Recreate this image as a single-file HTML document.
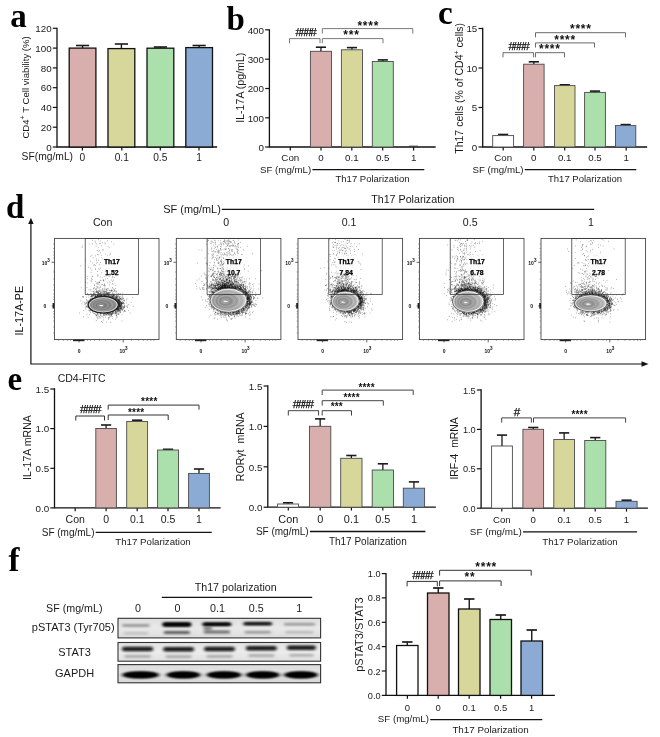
<!DOCTYPE html>
<html lang="en"><head><meta charset="utf-8"><title>Figure</title>
<style>html,body{margin:0;padding:0;background:#fff}svg{display:block;will-change:transform}text{font-family:"Liberation Sans", Arial, sans-serif;white-space:pre}text.sf{font-family:"Liberation Serif", "Times New Roman", serif}</style>
</head><body>
<svg width="660" height="737" viewBox="0 0 660 737">
<defs>
<filter id="b1" x="-20%" y="-150%" width="140%" height="400%"><feGaussianBlur stdDeviation="1.5 0.95"/></filter>
<filter id="b2" x="-20%" y="-150%" width="140%" height="400%"><feGaussianBlur stdDeviation="1.9 1.2"/></filter>
<linearGradient id="bg0" x1="0" y1="0" x2="0" y2="1"><stop offset="0" stop-color="#dedede"/><stop offset="0.5" stop-color="#e9e9e9"/><stop offset="1" stop-color="#dcdcdc"/></linearGradient>
<linearGradient id="bg1" x1="0" y1="0" x2="0" y2="1"><stop offset="0" stop-color="#e2e2e2"/><stop offset="0.5" stop-color="#ececec"/><stop offset="1" stop-color="#e0e0e0"/></linearGradient>
<linearGradient id="bg2" x1="0" y1="0" x2="0" y2="1"><stop offset="0" stop-color="#dadada"/><stop offset="0.5" stop-color="#e6e6e6"/><stop offset="1" stop-color="#d6d6d6"/></linearGradient>
<filter id="soft" x="-5%" y="-5%" width="110%" height="110%"><feGaussianBlur stdDeviation="0.35"/></filter>
<radialGradient id="blob" cx="0.40" cy="0.54" r="0.62"><stop offset="0" stop-color="#d8d8d8"/><stop offset="0.12" stop-color="#8c8c8c"/><stop offset="0.4" stop-color="#9a9a9a"/><stop offset="0.7" stop-color="#b4b4b4"/><stop offset="1" stop-color="#d4d4d4"/></radialGradient>
<radialGradient id="blobd" cx="0.42" cy="0.54" r="0.62"><stop offset="0" stop-color="#e6e6e6"/><stop offset="0.1" stop-color="#7c7c7c"/><stop offset="0.5" stop-color="#868686"/><stop offset="1" stop-color="#9c9c9c"/></radialGradient>
</defs>
<rect width="660" height="737" fill="#fff"/>
<text x="10.3" y="27" font-size="33" font-weight="bold" class="sf" fill="#000">a</text>
<path d="M57 28.3V147H216.5" fill="none" stroke="#111" stroke-width="1.3" stroke-linecap="square"/>
<line x1="52.8" y1="28.3" x2="57" y2="28.3" stroke="#111" stroke-width="1.2"/>
<text x="51.6" y="32.03" font-size="9.8" text-anchor="end" fill="#1a1a1a">120</text>
<line x1="52.8" y1="48.1" x2="57" y2="48.1" stroke="#111" stroke-width="1.2"/>
<text x="51.6" y="51.83" font-size="9.8" text-anchor="end" fill="#1a1a1a">100</text>
<line x1="52.8" y1="67.9" x2="57" y2="67.9" stroke="#111" stroke-width="1.2"/>
<text x="51.6" y="71.63" font-size="9.8" text-anchor="end" fill="#1a1a1a">80</text>
<line x1="52.8" y1="87.7" x2="57" y2="87.7" stroke="#111" stroke-width="1.2"/>
<text x="51.6" y="91.43" font-size="9.8" text-anchor="end" fill="#1a1a1a">60</text>
<line x1="52.8" y1="107.4" x2="57" y2="107.4" stroke="#111" stroke-width="1.2"/>
<text x="51.6" y="111.13" font-size="9.8" text-anchor="end" fill="#1a1a1a">40</text>
<line x1="52.8" y1="127.2" x2="57" y2="127.2" stroke="#111" stroke-width="1.2"/>
<text x="51.6" y="130.93" font-size="9.8" text-anchor="end" fill="#1a1a1a">20</text>
<line x1="52.8" y1="147" x2="57" y2="147" stroke="#111" stroke-width="1.2"/>
<text x="51.6" y="150.73" font-size="9.8" text-anchor="end" fill="#1a1a1a">0</text>
<line x1="82.4" y1="147" x2="82.4" y2="150.4" stroke="#111" stroke-width="1.2"/>
<text x="82.4" y="160.6" font-size="10.2" text-anchor="middle" fill="#1a1a1a">0</text>
<line x1="121.8" y1="147" x2="121.8" y2="150.4" stroke="#111" stroke-width="1.2"/>
<text x="121.8" y="160.6" font-size="10.2" text-anchor="middle" fill="#1a1a1a">0.1</text>
<line x1="160.3" y1="147" x2="160.3" y2="150.4" stroke="#111" stroke-width="1.2"/>
<text x="160.3" y="160.6" font-size="10.2" text-anchor="middle" fill="#1a1a1a">0.5</text>
<line x1="199" y1="147" x2="199" y2="150.4" stroke="#111" stroke-width="1.2"/>
<text x="199" y="160.6" font-size="10.2" text-anchor="middle" fill="#1a1a1a">1</text>
<text x="47.3" y="160.4" font-size="10.3" text-anchor="middle" fill="#1a1a1a">SF(mg/mL)</text>
<line x1="82.55" y1="45.5" x2="82.55" y2="48.1" stroke="#1a1a1a" stroke-width="1.4"/>
<line x1="75.95" y1="45.5" x2="89.15" y2="45.5" stroke="#1a1a1a" stroke-width="1.6"/>
<rect x="69.2" y="48.1" width="26.7" height="98.9" fill="#D9AFAE" stroke="#111" stroke-width="1.3"/>
<line x1="121.4" y1="44" x2="121.4" y2="48.6" stroke="#1a1a1a" stroke-width="1.4"/>
<line x1="114.8" y1="44" x2="128" y2="44" stroke="#1a1a1a" stroke-width="1.6"/>
<rect x="108" y="48.6" width="26.8" height="98.4" fill="#D7D79B" stroke="#111" stroke-width="1.3"/>
<line x1="160.4" y1="47" x2="160.4" y2="48.2" stroke="#1a1a1a" stroke-width="1.4"/>
<line x1="153.8" y1="47" x2="167" y2="47" stroke="#1a1a1a" stroke-width="1.6"/>
<rect x="147" y="48.2" width="26.8" height="98.8" fill="#ABDFAB" stroke="#111" stroke-width="1.3"/>
<line x1="199.15" y1="45.5" x2="199.15" y2="47.6" stroke="#1a1a1a" stroke-width="1.4"/>
<line x1="192.55" y1="45.5" x2="205.75" y2="45.5" stroke="#1a1a1a" stroke-width="1.6"/>
<rect x="185.8" y="47.6" width="26.7" height="99.4" fill="#8BABD4" stroke="#111" stroke-width="1.3"/>
<text x="29.2" y="87.4" font-size="9.6" text-anchor="middle" fill="#1a1a1a" transform="rotate(-90 29.2 87.4)">CD4<tspan dy="-3.8" font-size="7">+</tspan><tspan dy="3.8"> T Cell viability (%)</tspan></text>
<text x="226.5" y="30.2" font-size="33" font-weight="bold" class="sf" fill="#000">b</text>
<path d="M269.4 29.8V147H435" fill="none" stroke="#111" stroke-width="1.3" stroke-linecap="square"/>
<line x1="265.2" y1="29.8" x2="269.4" y2="29.8" stroke="#111" stroke-width="1.2"/>
<text x="264" y="33.53" font-size="9.8" text-anchor="end" fill="#1a1a1a">400</text>
<line x1="265.2" y1="59.2" x2="269.4" y2="59.2" stroke="#111" stroke-width="1.2"/>
<text x="264" y="62.93" font-size="9.8" text-anchor="end" fill="#1a1a1a">300</text>
<line x1="265.2" y1="88.5" x2="269.4" y2="88.5" stroke="#111" stroke-width="1.2"/>
<text x="264" y="92.23" font-size="9.8" text-anchor="end" fill="#1a1a1a">200</text>
<line x1="265.2" y1="117.8" x2="269.4" y2="117.8" stroke="#111" stroke-width="1.2"/>
<text x="264" y="121.53" font-size="9.8" text-anchor="end" fill="#1a1a1a">100</text>
<line x1="265.2" y1="147" x2="269.4" y2="147" stroke="#111" stroke-width="1.2"/>
<text x="264" y="150.73" font-size="9.8" text-anchor="end" fill="#1a1a1a">0</text>
<line x1="290.3" y1="147" x2="290.3" y2="150.4" stroke="#111" stroke-width="1.2"/>
<text x="290.3" y="161" font-size="9.75" text-anchor="middle" fill="#1a1a1a">Con</text>
<line x1="321" y1="147" x2="321" y2="150.4" stroke="#111" stroke-width="1.2"/>
<text x="321" y="161" font-size="9.75" text-anchor="middle" fill="#1a1a1a">0</text>
<line x1="351.8" y1="147" x2="351.8" y2="150.4" stroke="#111" stroke-width="1.2"/>
<text x="351.8" y="161" font-size="9.75" text-anchor="middle" fill="#1a1a1a">0.1</text>
<line x1="382.7" y1="147" x2="382.7" y2="150.4" stroke="#111" stroke-width="1.2"/>
<text x="382.7" y="161" font-size="9.75" text-anchor="middle" fill="#1a1a1a">0.5</text>
<line x1="413.6" y1="147" x2="413.6" y2="150.4" stroke="#111" stroke-width="1.2"/>
<text x="413.6" y="161" font-size="9.75" text-anchor="middle" fill="#1a1a1a">1</text>
<line x1="320.95" y1="47.2" x2="320.95" y2="51.3" stroke="#1a1a1a" stroke-width="1.3"/>
<line x1="315.85" y1="47.2" x2="326.05" y2="47.2" stroke="#1a1a1a" stroke-width="1.6"/>
<rect x="310.4" y="51.3" width="21.1" height="95.7" fill="#D9AFAE" stroke="#4a4a4a" stroke-width="0.9"/>
<line x1="351.95" y1="47.6" x2="351.95" y2="49.8" stroke="#1a1a1a" stroke-width="1.3"/>
<line x1="346.85" y1="47.6" x2="357.05" y2="47.6" stroke="#1a1a1a" stroke-width="1.6"/>
<rect x="341.4" y="49.8" width="21.1" height="97.2" fill="#D7D79B" stroke="#4a4a4a" stroke-width="0.9"/>
<line x1="382.8" y1="59.9" x2="382.8" y2="61.5" stroke="#1a1a1a" stroke-width="1.3"/>
<line x1="377.7" y1="59.9" x2="387.9" y2="59.9" stroke="#1a1a1a" stroke-width="1.6"/>
<rect x="372.3" y="61.5" width="21" height="85.5" fill="#ABDFAB" stroke="#4a4a4a" stroke-width="0.9"/>
<line x1="409" y1="146.1" x2="418" y2="146.1" stroke="#333" stroke-width="0.8"/>
<text x="243.6" y="87.7" font-size="10.6" text-anchor="middle" fill="#1a1a1a" transform="rotate(-90 243.6 87.7)">IL-17A (pg/mL)</text>
<path d="M289.5 43.2V38.6H320 V43.2" fill="none" stroke="#6a6a6a" stroke-width="0.9"/>
<text x="305.43" y="36.2" font-size="11.7" text-anchor="middle" fill="#111" letter-spacing="-1.55" stroke="#111" stroke-width="0.25">####</text>
<path d="M322.3 43.2V38.6H383 V43.2" fill="none" stroke="#6a6a6a" stroke-width="0.9"/>
<text x="351.48" y="39.25" font-size="12" text-anchor="middle" font-weight="bold" fill="#111" letter-spacing="0.75">***</text>
<path d="M322.3 33.6V28.6H412.8 V33.6" fill="none" stroke="#6a6a6a" stroke-width="0.9"/>
<text x="368.27" y="29.75" font-size="12" text-anchor="middle" font-weight="bold" fill="#111" letter-spacing="0.75">****</text>
<text x="311.2" y="172.8" font-size="9.7" text-anchor="end" fill="#1a1a1a">SF (mg/mL)</text>
<line x1="312.4" y1="169.6" x2="424.3" y2="169.6" stroke="#111" stroke-width="1.3"/>
<text x="372.5" y="181.8" font-size="9.5" text-anchor="middle" fill="#1a1a1a">Th17 Polarization</text>
<text x="438" y="24.2" font-size="33" font-weight="bold" class="sf" fill="#000">c</text>
<path d="M482.7 28.5V147H646.5" fill="none" stroke="#111" stroke-width="1.3" stroke-linecap="square"/>
<line x1="478.5" y1="28.5" x2="482.7" y2="28.5" stroke="#111" stroke-width="1.2"/>
<text x="477.3" y="32.23" font-size="9.8" text-anchor="end" fill="#1a1a1a">15</text>
<line x1="478.5" y1="68" x2="482.7" y2="68" stroke="#111" stroke-width="1.2"/>
<text x="477.3" y="71.73" font-size="9.8" text-anchor="end" fill="#1a1a1a">10</text>
<line x1="478.5" y1="107.5" x2="482.7" y2="107.5" stroke="#111" stroke-width="1.2"/>
<text x="477.3" y="111.23" font-size="9.8" text-anchor="end" fill="#1a1a1a">5</text>
<line x1="478.5" y1="147" x2="482.7" y2="147" stroke="#111" stroke-width="1.2"/>
<text x="477.3" y="150.73" font-size="9.8" text-anchor="end" fill="#1a1a1a">0</text>
<line x1="503.2" y1="147" x2="503.2" y2="150.4" stroke="#111" stroke-width="1.2"/>
<text x="503.2" y="161" font-size="9.7" text-anchor="middle" fill="#1a1a1a">Con</text>
<line x1="533.8" y1="147" x2="533.8" y2="150.4" stroke="#111" stroke-width="1.2"/>
<text x="533.8" y="161" font-size="9.7" text-anchor="middle" fill="#1a1a1a">0</text>
<line x1="564.7" y1="147" x2="564.7" y2="150.4" stroke="#111" stroke-width="1.2"/>
<text x="564.7" y="161" font-size="9.7" text-anchor="middle" fill="#1a1a1a">0.1</text>
<line x1="595" y1="147" x2="595" y2="150.4" stroke="#111" stroke-width="1.2"/>
<text x="595" y="161" font-size="9.7" text-anchor="middle" fill="#1a1a1a">0.5</text>
<line x1="626.2" y1="147" x2="626.2" y2="150.4" stroke="#111" stroke-width="1.2"/>
<text x="626.2" y="161" font-size="9.7" text-anchor="middle" fill="#1a1a1a">1</text>
<line x1="503.15" y1="134.5" x2="503.15" y2="135.6" stroke="#1a1a1a" stroke-width="1.3"/>
<line x1="498.05" y1="134.5" x2="508.25" y2="134.5" stroke="#1a1a1a" stroke-width="1.6"/>
<rect x="492.7" y="135.6" width="20.9" height="11.4" fill="#FFFFFF" stroke="#4a4a4a" stroke-width="0.9"/>
<line x1="533.85" y1="61.8" x2="533.85" y2="64.2" stroke="#1a1a1a" stroke-width="1.3"/>
<line x1="528.75" y1="61.8" x2="538.95" y2="61.8" stroke="#1a1a1a" stroke-width="1.6"/>
<rect x="523.6" y="64.2" width="20.5" height="82.8" fill="#D9AFAE" stroke="#4a4a4a" stroke-width="0.9"/>
<line x1="564.75" y1="84.8" x2="564.75" y2="85.6" stroke="#1a1a1a" stroke-width="1.3"/>
<line x1="559.65" y1="84.8" x2="569.85" y2="84.8" stroke="#1a1a1a" stroke-width="1.6"/>
<rect x="554.5" y="85.6" width="20.5" height="61.4" fill="#D7D79B" stroke="#4a4a4a" stroke-width="0.9"/>
<line x1="595" y1="91.1" x2="595" y2="92.4" stroke="#1a1a1a" stroke-width="1.3"/>
<line x1="589.9" y1="91.1" x2="600.1" y2="91.1" stroke="#1a1a1a" stroke-width="1.6"/>
<rect x="584.6" y="92.4" width="20.8" height="54.6" fill="#ABDFAB" stroke="#4a4a4a" stroke-width="0.9"/>
<line x1="625.65" y1="124.6" x2="625.65" y2="125.6" stroke="#1a1a1a" stroke-width="1.3"/>
<line x1="620.55" y1="124.6" x2="630.75" y2="124.6" stroke="#1a1a1a" stroke-width="1.6"/>
<rect x="615.5" y="125.6" width="20.3" height="21.4" fill="#8BABD4" stroke="#4a4a4a" stroke-width="0.9"/>
<text x="463.2" y="88.3" font-size="10.5" text-anchor="middle" fill="#1a1a1a" transform="rotate(-90 463.2 88.3)">Th17 cells (% of CD4<tspan dy="-3.8" font-size="7.2">+</tspan><tspan dy="3.8"> cells)</tspan></text>
<path d="M503 57.3V52.7H533.6 V57.3" fill="none" stroke="#5a5a5a" stroke-width="0.9"/>
<text x="518.33" y="50.4" font-size="11.7" text-anchor="middle" fill="#111" letter-spacing="-1.55" stroke="#111" stroke-width="0.25">####</text>
<path d="M535.5 57.3V52.7H564.5 V57.3" fill="none" stroke="#5a5a5a" stroke-width="0.9"/>
<text x="549.88" y="53.45" font-size="12" text-anchor="middle" font-weight="bold" fill="#111" letter-spacing="0.75">****</text>
<path d="M535.5 47.5V42.9H594.5 V47.5" fill="none" stroke="#5a5a5a" stroke-width="0.9"/>
<text x="565.08" y="43.75" font-size="12" text-anchor="middle" font-weight="bold" fill="#111" letter-spacing="0.75">****</text>
<path d="M535.5 37.3V32.7H625.5 V37.3" fill="none" stroke="#5a5a5a" stroke-width="0.9"/>
<text x="580.88" y="32.55" font-size="12" text-anchor="middle" font-weight="bold" fill="#111" letter-spacing="0.75">****</text>
<text x="523.6" y="172.8" font-size="9.7" text-anchor="end" fill="#1a1a1a">SF (mg/mL)</text>
<line x1="524.8" y1="169.6" x2="636.3" y2="169.6" stroke="#111" stroke-width="1.3"/>
<text x="585" y="181.6" font-size="9.5" text-anchor="middle" fill="#1a1a1a">Th17 Polarization</text>
<text x="6" y="217.6" font-size="33" font-weight="bold" class="sf" fill="#000">d</text>
<path d="M30.9 222V364H642" fill="none" stroke="#111" stroke-width="1.2"/>
<path d="M30.9 217.8L28.2 224H33.6Z" fill="#111"/>
<path d="M648.5 364L641.5 361.2V366.8Z" fill="#111"/>
<text x="23.2" y="310.7" font-size="10.75" text-anchor="middle" fill="#1a1a1a" transform="rotate(-90 23.2 310.7)">IL-17A-PE</text>
<text x="81.6" y="381.8" font-size="10.5" text-anchor="middle" fill="#1a1a1a">CD4-FITC</text>
<text x="220.8" y="212.5" font-size="10.9" text-anchor="end" fill="#1a1a1a">SF (mg/mL)</text>
<line x1="221.8" y1="209.3" x2="594.2" y2="209.3" stroke="#111" stroke-width="1.2"/>
<text x="412.8" y="203.2" font-size="10.7" text-anchor="middle" fill="#1a1a1a">Th17 Polarization</text>
<text x="102.7" y="226.2" font-size="10.6" text-anchor="middle" fill="#1a1a1a">Con</text>
<g>
<rect x="54.4" y="238.4" width="104.6" height="101.2" fill="#fff" stroke="#3c3c3c" stroke-width="0.85"/>
<path d="M120.09 299.3h0.6M107.38 296.72h0.6M116.26 309.38h0.6M118.79 302.83h0.6M111.95 312.2h0.6M104.07 313.11h0.6M111.85 297.19h0.6M118.66 309.11h0.6M116.47 291.5h0.6M89.42 311.09h0.6M119.26 310.94h0.6M104.19 294.16h0.6M108.54 294.19h0.6M101.5 295.9h0.6M114.92 310.63h0.6M109 294.98h0.6M108.37 318.22h0.6M118.62 304.23h0.6M97.38 317.96h0.6M114.1 297.92h0.6M115.97 300.33h0.6M119.07 301.12h0.6M116.18 297.69h0.6M118.59 302.75h0.6M118.93 309.12h0.6M113.08 297.28h0.6M124.53 306.3h0.6M124.33 310.64h0.6M126.08 302.84h0.6M121.69 307.41h0.6M120.61 306.21h0.6M101.36 295.92h0.6M115.57 300.01h0.6M88.61 297.18h0.6M100.61 292.1h0.6M111.26 297.83h0.6M98.33 296.59h0.6M118.67 299.72h0.6M107.77 312.75h0.6M115.78 299.04h0.6M115.52 298.08h0.6M95.71 315.6h0.6M100.76 312.96h0.6M100.56 315.15h0.6M130.73 302.47h0.6M118.99 307.21h0.6M118.9 305.86h0.6M104.71 315.7h0.6M96.66 295.91h0.6M111.12 314.86h0.6M101.11 313.44h0.6M104.38 283.97h0.6M119.02 300.55h0.6M117.97 299.18h0.6M116.43 297.11h0.6M110.04 296.35h0.6M123.16 303.2h0.6M117.03 299.78h0.6M120.42 311.18h0.6M120.63 306.7h0.6M113.95 312.43h0.6M118.24 310.22h0.6M111.9 297.65h0.6M119.14 297.41h0.6M86.15 299.39h0.6M109.58 292.45h0.6M123.91 300.92h0.6M116.16 299.56h0.6M118.28 300.32h0.6M118.86 306.06h0.6M121.78 314.89h0.6M108.2 312.65h0.6M113.04 297.17h0.6M118.09 300.22h0.6M115.02 299.28h0.6M117.13 313.89h0.6M120.88 306h0.6M118.88 314.03h0.6M109.1 312.79h0.6M112.73 311.72h0.6M122.65 298.29h0.6M104.94 293.99h0.6M90.24 299.28h0.6M115.26 319.11h0.6M121.48 303.56h0.6M116.89 299.98h0.6M119.42 296.72h0.6M117.31 308.49h0.6M95.68 297.67h0.6M118.4 305.99h0.6M119.73 308.04h0.6M118.04 311.29h0.6M120.05 302.71h0.6M116.75 308.6h0.6M111.71 312.21h0.6M99.81 295.17h0.6M103.09 291.45h0.6M122.11 295.97h0.6M100.6 296.01h0.6M110.66 294.58h0.6M108.14 314.34h0.6M115.12 311.67h0.6M106.42 294.03h0.6M117.83 302.37h0.6M106.83 295.42h0.6M110.42 316.32h0.6M118.72 307.01h0.6M116.25 310.38h0.6M107.08 313.1h0.6M113.27 294.62h0.6M105.49 293.14h0.6M122.86 303.94h0.6M117.85 309.35h0.6M117.26 308.86h0.6M100.06 313.48h0.6M100.7 294.51h0.6M119.09 299.31h0.6M116.6 298.68h0.6M108.89 313.82h0.6M89.16 301.56h0.6M124.07 306.76h0.6M119.42 308.96h0.6M118.83 310.44h0.6M103.8 315.47h0.6M121.57 302.48h0.6M114.96 299.43h0.6M108.62 295.71h0.6M119.14 304.29h0.6M110.47 322.5h0.6M97.17 314.29h0.6M120.91 309.44h0.6M117.2 299.61h0.6M90.17 299.77h0.6M100.36 312.92h0.6M110.49 295.07h0.6M116.27 298.2h0.6M109.05 294.18h0.6M118.4 304.3h0.6M111.76 311.88h0.6M119.97 304.38h0.6M118.75 304.87h0.6M113.77 289.48h0.6M119.27 302.12h0.6M117.59 310.26h0.6M120.64 310.6h0.6M97.25 296.66h0.6M111.88 295.18h0.6M88.58 306.97h0.6M108.45 295.32h0.6M95.23 296.79h0.6M101.28 294.37h0.6M120 311.95h0.6M110.88 314.64h0.6M88.87 299.08h0.6M89.25 310.3h0.6M110.45 296.11h0.6M88.41 310.35h0.6M107.66 294.35h0.6M126.87 306.76h0.6M91.43 299.24h0.6M124.45 303.61h0.6M112.96 294.52h0.6M117.56 309.57h0.6M97.84 295.51h0.6M110.8 294.48h0.6M117.02 298.59h0.6M111.46 296.14h0.6M118.72 301.2h0.6M109.63 293.31h0.6M110.36 312.26h0.6M92.26 296.52h0.6M103.52 291.16h0.6M96.76 312.32h0.6M118.68 297.7h0.6M85.95 297.08h0.6M90.68 310.2h0.6M105.01 317.15h0.6M116.02 295.78h0.6M117.65 311.02h0.6M120.88 304.84h0.6M95.21 314.57h0.6M120.85 308.04h0.6M118.87 300.72h0.6M116.94 300.81h0.6M112.13 296.35h0.6M118.69 304.55h0.6M118.02 307.45h0.6M118.09 294.01h0.6M85.11 309h0.6M108.37 312.78h0.6M117.73 296.57h0.6M95.52 297.23h0.6M87.86 303.1h0.6M99.99 313.07h0.6M103.88 295.46h0.6M118.07 306.52h0.6M106.99 294.03h0.6M115.74 292.29h0.6M106.26 295.86h0.6M104.73 313.44h0.6M84.9 304.88h0.6M99.8 295.99h0.6M119.58 305.86h0.6M108.76 294.03h0.6M107.88 294.36h0.6M90.04 300.19h0.6M111.18 313.4h0.6M107.59 293.23h0.6M122.87 302.4h0.6M112.78 311.52h0.6M119.12 307.1h0.6M117.58 309.05h0.6M105.37 314.26h0.6M117.68 301.14h0.6M121.08 303.51h0.6M118.06 308h0.6M114.83 296.82h0.6M112.78 296.23h0.6M106.77 313.76h0.6M108.27 314.76h0.6M119.64 304.4h0.6M118.16 309.07h0.6M100.89 313.51h0.6M118.49 300.08h0.6M92.53 312.35h0.6M119.31 305.98h0.6M85.63 303.48h0.6M113.52 313.42h0.6M88.46 302.47h0.6M95.49 297.34h0.6M114.83 297.03h0.6M120.34 307.51h0.6M120.88 303.14h0.6M117.86 300.04h0.6M116.18 295.88h0.6M116.72 309.61h0.6M100.41 313.27h0.6M94.89 296.49h0.6M112.95 312.63h0.6M118.91 306.08h0.6M118.25 307.82h0.6M102.93 315.29h0.6M110.49 315.37h0.6M123.59 300.8h0.6M116.57 297.03h0.6M120.34 307.33h0.6M118.35 303.6h0.6M104.94 314.78h0.6M118.87 303.05h0.6M115.41 298.82h0.6M122.2 301.99h0.6M103.39 317.78h0.6M125.04 311.25h0.6M114.75 297.16h0.6M107.85 296.26h0.6M112.31 294.13h0.6M114.42 290.89h0.6M106.18 322h0.6M121.55 302.64h0.6M121.25 304.02h0.6M118.71 304.46h0.6M111.59 297.35h0.6M119.52 303.67h0.6M116.65 316.93h0.6M96.3 312.66h0.6M112.85 311.48h0.6M119.55 308.03h0.6M97.47 313.27h0.6M112.2 287.49h0.6M91.87 298.47h0.6M100.7 295.22h0.6M116.82 308.53h0.6M120.82 305.5h0.6M120.22 305.5h0.6M112.58 293.41h0.6M118.63 306.07h0.6M121.74 296.16h0.6M112.11 316.54h0.6M120.81 305.43h0.6M119.48 301.84h0.6M106.38 313.97h0.6M110.81 314h0.6M111.11 316.08h0.6M114.08 313.74h0.6M114.42 296.14h0.6M88.16 300.79h0.6M94.39 295.59h0.6M121.63 307.17h0.6M118.17 300.86h0.6M120.18 304.35h0.6M113.72 294.26h0.6M115.42 288.58h0.6M113.66 298.81h0.6M109.47 315.78h0.6M117.5 308.8h0.6M105.69 293.48h0.6M108.45 294.39h0.6M111.49 296.7h0.6M115.92 297.26h0.6M95.05 296.15h0.6M92.83 298.71h0.6M97.48 295.18h0.6M115.87 313.04h0.6M111.13 294.43h0.6M96.32 296.91h0.6M117.74 308.25h0.6M95.25 295.79h0.6M112.93 297.16h0.6M116.45 309.32h0.6M119.7 301.58h0.6M120.48 302.84h0.6M121.2 304.64h0.6M108.37 317.57h0.6M118.86 310.35h0.6M118.43 314.24h0.6M115.72 299.47h0.6M114.6 311.18h0.6M103.63 314.37h0.6M114.04 295.72h0.6M119.61 302.58h0.6M112.97 313.58h0.6M119.57 302.75h0.6M121.49 308.25h0.6M120.09 298.77h0.6M117.82 302h0.6M116.9 299.33h0.6M128.11 310.67h0.6M116.07 309.95h0.6M103.24 293.69h0.6M118.55 305.17h0.6M117.6 307.49h0.6M96.22 296.02h0.6M111.76 295.77h0.6M91.83 295.91h0.6M123.62 309.07h0.6M120.33 306.24h0.6M89.92 300.78h0.6M122.37 303.55h0.6M103.48 293.59h0.6M83.4 310.47h0.6M116.71 311.86h0.6M122.44 297.87h0.6M86.77 306.51h0.6M117.92 300.72h0.6M116.71 311h0.6M93.47 313.34h0.6M113.12 295.58h0.6M104.97 314.04h0.6M120.18 309.29h0.6M121.34 303.08h0.6M103.82 285.14h0.6M115.95 309.74h0.6M90.7 298.79h0.6M120.79 298.91h0.6M100.6 293.2h0.6M118.33 305.85h0.6M115.14 312.58h0.6M99.16 316.57h0.6M113.11 298.21h0.6M116.55 300.79h0.6M104.94 313.59h0.6M124.02 300.19h0.6M116.69 299.29h0.6M124.04 310.63h0.6M119 303.84h0.6M107.25 293.78h0.6M98.79 295.88h0.6M122.88 312.08h0.6M115.08 312.97h0.6M123.2 302.81h0.6M120.81 306.16h0.6M117.12 309.57h0.6M120.29 306.35h0.6M111.41 289.91h0.6M114.59 291.24h0.6M94.57 311.69h0.6M95.77 296.19h0.6M115.37 298.39h0.6M106.84 295.06h0.6M93.95 296.85h0.6M109.42 312.51h0.6M88.56 302.73h0.6M107.54 294.79h0.6M107.32 296.01h0.6M122.05 305.84h0.6M115.91 315.33h0.6M126.72 298.78h0.6M118.16 314.06h0.6M117.36 308.6h0.6M109.69 312.73h0.6M104.55 295.52h0.6M117.02 308.78h0.6M117.93 300.42h0.6M120.3 303.02h0.6M113.28 296h0.6M124.52 307.03h0.6M119.65 308.12h0.6M122.37 306.31h0.6M120.46 305.78h0.6M92.28 298.77h0.6M116.85 297.28h0.6M113.47 296.84h0.6M99.61 312.98h0.6M99.8 314.15h0.6M118.84 304.89h0.6M86.23 307.31h0.6M119.24 303.06h0.6M107.91 296.57h0.6M108.85 314.17h0.6M120.25 298.51h0.6M108.38 296.11h0.6M118.46 299.75h0.6M123.4 298.56h0.6M118.98 303.81h0.6M91.67 298.29h0.6M117.93 307.96h0.6M123.16 306.69h0.6M106.08 294.26h0.6M116.34 300.34h0.6M105.68 296.07h0.6M121.35 307.36h0.6M103.32 314.23h0.6M117.9 308.73h0.6M115.55 311.8h0.6M119.29 297.53h0.6M128.51 304.49h0.6M112.53 311.96h0.6M118.67 312.68h0.6M116.4 298.2h0.6M102.73 295.96h0.6M118.4 307.35h0.6M119 305.74h0.6M85 307.11h0.6M119.91 303.8h0.6M99.02 295.58h0.6M105.78 294.43h0.6M117.43 296.2h0.6M107.61 292.63h0.6M102.4 295.86h0.6M93.69 293.64h0.6M118.54 305.68h0.6M106.31 314.3h0.6M119.54 308.67h0.6M98.2 293.79h0.6M118.83 304.1h0.6M120.03 301.52h0.6M111.91 313.82h0.6M110.99 290.35h0.6M118.48 309.43h0.6M119.11 306.17h0.6M114.76 297.95h0.6M111.18 314.78h0.6M97.64 295.45h0.6M113.7 297.48h0.6M117.26 296.2h0.6M111.54 291.22h0.6M120.9 297.94h0.6M114.73 297.93h0.6M122.63 308.68h0.6M83.19 296.66h0.6M124.3 310.88h0.6M97.85 296.02h0.6M103.41 313.02h0.6M103.7 296.09h0.6M97.38 295.62h0.6M116.57 298.49h0.6M107.84 296.29h0.6M111.95 296.33h0.6M120.44 298.39h0.6M125.9 306.13h0.6M90.98 295.3h0.6M104.67 294.05h0.6M111.38 314.11h0.6M91.94 297.54h0.6M93.35 295.56h0.6M122.51 301.39h0.6M109.91 295.71h0.6M117.87 307.85h0.6M119.61 306.61h0.6M118.18 302.58h0.6M122.07 299.45h0.6M109.82 313.6h0.6M118.08 299.79h0.6M86.93 305.19h0.6M120.3 308.1h0.6M112.48 311.62h0.6M111.07 315.16h0.6M104.36 312.99h0.6M123.33 307.63h0.6M100.57 296h0.6M112.75 311.9h0.6M90.17 312.29h0.6M119.79 298.7h0.6M116.18 311.28h0.6M111.99 314.16h0.6M123.11 308.15h0.6M116.91 297.68h0.6M115 312.5h0.6M116.39 300.05h0.6M107.03 294.53h0.6M111.87 318.51h0.6M120.06 303.53h0.6M119.84 302.18h0.6M112.15 296.55h0.6M89.17 301.48h0.6M117.69 308.1h0.6M109.32 313.99h0.6M121.25 303.88h0.6M114.02 295.48h0.6M95.19 311.84h0.6M93.5 298.56h0.6M118.26 301.09h0.6M102.42 294.87h0.6M121.35 302.41h0.6M100.21 286.29h0.6M119.8 312.53h0.6M92.19 311.34h0.6M120.42 306.47h0.6M85.73 302.63h0.6M116.62 312.63h0.6M118.25 296.05h0.6M120.98 303.07h0.6M118.69 305.38h0.6M81.53 303.82h0.6M121.05 304.15h0.6M109.28 294.35h0.6M119.97 304.78h0.6M117.39 309.18h0.6M106.96 313.64h0.6M103.21 295.7h0.6M90.44 299.05h0.6M94.67 313.42h0.6M115.74 299.87h0.6M117.11 300.29h0.6M119.48 301.59h0.6M108.66 292.95h0.6M116.39 315.29h0.6M104.29 294.86h0.6M87.66 306.88h0.6M90.88 299.35h0.6M105.85 291.33h0.6M92.2 295.39h0.6M113.33 296.06h0.6M91.83 295.84h0.6M117.2 310.91h0.6M115.35 311.07h0.6M115.16 299.57h0.6M117.61 295.76h0.6M108.22 313.93h0.6M119.16 306.54h0.6M96.09 312.57h0.6M90.84 299.54h0.6M122.55 307.58h0.6M122.01 298.12h0.6M116.91 309.75h0.6M118.53 302.39h0.6M95.04 295.94h0.6M111.78 294.36h0.6M118.38 302.58h0.6M108.68 295.92h0.6M117.33 308.42h0.6M109.23 317.79h0.6M116.42 314.92h0.6M119.57 304.04h0.6M119.38 303.45h0.6M107.36 313.41h0.6M119.52 298.19h0.6M106.04 295.04h0.6M99.24 295.12h0.6M124.04 307.7h0.6M121.13 306.92h0.6M96.49 315.24h0.6M111.02 314.1h0.6M118.15 309.93h0.6M105.21 295.65h0.6M119.12 299.43h0.6M119.03 300.96h0.6M114.3 310.53h0.6M112.25 296.38h0.6M84.35 304.05h0.6M117.86 301.74h0.6M101.45 296h0.6M120.05 309.14h0.6M120.18 305.86h0.6M101 316.19h0.6M123.85 307.39h0.6M118.94 306.14h0.6M120.31 308.36h0.6M120.12 308.1h0.6M119 301.72h0.6M119 305.19h0.6M114.37 299.02h0.6M101.46 295.89h0.6M86.34 303h0.6M116.3 297.94h0.6M95.54 296.28h0.6M121.51 300.15h0.6M96.24 315.51h0.6M113.86 294.14h0.6M120.15 296.31h0.6M99.54 293.87h0.6M104.99 296.19h0.6M107.48 314.99h0.6M120.52 301.34h0.6M86.67 300.2h0.6M111.55 296.92h0.6M118.65 304.31h0.6M87.06 301.79h0.6M105.5 312.96h0.6M95.81 295.88h0.6M94.25 313.37h0.6M120.92 308.72h0.6M87.24 307.23h0.6M124.26 305.22h0.6M115.9 293.58h0.6M90.62 310.24h0.6M97.23 295.7h0.6M90.08 310.82h0.6M108.74 313.61h0.6M120.21 305.7h0.6M87.62 302.81h0.6M105.79 291.97h0.6M120.52 308.68h0.6M106.26 293.11h0.6M121.88 303.39h0.6M106.56 314.1h0.6M122.45 293.18h0.6M82.54 296.47h0.6M99.51 293.43h0.6M117.18 297.33h0.6M97.31 292.94h0.6M115.32 310.99h0.6M118.48 304.87h0.6M129.87 313.15h0.6M120.29 301.83h0.6M106.41 315.01h0.6M82.73 301.94h0.6M121.15 308.49h0.6M100.75 293.95h0.6M129.11 294.52h0.6M124.54 311.49h0.6M118.01 309.75h0.6M94.7 297.4h0.6M108.75 296.94h0.6M103.86 313.04h0.6M117.82 302.09h0.6M109.57 317.17h0.6M97.77 296.24h0.6M112.37 297.78h0.6M119.34 303.9h0.6M127.48 305.26h0.6M85.94 306.37h0.6M115.37 313.59h0.6M111.36 295.52h0.6M116.12 315.68h0.6M109.09 296.2h0.6M111.33 297.15h0.6M119.22 308.29h0.6M123.52 303.66h0.6M118.82 299.91h0.6M121.88 309.96h0.6M88.92 301.03h0.6M109.66 297.08h0.6M122.14 309.25h0.6M88.17 307.06h0.6M88.55 301.92h0.6M115.81 290.8h0.6M108.78 315.01h0.6M102.18 316.76h0.6M107.49 313.14h0.6M116.19 296.28h0.6M103.01 295.94h0.6M93.94 297.94h0.6M104.09 313.34h0.6M120.75 299.76h0.6M123.49 298.83h0.6M100.17 294.98h0.6M112.18 297.67h0.6M117.8 314.2h0.6M108.08 292.47h0.6M100.55 313.13h0.6M97.34 296.53h0.6M105.26 294.56h0.6M100.12 295.33h0.6M122.25 303.43h0.6M116.3 309.12h0.6M106.43 296.58h0.6M86.86 300.83h0.6M98.35 294.9h0.6M110.76 312.35h0.6M117.69 299.23h0.6M115.27 297.06h0.6M108.1 293.84h0.6M117.72 294.03h0.6M112.43 313.26h0.6M108.75 296h0.6M132.52 297.43h0.6M117.68 307.5h0.6M123.24 306.44h0.6M96.05 297.05h0.6M86.4 306.09h0.6M117.23 310.08h0.6M121.53 304.49h0.6M109.95 312.21h0.6M117.8 311.6h0.6M112.19 296.3h0.6M106.58 294.44h0.6M119.75 301.09h0.6M117.86 301.88h0.6M116.37 312.89h0.6M96.88 295.59h0.6M105.51 296.27h0.6M101.48 295.48h0.6M88.2 301.95h0.6M102.98 315.06h0.6M112.28 312.46h0.6M119.66 306.3h0.6M89.46 314.85h0.6M104.93 296.12h0.6M109.53 292.33h0.6M109.66 313.13h0.6M121.54 303.79h0.6M103.54 313.76h0.6M116.05 298.21h0.6M93.99 297.35h0.6M120.96 305.52h0.6M123.67 300.44h0.6M99.98 315.73h0.6M120.62 309.86h0.6M111.68 296.32h0.6M120.17 312.33h0.6M95.68 297.62h0.6M120.99 309.14h0.6M119.37 300.73h0.6M114.54 298.27h0.6M126.48 300.04h0.6M116.62 317.39h0.6M102.09 296.23h0.6M97.08 297.2h0.6M92.83 311.89h0.6M118.14 310.85h0.6M121.74 302.93h0.6M117.79 300.94h0.6M124.32 305.46h0.6M113.43 295.03h0.6M119.56 302.06h0.6M119.39 301.01h0.6M119.28 311.5h0.6M97.64 314.32h0.6M112.25 312.99h0.6M107.35 293.41h0.6M110.07 296.83h0.6M80.53 300.71h0.6M121.06 304.8h0.6M121.42 307.9h0.6M83.09 316.69h0.6M115.41 297.97h0.6M117.02 311.18h0.6M107.56 313.93h0.6M88.26 303.44h0.6M103.89 292.09h0.6M119.7 310.41h0.6M110.3 313.21h0.6M85.6 303.73h0.6M110.54 314.42h0.6M112.13 313.95h0.6M121 299.15h0.6M97.66 313.09h0.6M103.08 294.27h0.6M108.7 293.95h0.6M119.14 309.74h0.6M90.78 296.54h0.6M98.21 295.29h0.6M133.3 306.23h0.6M104.85 291.68h0.6M118.54 298.69h0.6M112.72 294.06h0.6M122.02 303.04h0.6M119.41 294.12h0.6M120.2 302.16h0.6M104.29 295.09h0.6M101.68 294.88h0.6M117.62 307.64h0.6M122.22 310.07h0.6M107.81 313.55h0.6M86.66 302.09h0.6M105.98 313.73h0.6M95.84 296.5h0.6M119.71 303.97h0.6M116.12 313.19h0.6M118.64 299.82h0.6M122.18 309.01h0.6M118.76 303.72h0.6M119.22 310.27h0.6M127.09 307.43h0.6M118.05 309.46h0.6M84.16 302.39h0.6M111.34 313.56h0.6M119.21 302.05h0.6M115.61 311.62h0.6M97.8 293.85h0.6M97.84 275.77h0.6M103.64 285.46h0.6M107.32 278.59h0.6M103.92 285.95h0.6M99.03 296.91h0.6M100.61 292.45h0.6M95.2 294.81h0.6M99.04 294.37h0.6M104.76 295.01h0.6M93.36 291.89h0.6M104.83 296.89h0.6M97.49 274.61h0.6M102.11 290.27h0.6M104.64 295.69h0.6M95.85 289.12h0.6M96.88 250.5h0.6M103.48 291.01h0.6M96.16 290.53h0.6M95.07 296.8h0.6M98.48 291.33h0.6M113.51 288.9h0.6M108.25 261.11h0.6M107.7 294.83h0.6M100.55 295.47h0.6M108.47 295.58h0.6M101.17 245.86h0.6M86.7 287.64h0.6M100.32 276.93h0.6M99.85 293.62h0.6M93.27 288.56h0.6M100.18 262.59h0.6M109.14 255.18h0.6M95.9 243.95h0.6M88.67 289.85h0.6M91.41 279.96h0.6M97.4 292.55h0.6M95.77 297.3h0.6M111.34 290.66h0.6M91.22 296.59h0.6M107.2 240.76h0.6M109.04 290.78h0.6M105.98 292.47h0.6M115.56 285.68h0.6M99.26 250.56h0.6M103.19 295.57h0.6M100.24 243.64h0.6M101.57 255.37h0.6M108.89 281.75h0.6M103.21 280.46h0.6M98.76 287.63h0.6M98.52 251.36h0.6M106.49 291.96h0.6M91.6 255.2h0.6M91.45 296.68h0.6M102.99 294.69h0.6M105.46 296.79h0.6M94.82 292.37h0.6M87.54 276.42h0.6M86.83 282.97h0.6M97.3 254.57h0.6M95.43 293.85h0.6M107.61 290.27h0.6M104.38 293.11h0.6M99.02 264.6h0.6M98.96 291.25h0.6M98.2 292.11h0.6M105.81 294.58h0.6M103.82 296.88h0.6M88.85 243.92h0.6M85.47 290.72h0.6M90.61 290.76h0.6M111.26 241.8h0.6M105.55 291.67h0.6M106.43 289.03h0.6M99.7 290.07h0.6M101.02 292.28h0.6M112.44 290.59h0.6M104.84 289.94h0.6M97 293.23h0.6M99.64 289.99h0.6M106.4 295.78h0.6M97.26 276.04h0.6M101.45 284.75h0.6M105.07 285.66h0.6M90.47 293.73h0.6M102.06 292.52h0.6M94.75 294.53h0.6M101.92 291.41h0.6M105.67 296.02h0.6M101.68 257.47h0.6M103.35 294.79h0.6M97.67 284.85h0.6M107.86 297.23h0.6M87.37 293.5h0.6M107.29 282.93h0.6M100.56 294.73h0.6M106.95 293.37h0.6M113.34 295.44h0.6M112.22 276.75h0.6M99.87 241.24h0.6M96.71 291.91h0.6M96.2 283.52h0.6M114.19 268.2h0.6M100.14 297.15h0.6M105.27 254.32h0.6M118.68 296.08h0.6M106.14 266.02h0.6M97.82 292.19h0.6M112.78 284.02h0.6M93.26 294.41h0.6M99.27 297.4h0.6M102.4 249.83h0.6M97.61 287.05h0.6M100.63 296.73h0.6M91.38 294.11h0.6M104.66 287.86h0.6M80.87 287.71h0.6M113.1 280.15h0.6M95.81 246.01h0.6M98.98 282.44h0.6M107.13 255.5h0.6M98.47 293.99h0.6M94.93 242.4h0.6M113.1 291.51h0.6M98.83 281.74h0.6M95.2 255.92h0.6M96.26 291.98h0.6M107.32 256.26h0.6M82.12 245.98h0.6M104.59 293.75h0.6M97.95 239.72h0.6M108.84 247.79h0.6M112.42 292.13h0.6M98.4 292.72h0.6M113.11 295.47h0.6M110.26 292.03h0.6M90.76 272.4h0.6M115.99 297.07h0.6M96.34 292.48h0.6M90.66 280.84h0.6M105.43 279.07h0.6M102.15 293.46h0.6M96.65 291.74h0.6M112.5 277.43h0.6M99.37 291.46h0.6M93.27 291.66h0.6M93.83 292h0.6M94.85 281.61h0.6M103.01 296.67h0.6M110.44 290.56h0.6M109.84 282.88h0.6M91.51 281.79h0.6M85.33 260.12h0.6M114.14 277.49h0.6M105.96 290.42h0.6M103.92 260.77h0.6M100.51 296.68h0.6M100.13 280.27h0.6M87.03 294.36h0.6M103 280.36h0.6M99.02 295.73h0.6M90.15 268.21h0.6M95.96 263.09h0.6M104.58 269.26h0.6M94.92 295.01h0.6M95.03 289.12h0.6M103.49 265.28h0.6M102.25 258.49h0.6M100.01 297.3h0.6M95.15 297.19h0.6M103.14 292.91h0.6M102.82 296.86h0.6M113.63 244.24h0.6M113.06 295.84h0.6M101.25 290.09h0.6M99.36 243.56h0.6M103.97 242.91h0.6M94.81 240.93h0.6M101.29 272.81h0.6M87.05 278.83h0.6M98.74 283.08h0.6M99.53 269.34h0.6M111.89 288.96h0.6M95.18 297.03h0.6M107.69 296.7h0.6M97.18 294.89h0.6M102.52 259.6h0.6M111.11 290.79h0.6M98.53 254.46h0.6M107.72 246.64h0.6M88.12 267.14h0.6M97.94 247.75h0.6M102.45 288.83h0.6M96.43 286.39h0.6M107.8 296.24h0.6M90.05 261.16h0.6M109.12 284.88h0.6M114.2 290.39h0.6M97.38 271.59h0.6M91.19 295.56h0.6M104.06 295.41h0.6M94.83 296.31h0.6M97.22 291.16h0.6M82.06 296.95h0.6M104.96 295.34h0.6M92.82 295.59h0.6M100.94 294.1h0.6M98.78 284.3h0.6M103.81 276.63h0.6M95.95 259.03h0.6M107.97 293.11h0.6M103.91 289.21h0.6M92.81 257.8h0.6M105.55 296.38h0.6M97.77 282.62h0.6M118.67 256.74h0.6M91.8 276.09h0.6M109.44 290.34h0.6M96.03 291.54h0.6M90.52 289.44h0.6M101.06 295.35h0.6M95.21 268.88h0.6M81.71 247.43h0.6M106.32 296.47h0.6M98.09 293.22h0.6M102.55 270.61h0.6M95.83 289.45h0.6M99.35 293.73h0.6M92.53 262.92h0.6M100.59 292.63h0.6M100.27 287.4h0.6M110.26 254.24h0.6M93.64 288.24h0.6M94.22 294.08h0.6M95.16 265.63h0.6M97.3 296.12h0.6M93.78 290.11h0.6M101.76 277.75h0.6M93.51 265.17h0.6M102.92 279.61h0.6M100.73 280.52h0.6M103.23 249.91h0.6M93.35 296.16h0.6M94.49 284.89h0.6M80.18 265.79h0.6M93.18 293.63h0.6M112.19 281.18h0.6M92.4 276.46h0.6M100.02 268.05h0.6M92.39 243.82h0.6M106.95 288.63h0.6M94.79 291.88h0.6M94.18 287.7h0.6M99.92 295.39h0.6M98.43 260.11h0.6M109.85 253.1h0.6M94.1 285.39h0.6M105.33 243.82h0.6M102.31 284.39h0.6M98.39 290.7h0.6M97.57 292.04h0.6M104.18 292.41h0.6M90.56 256.34h0.6M91.52 270.06h0.6M97.92 293.2h0.6M97.44 283.76h0.6M106.32 292.99h0.6M98.71 288.48h0.6M100.17 294.48h0.6M110.99 279.99h0.6M91 278.21h0.6M103.8 289.05h0.6M108.8 276.33h0.6M104.01 284.63h0.6M105.73 275.91h0.6M101.29 295.32h0.6M94.27 294.88h0.6M107.3 292.99h0.6M104.01 291.45h0.6M108.61 271.05h0.6M104.45 294.89h0.6M117.86 293.69h0.6M103.93 291.88h0.6M114.82 296.44h0.6M96.62 288.25h0.6M101.97 242.74h0.6M106.61 275.65h0.6M105.75 268.64h0.6M102.2 289.07h0.6M98.22 268.6h0.6M108.31 288.79h0.6M90.38 296.58h0.6M112.03 283.74h0.6M91.68 295.18h0.6M93.87 294.04h0.6M100.29 293.44h0.6M100.9 295.87h0.6M89.24 294.65h0.6M92.32 240.25h0.6M104.35 294.97h0.6M99.4 295.23h0.6M100.18 291.23h0.6M83.18 297.3h0.6M115.77 295.5h0.6M99.33 282.39h0.6M87.93 295.6h0.6M91.88 279.45h0.6M96.25 260.64h0.6M96.62 291.62h0.6M91.12 296.55h0.6M97.15 287.09h0.6M105.95 289.6h0.6M95.91 297.29h0.6M85.41 282.52h0.6M91.76 291.57h0.6M97.5 262.64h0.6M100.07 252.66h0.6M91.83 294.91h0.6M93.74 293.28h0.6M120.22 293.52h0.6M95.26 269.33h0.6M96.7 282.3h0.6M107.5 293.43h0.6M94.12 264.68h0.6M93.27 295.22h0.6M98.74 295.28h0.6M106.65 289.79h0.6M103.63 280.93h0.6M97.82 295.01h0.6M109.88 313.7h0.6M95.69 314.28h0.6M102.04 322.7h0.6M109.82 314.48h0.6M96.74 315.95h0.6M96.61 317h0.6M102.92 320.01h0.6M100.04 315.19h0.6M97.56 318.86h0.6M98.31 317.02h0.6M95.93 320.5h0.6M87.8 317.28h0.6M108.34 319.46h0.6M100.99 321.51h0.6M100.28 317.79h0.6M96.62 315.13h0.6M97.39 313.48h0.6M104.13 314.71h0.6M86.7 314.17h0.6M79.22 313.08h0.6M98.99 317.9h0.6M121.74 321h0.6M114.92 313.82h0.6M98.4 315.04h0.6" stroke="#111" stroke-width="0.6" fill="none" opacity="0.85"/>
<ellipse cx="103.3" cy="304.8" rx="15.1" ry="8.2" fill="url(#blobd)" stroke="#222" stroke-width="1.5" stroke-opacity="1"/>
<ellipse cx="103.3" cy="304.8" rx="14" ry="7.1" fill="none" stroke="#fff" stroke-width="0.8" opacity="0.9"/>
<ellipse cx="102.64" cy="304.96" rx="12.08" ry="6.56" fill="none" stroke="#555" stroke-width="0.3" opacity="0.55"/>
<ellipse cx="102.24" cy="305.06" rx="10.27" ry="5.58" fill="none" stroke="#fff" stroke-width="0.3" opacity="0.6"/>
<ellipse cx="101.84" cy="305.16" rx="8.46" ry="4.59" fill="none" stroke="#555" stroke-width="0.3" opacity="0.55"/>
<ellipse cx="101.44" cy="305.26" rx="6.64" ry="3.61" fill="none" stroke="#fff" stroke-width="0.3" opacity="0.6"/>
<ellipse cx="101.04" cy="305.36" rx="4.83" ry="2.62" fill="none" stroke="#555" stroke-width="0.3" opacity="0.5"/>
<ellipse cx="100.64" cy="305.46" rx="3.02" ry="1.64" fill="none" stroke="#fff" stroke-width="0.3" opacity="0.7"/>
<ellipse cx="101.19" cy="305.62" rx="1.96" ry="0.55" fill="#fff" opacity="0.95"/>
<rect x="85.2" y="238.4" width="53.4" height="56" fill="none" stroke="#333" stroke-width="0.75"/>
<rect x="102.1" y="255.4" width="19.6" height="18.4" fill="#fff" opacity="0.8"/>
<text x="111.9" y="263.9" font-size="6.8" text-anchor="middle" font-weight="bold" fill="#000" stroke="#000" stroke-width="0.25">Th17</text>
<text x="111.9" y="274.6" font-size="6.8" text-anchor="middle" font-weight="bold" fill="#000" stroke="#000" stroke-width="0.25">1.52</text>
<line x1="51.6" y1="262.3" x2="54.4" y2="262.3" stroke="#222" stroke-width="0.7"/>
<line x1="51.6" y1="306" x2="54.4" y2="306" stroke="#222" stroke-width="0.7"/>
<path d="M53 244h1.4M53 248.5h1.4M53 252h1.4M53 255h1.4M53 258h1.4M53 272h1.4M53 279h1.4M53 285h1.4M53 290h1.4M53 294h1.4M53 297h1.4M53 299.5h1.4M53 311.5h1.4M53 314h1.4M53 317h1.4M53 321h1.4M53 327h1.4M53 333h1.4" stroke="#555" stroke-width="0.45" fill="none"/>
<rect x="52.6" y="303.0" width="1.8" height="5.6" fill="#222"/>
<line x1="79.1" y1="339.6" x2="79.1" y2="342.4" stroke="#222" stroke-width="0.7"/>
<line x1="123.2" y1="339.6" x2="123.2" y2="342.4" stroke="#222" stroke-width="0.7"/>
<path d="M58.4 341v-1.4M63.4 341v-1.4M67.4 341v-1.4M70.4 341v-1.4M87.4 341v-1.4M90.4 341v-1.4M94.4 341v-1.4M99.4 341v-1.4M105.4 341v-1.4M111.4 341v-1.4M116.4 341v-1.4M119.9 341v-1.4M131.4 341v-1.4M138.4 341v-1.4M143.4 341v-1.4M147.4 341v-1.4M150.9 341v-1.4M153.9 341v-1.4" stroke="#555" stroke-width="0.45" fill="none"/>
<rect x="73" y="339.6" width="11.5" height="1.6" fill="#222"/>
<text x="79.1" y="352.8" font-size="5" text-anchor="middle" font-weight="bold" fill="#111">0</text>
<text x="123.6" y="353.0" font-size="5" font-weight="bold" text-anchor="middle" fill="#111">10<tspan dy="-3.0" font-size="4.6">3</tspan></text>
<text x="45" y="307.8" font-size="5" text-anchor="middle" font-weight="bold" fill="#111">0</text>
<text x="45.8" y="264.8" font-size="5" font-weight="bold" text-anchor="middle" fill="#111">10<tspan dy="-3.0" font-size="4.6">3</tspan></text>
</g>
<text x="226.2" y="226.2" font-size="10.6" text-anchor="middle" fill="#1a1a1a">0</text>
<g>
<rect x="176.3" y="238.4" width="104.6" height="101.2" fill="#fff" stroke="#3c3c3c" stroke-width="0.85"/>
<path d="M216.21 287.93h0.6M210.26 297.55h0.6M245.63 289.79h0.6M210.73 295.72h0.6M225.9 285.17h0.6M240.92 312.73h0.6M233.7 286.12h0.6M254.56 297.86h0.6M227.11 286.41h0.6M244.7 306.32h0.6M247.41 301.58h0.6M249.13 291.24h0.6M236.73 286.5h0.6M248.16 304.14h0.6M221.82 287.53h0.6M238.07 310.82h0.6M224.09 312.32h0.6M238.44 310.73h0.6M212.09 288.44h0.6M246.2 305.11h0.6M223.55 313.93h0.6M249.13 290.44h0.6M220.16 288.38h0.6M216.71 310.08h0.6M211.15 305.12h0.6M238.66 312.12h0.6M220.59 311.24h0.6M241.1 309.5h0.6M226.78 286.8h0.6M225.48 288.27h0.6M239.76 288.68h0.6M211 308.66h0.6M248.02 299.38h0.6M219.52 311.24h0.6M248.43 306.83h0.6M236.26 288.19h0.6M221.11 287.3h0.6M219.64 288.67h0.6M247.22 304.12h0.6M245.55 289.39h0.6M241.53 309.22h0.6M232.66 287.68h0.6M245.16 295.03h0.6M248.39 298.31h0.6M235.79 314.17h0.6M211.46 305.08h0.6M246.13 293.83h0.6M237.9 310.93h0.6M243.68 309.3h0.6M249.67 303.36h0.6M237.41 312.61h0.6M217.49 289.92h0.6M210.47 294.58h0.6M213.81 289.9h0.6M245.74 305.68h0.6M215.91 291.34h0.6M248.63 300.73h0.6M210.24 296.68h0.6M255.1 303.93h0.6M246.72 305.54h0.6M236.41 287.44h0.6M247.43 301.39h0.6M229.84 286.34h0.6M247.04 299.41h0.6M215.14 290.61h0.6M247.4 299.55h0.6M241.77 289.3h0.6M217.39 289.36h0.6M226.4 312.66h0.6M239.74 313.44h0.6M237.57 312.08h0.6M250.42 295.6h0.6M225.14 312.41h0.6M217.84 289.63h0.6M220.57 283.28h0.6M224.09 284.54h0.6M245.77 310.69h0.6M254.14 306.04h0.6M249.27 300.04h0.6M238.55 311.14h0.6M248.87 303.78h0.6M251.48 297.02h0.6M249.16 301.87h0.6M248.77 298.98h0.6M222.57 284.98h0.6M250.37 296.2h0.6M219.5 288.31h0.6M233.74 287.26h0.6M248.73 305.71h0.6M251.03 297.88h0.6M216.27 310.16h0.6M248.57 301.96h0.6M248.82 298.39h0.6M238.87 312.09h0.6M231.05 281.42h0.6M249.83 296.27h0.6M243.29 312.48h0.6M222.21 287.78h0.6M246.45 304.18h0.6M243.51 291.79h0.6M243.52 290.32h0.6M238.69 288.7h0.6M249.25 304.44h0.6M215.05 312.35h0.6M236.19 285.54h0.6M238.27 289.82h0.6M239.8 310.87h0.6M227.17 320.78h0.6M251.01 301.59h0.6M248.31 306.53h0.6M243.6 308.45h0.6M246.87 297.49h0.6M226.89 313.71h0.6M253.68 303.29h0.6M244.58 293.63h0.6M239.56 289.79h0.6M245.62 294.51h0.6M240.76 289.36h0.6M248.82 300.83h0.6M247.45 297.8h0.6M244.33 291.73h0.6M242.26 281.12h0.6M221.96 312.88h0.6M245.52 295.15h0.6M221.44 288.86h0.6M232 312.3h0.6M248.05 295.12h0.6M230.27 313.56h0.6M252.82 290.19h0.6M242.87 309.31h0.6M236.02 288.02h0.6M211.89 293.1h0.6M247.29 298.54h0.6M251.76 305.84h0.6M216.79 289.29h0.6M214.32 286.23h0.6M214.55 308.98h0.6M209.94 306.55h0.6M230.53 287.02h0.6M235.67 289.11h0.6M242.62 292.27h0.6M239.09 310.75h0.6M245.11 293.77h0.6M249.17 297.21h0.6M234.62 286.99h0.6M240.27 286.21h0.6M242.76 309.41h0.6M229.2 288.16h0.6M226.61 314.05h0.6M247.27 298.64h0.6M215.85 285.87h0.6M246.08 290.21h0.6M232.07 283.96h0.6M242.26 310.33h0.6M221.28 286.89h0.6M231.37 285.92h0.6M249.72 295.1h0.6M253.64 298.64h0.6M240.14 289.66h0.6M213 309.79h0.6M248.15 307.36h0.6M209.43 295.65h0.6M235.06 312.08h0.6M239.26 313.76h0.6M223.93 288.48h0.6M252.19 292.16h0.6M240.13 285.92h0.6M247.09 295.99h0.6M243.49 292.7h0.6M233.13 314.08h0.6M247.28 299.05h0.6M217.84 286.17h0.6M211.14 291.69h0.6M245.42 287.14h0.6M238.29 284.25h0.6M242.97 290.38h0.6M253.63 288.88h0.6M238.49 313.68h0.6M239.26 286.42h0.6M214.61 290.48h0.6M225.01 288.32h0.6M250.78 301.81h0.6M216.67 289.62h0.6M255.07 292.79h0.6M244.88 307.84h0.6M231.38 315.48h0.6M249.81 285.05h0.6M249.8 303.22h0.6M248.15 299.05h0.6M247.41 293.79h0.6M235.04 313.09h0.6M249.03 298.14h0.6M244.89 292.28h0.6M246.83 297.9h0.6M215.21 290.81h0.6M221.22 287.27h0.6M229.23 287.51h0.6M220.07 311.79h0.6M239.87 290.17h0.6M250.63 302.44h0.6M244.26 292.17h0.6M250.56 299.48h0.6M251.26 297.16h0.6M213.29 292.71h0.6M215.64 312.37h0.6M221.18 315.16h0.6M246.17 295.3h0.6M235.59 312h0.6M248.64 291.31h0.6M243.78 293.3h0.6M252.34 302.02h0.6M218.17 289.47h0.6M226.2 286.49h0.6M223.92 288.47h0.6M241.39 311.56h0.6M250.62 303.35h0.6M213.13 292.59h0.6M223.96 317.23h0.6M230.68 272.96h0.6M217.01 288.94h0.6M241.21 287.64h0.6M240.11 290.1h0.6M213.62 292.32h0.6M240.77 290.14h0.6M236.8 314.14h0.6M233.99 315.79h0.6M249.27 306.16h0.6M225.44 315.01h0.6M243 287.64h0.6M242.62 310.9h0.6M208.98 292.35h0.6M231.88 312.27h0.6M247.39 299.21h0.6M251.01 299.84h0.6M247.81 308.53h0.6M227.76 287.99h0.6M253.6 305.19h0.6M234.52 285.45h0.6M236.84 312.95h0.6M244.82 290.39h0.6M246.2 306.85h0.6M253.69 283.89h0.6M247.87 297.74h0.6M246.34 303.62h0.6M231.62 313.29h0.6M231.33 286.85h0.6M250.07 300.4h0.6M212.14 293.38h0.6M242.03 289.27h0.6M242.65 286.47h0.6M233.7 314.38h0.6M227.97 312.61h0.6M248.41 294.78h0.6M215.45 312.84h0.6M238.95 290.14h0.6M236.46 282.85h0.6M204.82 307.28h0.6M219.92 311.76h0.6M246.1 305.36h0.6M250.64 296.45h0.6M249.63 296.05h0.6M211.19 291.3h0.6M236.25 311.68h0.6M246.59 293.29h0.6M240.82 311.94h0.6M242.95 309.55h0.6M208.04 296.28h0.6M228.98 313.56h0.6M242.83 310.64h0.6M241.05 285.31h0.6M247.31 301.67h0.6M241.62 284.98h0.6M257.68 298.59h0.6M229.14 288.11h0.6M209.76 296.3h0.6M247.4 298.19h0.6M252.37 295.37h0.6M250.34 299.5h0.6M244.65 307.74h0.6M232.08 286.81h0.6M229.5 287.87h0.6M233.81 312.86h0.6M224.63 312.48h0.6M250.08 294.73h0.6M222.36 314.93h0.6M247.07 299.08h0.6M249.55 311.02h0.6M249.55 303.12h0.6M224.56 314.49h0.6M248.82 300.38h0.6M245.71 294.61h0.6M248.69 296.71h0.6M246.49 292.43h0.6M245.39 295.04h0.6M248.79 291.76h0.6M248.87 298.42h0.6M229.75 286.2h0.6M235.64 281.41h0.6M246.8 298.08h0.6M250.38 303.63h0.6M238 288.52h0.6M248.28 301.34h0.6M221.97 287.08h0.6M238.62 313.13h0.6M226.98 312.57h0.6M218.31 311.32h0.6M213.17 307.3h0.6M246.6 313.3h0.6M221.96 284.21h0.6M245.11 306.7h0.6M222.45 285.23h0.6M212.48 292.54h0.6M247.14 304.1h0.6M213.6 292.51h0.6M221.04 312.29h0.6M218.17 313.44h0.6M246.16 292.27h0.6M209.36 295.2h0.6M209.2 305.98h0.6M211.48 306.39h0.6M246.64 294.5h0.6M245.99 293.43h0.6M234.86 284.21h0.6M236.33 313.44h0.6M244.44 293.4h0.6M235.29 287.67h0.6M234.23 316.61h0.6M245.36 289.52h0.6M227.79 287.99h0.6M234.14 286.99h0.6M217.37 310.56h0.6M230.26 284.85h0.6M233.78 312.83h0.6M226.61 312.7h0.6M245.17 293.19h0.6M245.38 294.72h0.6M248.75 295.36h0.6M240.79 291.21h0.6M246.53 305.53h0.6M224.33 315.37h0.6M248.82 297.63h0.6M246.21 292.1h0.6M246.28 294.06h0.6M228.24 287.37h0.6M246.91 296.31h0.6M239.11 286.23h0.6M235.93 313.4h0.6M226.69 285.27h0.6M249.74 295.81h0.6M230.38 312.41h0.6M236.05 288.18h0.6M229.43 285.36h0.6M224.08 288.15h0.6M217.74 289.94h0.6M239.9 290.09h0.6M249.52 292.11h0.6M248.19 298.08h0.6M235.54 313.12h0.6M246.37 310.33h0.6M240.52 290.12h0.6M246.7 309.5h0.6M223.47 287.4h0.6M244.84 288.56h0.6M220.56 289.36h0.6M242.1 286.16h0.6M221.25 317.84h0.6M233.02 314.38h0.6M249.39 302.74h0.6M241.49 309.41h0.6M228.61 284.65h0.6M229.85 313.93h0.6M205.73 301.5h0.6M216.84 313.76h0.6M238.37 287.58h0.6M247.92 294.8h0.6M247.67 297.53h0.6M212.16 292.45h0.6M234.42 288.72h0.6M241.14 311.76h0.6M208.81 299.07h0.6M249.03 307.87h0.6M227.79 283.74h0.6M237.39 311.56h0.6M224.04 284.64h0.6M243.12 287.93h0.6M244.68 306.73h0.6M214.93 312.45h0.6M243.42 290.26h0.6M239.09 311.39h0.6M246.41 311.04h0.6M230.61 286.84h0.6M244.47 289.9h0.6M211.56 294.54h0.6M248.38 313.72h0.6M212.12 307.82h0.6M223.44 283.51h0.6M230.51 287.38h0.6M232.59 288.22h0.6M227.42 314.54h0.6M248.01 298.27h0.6M238.78 288.53h0.6M242.89 308.64h0.6M246.73 295.98h0.6M245.13 313.79h0.6M220.21 313.24h0.6M210.69 295.52h0.6M247.54 292.87h0.6M228.89 314.55h0.6M249.3 298.67h0.6M245.33 307.11h0.6M249.15 302.42h0.6M241.85 291.04h0.6M233.02 312.85h0.6M245.07 291.69h0.6M223.49 287.39h0.6M240.88 284.65h0.6M247.12 286.63h0.6M208.83 297.26h0.6M225.24 312.55h0.6M239.04 312.34h0.6M245.65 307.23h0.6M243 309.91h0.6M250.82 302.51h0.6M249.82 304.39h0.6M229.41 286.07h0.6M247.08 297.78h0.6M243.5 307.71h0.6M248.36 291.1h0.6M234.6 288.58h0.6M247.6 298.75h0.6M243.94 288.78h0.6M231.52 313.85h0.6M233.02 312.4h0.6M207.52 299.24h0.6M238.87 289.77h0.6M246.91 306.2h0.6M237.64 277.31h0.6M247.29 308.46h0.6M223.19 288.25h0.6M247.46 299.35h0.6M231.76 285.57h0.6M247.22 301.21h0.6M234.86 312.14h0.6M234.73 314.79h0.6M250.13 303.4h0.6M233.99 284.22h0.6M247.44 302.61h0.6M246.25 305.19h0.6M248.28 299.18h0.6M243.68 291.85h0.6M229.41 314.2h0.6M250.66 298.86h0.6M219.88 312h0.6M232.61 312.34h0.6M223.66 285.74h0.6M249.9 300.86h0.6M243.31 291.09h0.6M242.77 309.44h0.6M230.25 312.55h0.6M246.5 296.71h0.6M242.86 285.18h0.6M242.91 286.82h0.6M242.44 291.85h0.6M248.51 300.46h0.6M239.6 286.64h0.6M229.97 314.62h0.6M246.31 292.65h0.6M251.27 301.21h0.6M239.82 284.2h0.6M246.66 291.98h0.6M242.63 287.24h0.6M247.61 293.17h0.6M235.85 311.58h0.6M242.63 308.12h0.6M237.68 285.5h0.6M247.24 305.77h0.6M228.33 285.62h0.6M238.16 287.6h0.6M225.01 286.77h0.6M247.19 309.9h0.6M245.55 288.3h0.6M233.91 315.32h0.6M211.31 306.09h0.6M251.52 304.83h0.6M247.2 304.34h0.6M249.37 303.9h0.6M223.17 288.46h0.6M253.16 296.36h0.6M248.88 299.52h0.6M221.97 314.51h0.6M211.51 293.05h0.6M243.49 292.87h0.6M246.05 305.78h0.6M247.64 297.96h0.6M218.01 289.61h0.6M212.68 292.53h0.6M252.39 312.69h0.6M246.55 304.73h0.6M247.34 300.88h0.6M234.79 288.26h0.6M244.1 291.51h0.6M208.17 304h0.6M209.58 291.46h0.6M246.23 292.81h0.6M248.7 300.3h0.6M228.39 313.01h0.6M247.02 306.97h0.6M248.15 303.74h0.6M246.04 293.21h0.6M239.19 289.72h0.6M243.15 292.74h0.6M247.86 305.03h0.6M247.69 307.59h0.6M210.16 304.16h0.6M229.33 313.8h0.6M242.22 290.14h0.6M244.89 308.82h0.6M247.6 298.99h0.6M209.39 300.15h0.6M249.07 299.19h0.6M250.5 305.45h0.6M224.12 288.3h0.6M243.78 289.55h0.6M250.43 302.5h0.6M243.19 308.12h0.6M215.9 290.16h0.6M209.73 295.94h0.6M247.85 295.43h0.6M233.06 312.57h0.6M246.26 278.95h0.6M229.57 286.29h0.6M216.52 290.92h0.6M236.87 288.64h0.6M208.77 316.93h0.6M247.64 295.18h0.6M247.5 302.82h0.6M230.68 284.41h0.6M249.52 301.6h0.6M211.85 291.64h0.6M248.32 292.48h0.6M233.1 287.38h0.6M238.09 311.02h0.6M237.89 316.64h0.6M250.11 299.62h0.6M246.59 303.43h0.6M247.36 306.35h0.6M234.56 288.4h0.6M248.15 307.9h0.6M245.63 294.69h0.6M222.12 287.23h0.6M254.46 297.31h0.6M244.16 292.34h0.6M231.23 314.42h0.6M247.7 296.83h0.6M242.8 286.93h0.6M252.51 291.95h0.6M249.71 301.38h0.6M247.19 310.82h0.6M241.26 310.2h0.6M240.44 313.26h0.6M253.38 298.89h0.6M244.73 306.14h0.6M208.24 299.11h0.6M236.09 313.3h0.6M231.97 314.15h0.6M209.96 299.58h0.6M247.27 309.05h0.6M226.17 285.07h0.6M242.99 289.96h0.6M248.55 308.76h0.6M225.14 286.66h0.6M247.4 305.84h0.6M226.2 284h0.6M218.74 289.7h0.6M228.07 313.62h0.6M249.65 296.52h0.6M228.26 315.77h0.6M248.42 301.72h0.6M231.3 288.33h0.6M212.57 306.7h0.6M248.49 305.03h0.6M209.9 285.95h0.6M253.44 297.07h0.6M237.46 314.04h0.6M246.9 305.52h0.6M211.68 305.94h0.6M238.85 314.05h0.6M240.52 289.46h0.6M207.89 298.77h0.6M211.52 289.69h0.6M248.37 292.13h0.6M241.83 290.31h0.6M219.99 314.96h0.6M247.37 304.27h0.6M247.8 302.14h0.6M247.52 293.16h0.6M215.76 288.22h0.6M227.61 285.6h0.6M241.38 310.32h0.6M230.05 283.82h0.6M208.99 302.28h0.6M246.95 299.33h0.6M245.53 287.95h0.6M246.79 292.63h0.6M217 287.51h0.6M245.7 293.16h0.6M220.2 285.53h0.6M231.53 287.52h0.6M219.69 287.21h0.6M245.57 309.82h0.6M250.4 303.3h0.6M221.4 312.88h0.6M220.17 287.31h0.6M228.12 313.9h0.6M213.89 291.51h0.6M245.84 306.66h0.6M209.38 295.86h0.6M210.21 302.21h0.6M245.7 290.3h0.6M248.35 303.54h0.6M221.68 313h0.6M238.14 287.53h0.6M250.16 303.88h0.6M217.28 310.36h0.6M243.01 310.35h0.6M245.68 305.87h0.6M248.71 297.07h0.6M234.96 286.4h0.6M227.15 287.43h0.6M245.16 313.72h0.6M245.08 289.84h0.6M247.12 288.61h0.6M232.44 287.69h0.6M219.57 315.09h0.6M212.35 293.89h0.6M242.38 314.11h0.6M228 315.55h0.6M212.74 291.99h0.6M225.79 314.67h0.6M246.92 297.53h0.6M241.1 309.22h0.6M247.96 293.22h0.6M241.8 312.12h0.6M216.49 290.61h0.6M209.19 303.85h0.6M262.62 297.93h0.6M237.17 287.11h0.6M253.39 298.8h0.6M249.54 304.2h0.6M249.64 299.42h0.6M209.48 297.93h0.6M220.7 312.61h0.6M212.22 291.57h0.6M221.94 312.06h0.6M248.27 299.02h0.6M243.85 289.57h0.6M213.76 292.48h0.6M247.11 294.25h0.6M241.43 287.55h0.6M237.98 313.39h0.6M236.43 313.81h0.6M224.1 285.04h0.6M243.19 308.52h0.6M225.33 313.11h0.6M246.61 287.26h0.6M249.71 288.06h0.6M249.19 305.23h0.6M249.5 297.4h0.6M249.75 301.57h0.6M236.63 311.89h0.6M251.28 297.07h0.6M244.29 288.78h0.6M228.33 283.4h0.6M225.17 287.45h0.6M250.76 297.8h0.6M247.12 298.78h0.6M240.31 287.08h0.6M247.12 304.21h0.6M220.76 316.79h0.6M235.78 287.43h0.6M241.34 290.68h0.6M252.66 302.04h0.6M245.11 293.63h0.6M243.33 292.97h0.6M249.83 297.66h0.6M240.15 288.36h0.6M245.17 293.37h0.6M240.58 284.58h0.6M236.11 285.95h0.6M243.3 284.24h0.6M238.15 311.71h0.6M242.56 308.51h0.6M240.42 287.12h0.6M242.54 312.89h0.6M240.64 311.07h0.6M244.99 285.86h0.6M250.88 303.61h0.6M253.1 298.59h0.6M231.99 313.48h0.6M242.35 290.13h0.6M237.57 285.54h0.6M245.55 293.59h0.6M248.63 290.19h0.6M245.99 292.27h0.6M226.92 287.84h0.6M236.03 311.35h0.6M233.89 316.42h0.6M249.95 304.55h0.6M247.59 296.82h0.6M245.02 291.1h0.6M232.69 287.18h0.6M247.01 294.89h0.6M245.21 309.14h0.6M239.39 289.28h0.6M241.95 310.87h0.6M242.51 308.3h0.6M246.03 292.31h0.6M229.93 312.63h0.6M249.63 298.78h0.6M245.65 294.11h0.6M222.04 312.16h0.6M232.96 312.38h0.6M249.24 305.38h0.6M236.24 288.4h0.6M236.92 287.15h0.6M232.01 286.66h0.6M216.8 314.24h0.6M255.25 278.84h0.6M249.29 295.84h0.6M246.87 302.17h0.6M247.06 297.26h0.6M249.08 302.06h0.6M249.54 304.42h0.6M241.74 290.02h0.6M237.48 287.33h0.6M248.89 307.68h0.6M230.03 318.97h0.6M239.62 288.77h0.6M209.02 297.24h0.6M251.08 302.48h0.6M240.23 287.8h0.6M248.08 294.89h0.6M248.25 298.75h0.6M234.67 286.11h0.6M212.45 292.11h0.6M243.61 292.37h0.6M228.98 286.64h0.6M245.03 312.05h0.6M206.23 305.54h0.6M233.62 287.92h0.6M246.12 293.92h0.6M248.49 303.97h0.6M250.65 298.48h0.6M249.85 303.7h0.6M250.55 302.03h0.6M217.37 319.05h0.6M223.51 286.49h0.6M210.53 290.41h0.6M245.27 291.18h0.6M217.98 314.31h0.6M248.66 296.4h0.6M245.46 294.79h0.6M250 292.54h0.6M230.4 285.12h0.6M220.74 314.28h0.6M227.08 287.05h0.6M255.06 295.34h0.6M221.92 285.99h0.6M237.3 289.3h0.6M247.67 297.55h0.6M243.76 291.78h0.6M217.46 289.77h0.6M213.17 311.07h0.6M214.5 290.2h0.6M236.9 311.41h0.6M247.41 301.51h0.6M247.32 303.23h0.6M211.38 295.06h0.6M243.97 310.04h0.6M238.39 289.65h0.6M231.15 284.34h0.6M242.23 312.88h0.6M243.12 292.7h0.6M213.57 309.17h0.6M237.95 288.52h0.6M224.09 313.1h0.6M215.36 290.99h0.6M225.43 315.87h0.6M220.48 288.78h0.6M235.59 311.64h0.6M228.66 287.66h0.6M245.65 292.25h0.6M242.89 291.75h0.6M224.75 286.62h0.6M246.68 303.84h0.6M234.6 288.14h0.6M239.21 288.93h0.6M225.45 312.89h0.6M242.92 291.87h0.6M245.22 293.52h0.6M246.23 307.7h0.6M250.04 314.29h0.6M247.07 294.52h0.6M210.64 294.32h0.6M213.65 308.18h0.6M248.87 302.23h0.6M238.88 312.53h0.6M246.16 296.09h0.6M247.87 298.49h0.6M249.56 302.12h0.6M230.29 314.44h0.6M243.79 286.67h0.6M225.66 317.56h0.6M213.6 307.52h0.6M247.09 302.29h0.6M224.24 313.24h0.6M241.77 312.07h0.6M247.83 304.01h0.6M245.38 293.77h0.6M235.08 286.16h0.6M228.61 286.62h0.6M232.97 313.37h0.6M248.78 298.67h0.6M227.78 286.73h0.6M241.75 311.13h0.6M208.9 301.72h0.6M252.37 292.96h0.6M238.8 288.45h0.6M228.09 287.75h0.6M235.44 287.42h0.6M227.33 286.31h0.6M241.86 289.3h0.6M243.85 308.17h0.6M247.33 300.97h0.6M232.63 314.71h0.6M218.83 287.95h0.6M223.39 312.68h0.6M236.77 315.94h0.6M245.46 294.85h0.6M234.88 313.3h0.6M250.36 289.52h0.6M245.43 305.21h0.6M248.89 298.95h0.6M242.23 311.71h0.6M224.6 286.6h0.6M243.45 311.1h0.6M250.98 295.25h0.6M226.58 312.91h0.6M239.31 285.72h0.6M212.52 289.54h0.6M252.56 304.53h0.6M218.13 288.11h0.6M246.78 291.92h0.6M234.86 287.87h0.6M228.68 316.67h0.6M207.44 295.65h0.6M241.77 310.74h0.6M244.23 310.67h0.6M237.61 313.43h0.6M218.55 284.58h0.6M234.88 283.94h0.6M231.77 284.68h0.6M246.97 295.9h0.6M235.81 286.35h0.6M212.29 307.47h0.6M241.87 289.78h0.6M236.6 286.08h0.6M242.44 291.25h0.6M247.06 303.26h0.6M243.72 310.11h0.6M243.45 284.76h0.6M215.19 283.78h0.6M234.63 314.39h0.6M244.89 289.27h0.6M243.57 290.9h0.6M211.75 294.69h0.6M229.03 285.54h0.6M213.33 290.75h0.6M235.47 314.65h0.6M248.09 300.46h0.6M213.31 308.97h0.6M245.67 307.16h0.6M254.37 304.99h0.6M205.45 299.97h0.6M245.43 307.38h0.6M227.64 313.75h0.6M258.65 283.93h0.6M220.56 288.48h0.6M246.93 301.55h0.6M233.61 287.25h0.6M252.86 304.62h0.6M246.98 295.85h0.6M226.43 313.84h0.6M221.6 313.33h0.6M251.42 305.89h0.6M234.28 312.64h0.6M241.69 291.57h0.6M220.76 285.7h0.6M219.52 289.63h0.6M245.43 294.8h0.6M213.24 291.66h0.6M247.54 297.38h0.6M244.68 283.97h0.6M229.05 316.79h0.6M247.82 303.55h0.6M243.77 309.14h0.6M240.77 289.43h0.6M218.53 289.36h0.6M249.4 293.34h0.6M218.35 287.56h0.6M202.03 299.96h0.6M254.91 306.56h0.6M236.44 313.67h0.6M250.4 302.38h0.6M230.94 273.53h0.6M236.69 285.8h0.6M244.51 309.29h0.6M245.56 306.55h0.6M228.12 314.88h0.6M220.69 311.71h0.6M219.36 288.86h0.6M245 291.89h0.6M237.97 311.52h0.6M236.86 313.6h0.6M220.06 285.29h0.6M218.71 313.19h0.6M232.52 287.7h0.6M223.22 312.63h0.6M251.44 306.87h0.6M248.59 284.28h0.6M256.93 297.93h0.6M246.52 295.44h0.6M243.92 310.94h0.6M235.93 312h0.6M224.46 287.9h0.6M245.09 292.72h0.6M243.4 287.73h0.6M230.6 285.39h0.6M249.25 306.45h0.6M219.54 289.07h0.6M250.87 298.91h0.6M231.37 286.14h0.6M201.26 296.9h0.6M220.96 312.92h0.6M238.38 312.44h0.6M233.38 287.1h0.6M245.71 295.44h0.6M244.94 291.94h0.6M244.9 291.66h0.6M239.57 286.21h0.6M239.03 288.45h0.6M240.16 289.74h0.6M236.53 282.06h0.6M236.17 312.18h0.6M218.6 289.98h0.6M239.82 287.11h0.6M208.98 296.33h0.6M240.09 315.27h0.6M248.39 300.67h0.6M217.71 289.52h0.6M225.02 286.68h0.6M249.9 293.75h0.6M221.45 286.26h0.6M248.55 297.99h0.6M216.97 290.03h0.6M248.04 296.64h0.6M223.01 315.04h0.6M249.4 303.25h0.6M248.86 300.06h0.6M225.9 315.23h0.6M233.54 313.97h0.6M246.89 293.41h0.6M213.1 293.36h0.6M227 287.35h0.6M231.67 284.18h0.6M210.9 307.03h0.6M249.23 296.3h0.6M249.1 297.71h0.6M247.15 308.51h0.6M244.62 291.43h0.6M249.48 307.59h0.6M217.66 311.93h0.6M249.29 302.17h0.6M245.09 312.12h0.6M248.89 304.37h0.6M248.03 296.17h0.6M212.98 284.62h0.6M226.13 286.48h0.6M218.38 287.82h0.6M237.51 311.13h0.6M234.33 282.2h0.6M237.36 284.69h0.6M222.7 285.2h0.6M225.16 286.94h0.6M256.05 304.66h0.6M211.42 292.79h0.6M248.38 295.59h0.6M249.48 318.85h0.6M225.05 286.03h0.6M249.44 303.87h0.6M249.49 302.13h0.6M217.86 287.33h0.6M248.6 297.65h0.6M244.06 312.32h0.6M207.35 301.87h0.6M250.2 304.29h0.6M236.73 313.18h0.6M255.74 304.23h0.6M224.92 287.75h0.6M210.61 291.9h0.6M255.71 294.31h0.6M230.1 283.46h0.6M246.63 294.09h0.6M245.5 291.45h0.6M242.71 312.53h0.6M241.69 290.86h0.6M248.95 304.93h0.6M255.49 295.15h0.6M229.4 285.96h0.6M242.63 308.63h0.6M245.58 289.9h0.6M232.75 312.7h0.6M249.01 297.87h0.6M252.78 311.32h0.6M248.57 307.85h0.6M248.14 304h0.6M223.3 288.36h0.6M248.55 301.37h0.6M208.6 291.7h0.6M223.68 312.57h0.6M250.22 291.17h0.6M248.48 305.02h0.6M246.92 301.46h0.6M227.57 285.1h0.6M250.48 296.43h0.6M251.23 301.09h0.6M247.33 297.88h0.6M252 300.92h0.6M210.87 290.76h0.6M220.09 289.17h0.6M247.08 296.55h0.6M224.49 279.71h0.6M213.29 288.51h0.6M237.01 286.67h0.6M211.92 291.26h0.6M228.19 312.47h0.6M213.49 291.79h0.6M235.1 288.05h0.6M213.86 288.05h0.6M249.7 298.33h0.6M228.05 312.6h0.6M211.54 307.32h0.6M213.82 308.98h0.6M238.58 313.33h0.6M233.92 312.25h0.6M224.52 288.24h0.6M231.69 288.15h0.6M211.41 286.83h0.6M251.24 307.08h0.6M239.15 290.3h0.6M248.01 297.04h0.6M240.63 288.63h0.6M240.11 286.61h0.6M236.92 312.26h0.6M214.73 311.08h0.6M206.51 283.16h0.6M241.88 291.33h0.6M229.54 287.46h0.6M243.89 293.51h0.6M245.24 314.19h0.6M211.99 288.19h0.6M233.22 312.51h0.6M220.42 285.74h0.6M255.64 300.53h0.6M217.79 287.5h0.6M247.28 299.15h0.6M238.98 311.15h0.6M242.04 290.32h0.6M231.38 318.91h0.6M243.66 307.51h0.6M247.05 302.89h0.6M246.29 308.17h0.6M251.59 302.37h0.6M222.13 286.96h0.6M244.79 292.08h0.6M235.41 285.48h0.6M241.67 291.62h0.6M243.56 308.98h0.6M249.55 312.42h0.6M244.91 292.82h0.6M235.26 288.9h0.6M230.05 312.85h0.6M220.34 312.2h0.6M243.99 290.59h0.6M246.83 294.64h0.6M232.68 282.65h0.6M241.51 289.77h0.6M247.57 291.98h0.6M237.82 288.18h0.6M228.84 313.81h0.6M224.14 313.25h0.6M237.88 286.73h0.6M232.16 282.26h0.6M246.52 303.43h0.6M211.74 290.77h0.6M209.91 292.15h0.6M247.7 294.34h0.6M225.92 287.85h0.6M217.35 313.68h0.6M250.84 291.87h0.6M238.42 311.07h0.6M213.99 291.86h0.6M231.4 319.14h0.6M239.16 278.66h0.6M231.31 286.26h0.6M248.56 295.89h0.6M216.96 288.36h0.6M242.42 284.52h0.6M240.82 311.05h0.6M251.83 304.43h0.6M236.4 313.42h0.6M239.15 286.14h0.6M209.37 309.37h0.6M224.92 287.61h0.6M218.6 289.71h0.6M230.31 312.47h0.6M242.48 291.87h0.6M240.2 310.69h0.6M231.78 281.7h0.6M229.26 287.55h0.6M249.19 286.95h0.6M222.35 287.49h0.6M230.38 288.02h0.6M253.58 297.3h0.6M216.31 290.74h0.6M238.6 310.58h0.6M214.58 308.44h0.6M244.51 293.83h0.6M244.57 308.72h0.6M241.88 312.63h0.6M236.66 315.96h0.6M238.69 311.99h0.6M231.54 288.27h0.6M239.36 288.13h0.6M249.65 300.26h0.6M209.5 304.45h0.6M249.07 300.38h0.6M225.01 287.59h0.6M246.18 307.52h0.6M232.46 313.47h0.6M221.46 287.59h0.6M232.22 246.02h0.6M238.97 285.95h0.6M217.49 284.56h0.6M226.68 284.33h0.6M203.59 289.26h0.6M241.73 282.58h0.6M235 286.74h0.6M216.31 280.5h0.6M215.59 251.92h0.6M221.8 288.15h0.6M228.25 287.72h0.6M233.04 283.51h0.6M213.55 242.51h0.6M228.1 286.43h0.6M223.01 282.96h0.6M217.12 284.32h0.6M224.68 285.66h0.6M217.42 281.46h0.6M228.56 242.07h0.6M226.38 286.06h0.6M221.77 272.12h0.6M232.11 261.03h0.6M233.08 278.43h0.6M228.05 281.08h0.6M224.71 289.06h0.6M244.2 281.51h0.6M236.49 249.23h0.6M237.46 252.4h0.6M210.85 275.27h0.6M238.33 243.59h0.6M209.59 286.25h0.6M240.95 283.15h0.6M231.69 289.37h0.6M213.27 254.95h0.6M236.55 287.95h0.6M236.01 272.65h0.6M214.22 288.13h0.6M207.95 253.68h0.6M218.01 281.66h0.6M231.23 287.44h0.6M205.96 288.71h0.6M206.4 279.03h0.6M225.18 281.42h0.6M223.83 281.7h0.6M235.2 276.63h0.6M195.39 283.49h0.6M225.3 289.2h0.6M229.26 278.08h0.6M216.05 285.02h0.6M235.54 260.55h0.6M220.24 246.45h0.6M230.66 266.66h0.6M224.26 281.2h0.6M225.43 280.21h0.6M220.85 246.86h0.6M244.71 281.53h0.6M235.65 281.24h0.6M226.78 270.16h0.6M235.12 287.93h0.6M211.3 276.73h0.6M228.28 282.3h0.6M234.36 242.36h0.6M215.06 287.08h0.6M213.96 280.73h0.6M209.4 285.97h0.6M208.05 270.96h0.6M226.04 289.37h0.6M213.65 277.38h0.6M234.08 289.12h0.6M222.77 249.33h0.6M224.25 254.15h0.6M216.37 259.81h0.6M239.06 283.85h0.6M217.92 261.95h0.6M229.08 289.13h0.6M224.25 287.46h0.6M224.84 277.83h0.6M220.81 286.29h0.6M233.05 277.77h0.6M223.26 264.11h0.6M220.26 289.1h0.6M217.11 285.4h0.6M212.18 279.01h0.6M217.01 288.34h0.6M240.28 280.11h0.6M223.51 261.93h0.6M228.84 288.79h0.6M230.34 270.96h0.6M238.39 247.34h0.6M224.1 283.61h0.6M222.28 267.74h0.6M229.95 241.63h0.6M224.08 263.51h0.6M227.93 289.19h0.6M224.88 255.03h0.6M225.34 287.75h0.6M232.6 245.3h0.6M224.8 284.18h0.6M213.59 276.7h0.6M217.69 250.73h0.6M231.82 249.89h0.6M238.68 264.96h0.6M217.66 278.42h0.6M225.34 249.49h0.6M221.59 257.79h0.6M215.32 288.9h0.6M232.45 284.41h0.6M208.91 287.91h0.6M226.01 285.43h0.6M261.15 270.68h0.6M234.93 263.09h0.6M223.86 287.48h0.6M228.01 284.04h0.6M238.55 284.58h0.6M214.91 242.74h0.6M221.49 287.49h0.6M212.36 255.34h0.6M216.49 289.07h0.6M237.55 273.92h0.6M199.26 288.03h0.6M223.96 285.79h0.6M235.92 279.12h0.6M223.46 241.44h0.6M232.3 258.34h0.6M237.91 289.08h0.6M226.41 283.97h0.6M224.51 286.73h0.6M235.64 277.96h0.6M225.98 289.4h0.6M212.42 275.36h0.6M234.69 281.78h0.6M229.37 246.43h0.6M225.94 264.34h0.6M230.88 285.09h0.6M224.47 263.02h0.6M210.91 283.14h0.6M231.03 242.25h0.6M215.23 285.17h0.6M229.28 287.09h0.6M230.29 269.31h0.6M225.21 287.53h0.6M224.34 284.89h0.6M224.13 285.62h0.6M239.78 288.8h0.6M226.29 248.91h0.6M237.75 283.33h0.6M227.62 257.24h0.6M224.12 263.19h0.6M220.48 286.72h0.6M218.92 284.95h0.6M222.54 281.67h0.6M213.78 248.69h0.6M225.89 288.24h0.6M227.38 280h0.6M225.61 286.99h0.6M233.33 269.48h0.6M217.04 252.06h0.6M226.02 280.72h0.6M232.38 285.75h0.6M234.05 286.31h0.6M225.65 269.81h0.6M219.31 286.96h0.6M227.08 244.99h0.6M217.35 267.94h0.6M212.81 256.79h0.6M227.31 269.2h0.6M237.39 275.79h0.6M220.99 261.93h0.6M213.42 280.65h0.6M235.34 281.71h0.6M212.18 257.75h0.6M223.92 274.82h0.6M235 288.5h0.6M230.85 276.43h0.6M223.87 271.48h0.6M219.59 256.78h0.6M214.57 275.82h0.6M218.5 253.22h0.6M221.32 285.92h0.6M224.46 286.12h0.6M215.32 242.82h0.6M234.1 287.89h0.6M232.85 268.21h0.6M221.41 289.29h0.6M197 263.17h0.6M230.96 280.87h0.6M227.01 287.31h0.6M234.4 287.38h0.6M224.99 284.81h0.6M233.68 246.69h0.6M222.82 269.32h0.6M217.68 284.18h0.6M223.28 279.94h0.6M232.26 269.93h0.6M229.2 280.53h0.6M212.68 288.79h0.6M226.57 285.99h0.6M232.33 263.75h0.6M226.36 287.85h0.6M232.7 286.58h0.6M227.08 263.41h0.6M237.33 286.64h0.6M228.45 288.47h0.6M219.82 274.57h0.6M224.92 268.24h0.6M231.62 258.9h0.6M221.44 274.06h0.6M238.5 280.29h0.6M227.47 288.23h0.6M239.34 284.48h0.6M234.32 278.99h0.6M222.75 271.47h0.6M231.6 284.41h0.6M225.32 281.6h0.6M219.84 289.2h0.6M224.95 284.22h0.6M229.51 281.86h0.6M210.7 289.19h0.6M236.14 271.63h0.6M228.76 264.02h0.6M196.83 280.09h0.6M223.14 278.13h0.6M219.19 257.66h0.6M230.74 272.1h0.6M221.43 287.88h0.6M228.62 283.72h0.6M216.25 288.02h0.6M228.83 280.97h0.6M223.22 284.91h0.6M224.21 287.47h0.6M237.73 253.53h0.6M210.61 285.12h0.6M222.08 284.57h0.6M219.54 282.5h0.6M224.18 241.34h0.6M225.75 276.99h0.6M222.32 280.37h0.6M223.93 260.58h0.6M219.09 281.9h0.6M213.85 251.48h0.6M212.49 273.93h0.6M223.72 287.64h0.6M231.26 276.56h0.6M213.22 284.07h0.6M225.64 283.26h0.6M226.98 288.58h0.6M218.55 287.83h0.6M235.69 273.85h0.6M248.44 265.82h0.6M223.4 288.93h0.6M231.34 263.86h0.6M214.19 277.56h0.6M218.16 282.94h0.6M228.1 287.41h0.6M208.7 286.89h0.6M217.41 284.98h0.6M213.09 275.04h0.6M221.8 286.82h0.6M240.34 281.68h0.6M235.61 266.73h0.6M232.24 282.81h0.6M234.22 288.65h0.6M216.3 283.03h0.6M205.85 275.58h0.6M236.48 279.21h0.6M213.76 287.67h0.6M233.68 284.22h0.6M215.6 279.54h0.6M222.47 289.41h0.6M235.24 268.75h0.6M216.4 283.67h0.6M215.68 279.25h0.6M223.43 285.85h0.6M218.08 281.48h0.6M232.06 289.11h0.6M227.45 259.94h0.6M221.79 286.94h0.6M222.4 264.53h0.6M224.7 289.07h0.6M224.94 273.06h0.6M203.44 287.62h0.6M243.81 288.78h0.6M221.15 273.76h0.6M224.39 280.91h0.6M222.8 280.89h0.6M214.95 287.8h0.6M210.53 288.05h0.6M212.47 283.04h0.6M223.49 286.79h0.6M215.37 288.44h0.6M211.57 254.73h0.6M229.33 289.17h0.6M218.46 263.23h0.6M230.49 282.93h0.6M234.84 282.3h0.6M235.19 275.83h0.6M242.48 276.86h0.6M213.13 273.85h0.6M222.37 287.26h0.6M219.47 278.8h0.6M221.28 285.05h0.6M227.38 279.59h0.6M233.11 289.13h0.6M222.18 289.31h0.6M207.66 240.14h0.6M224.86 275.88h0.6M228.49 283.56h0.6M216.31 281.57h0.6M236.52 288.08h0.6M226.05 252.78h0.6M224.74 241.07h0.6M231.18 279.25h0.6M237.71 273.55h0.6M228.08 275.39h0.6M214.96 286.38h0.6M236.59 284.7h0.6M217.75 276.55h0.6M234.15 286.34h0.6M213.61 289.39h0.6M238.45 286.83h0.6M224.25 288.93h0.6M223.58 284.19h0.6M226.37 284.28h0.6M225.64 282.7h0.6M237.02 288.99h0.6M206.93 285.79h0.6M227.16 286.05h0.6M253.15 286.2h0.6M237.02 287.74h0.6M229.14 280.57h0.6M209.66 284.5h0.6M226.5 282.82h0.6M220.31 243h0.6M227.4 287.42h0.6M217.74 285.58h0.6M229.11 260.86h0.6M234.78 277.12h0.6M226.52 276.15h0.6M226.83 240.42h0.6M219.98 288.19h0.6M231.2 251.04h0.6M213.87 271.61h0.6M216.7 285.29h0.6M216.54 255.77h0.6M235 289.05h0.6M209.89 286.74h0.6M220.51 279.1h0.6M226.72 282.74h0.6M229.94 289.09h0.6M217.89 252.42h0.6M225.37 283.88h0.6M220.29 265.69h0.6M214.59 271.66h0.6M223.12 263.83h0.6M201.5 250.1h0.6M231.15 288.76h0.6M243.43 285.4h0.6M230.97 277.81h0.6M231.76 255.35h0.6M227.2 282.6h0.6M240.44 264.44h0.6M217.13 268.61h0.6M214.81 273.61h0.6M217.49 281.24h0.6M217.18 260.38h0.6M226.42 280.26h0.6M230.59 285.67h0.6M237.99 240.11h0.6M230.2 287.56h0.6M228.72 280.39h0.6M229.53 285.16h0.6M222.62 273.7h0.6M221.57 284.28h0.6M228.31 267.77h0.6M229.56 287.62h0.6M210.5 243.56h0.6M210.78 285.87h0.6M218.42 282.98h0.6M218.82 278.02h0.6M229.3 277.62h0.6M219.76 279.47h0.6M210.19 269.47h0.6M220.94 280.05h0.6M229.44 241.27h0.6M231.05 282.57h0.6M247.86 271.14h0.6M222.35 288.41h0.6M220.31 279.05h0.6M230.94 278.33h0.6M234.04 263.18h0.6M228.62 282.31h0.6M231.79 284.38h0.6M238.08 286.42h0.6M226.47 255.91h0.6M233.15 288.07h0.6M235.35 289h0.6M235.07 284.36h0.6M226.67 288.49h0.6M221.63 254.73h0.6M224.1 275.23h0.6M220.76 252.53h0.6M226.88 282.53h0.6M220.9 274.73h0.6M213.65 285.13h0.6M243.67 282.09h0.6M206.29 244.5h0.6M226.63 282.53h0.6M212.95 285.63h0.6M217.64 284.27h0.6M240.62 277.62h0.6M207.68 285.65h0.6M222.23 284.15h0.6M220.17 274.78h0.6M227.98 276.94h0.6M216.9 277.32h0.6M226.07 279.64h0.6M223.08 269.74h0.6M236.34 283.92h0.6M223.67 263.46h0.6M224.18 253.18h0.6M211.4 251.13h0.6M232.73 279.12h0.6M240.46 247.4h0.6M228.9 245.66h0.6M241.66 277.36h0.6M232.17 285.82h0.6M217.01 273.69h0.6M221.75 242.74h0.6M232.78 240.61h0.6M227.04 279.69h0.6M196.08 286.18h0.6M234.7 243.44h0.6M224.13 281.43h0.6M233.94 261.3h0.6M229.04 257.41h0.6M215.27 286.26h0.6M233.57 288.24h0.6M229.51 250.08h0.6M209.43 287.01h0.6M236.66 276.37h0.6M246.47 286.99h0.6M244.39 269.75h0.6M214 240.22h0.6M225.9 284.7h0.6M219.86 254.13h0.6M215.08 284.2h0.6M222.94 285.19h0.6M227.35 241.61h0.6M227.99 240.23h0.6M223.69 285.44h0.6M217.84 288.21h0.6M225.92 265.74h0.6M233.26 284.01h0.6M202.5 289.16h0.6M258.52 288.91h0.6M239.92 279.61h0.6M223.79 272.21h0.6M206.69 263.16h0.6M249.79 283.48h0.6M228.48 278.96h0.6M221.72 280.45h0.6M221.56 275.2h0.6M240.85 285.2h0.6M233.86 273.24h0.6M236.79 279.91h0.6M211.24 289.06h0.6M220.22 260.95h0.6M237.93 282.87h0.6M226.88 266.55h0.6M225.01 285.67h0.6M210.98 287.53h0.6M222.88 285.91h0.6M214.99 280.06h0.6M240.96 280.74h0.6M215.46 288.65h0.6M231.21 287.09h0.6M221.14 259.8h0.6M226.17 278.25h0.6M228.6 248.49h0.6M237.65 260.28h0.6M227.5 286.85h0.6M224.26 283.52h0.6M212.32 285.1h0.6M209.12 265.41h0.6M231.59 289.36h0.6M231.65 288.37h0.6M211.68 258.76h0.6M238.31 260.73h0.6M209.76 287.56h0.6M227.09 284.11h0.6M221.05 281.27h0.6M241.12 285.26h0.6M222.3 282.46h0.6M230.38 270.54h0.6M221.15 277.55h0.6M219.82 272.84h0.6M224.01 282.79h0.6M228.97 282.12h0.6M211.78 286.73h0.6M220.13 240.65h0.6M242.18 282.65h0.6M234.12 252.32h0.6M231.75 256.01h0.6M211.98 275.19h0.6M220.23 276.82h0.6M219 251.98h0.6M223.93 258.6h0.6M205.75 263.1h0.6M206.85 241.39h0.6M228.17 277.96h0.6M240.32 287.6h0.6M221.6 263.39h0.6M235.33 289.17h0.6M241.55 286.82h0.6M231.4 271.61h0.6M219.81 288.12h0.6M221.39 270.4h0.6M204.67 257.94h0.6M234.49 288.26h0.6M237.19 287.59h0.6M220.4 278.91h0.6M225.25 248.15h0.6M215.47 278.5h0.6M216.01 259.96h0.6M221.55 286.37h0.6M224.03 272.34h0.6M243.25 285.02h0.6M212.9 257.3h0.6M218.52 283.68h0.6M221.46 280.55h0.6M226.73 281.48h0.6M234.88 275.22h0.6M226.44 267.72h0.6M227.58 267.25h0.6M227.06 279.44h0.6M220.53 261.22h0.6M218.64 259.1h0.6M224.43 258.35h0.6M230.72 287.65h0.6M221.59 282.84h0.6M232.89 257.65h0.6M212.91 287.89h0.6M219.59 283.99h0.6M222.62 284.89h0.6M218.84 265.19h0.6M221.11 288.51h0.6M230.32 281.79h0.6M235.9 275.35h0.6M233.42 240.42h0.6M212.62 279.48h0.6M200.96 275.99h0.6M226.76 256.3h0.6M225.41 249.49h0.6M225.33 287.83h0.6M234.56 278.73h0.6M217.53 255.42h0.6M218.72 281.7h0.6M229.63 270.95h0.6M228.4 288.61h0.6M232.64 275.22h0.6M219.58 284.18h0.6M232.75 289.09h0.6M214.36 285.9h0.6M223.08 274.97h0.6M227.56 253.91h0.6M221.02 263.19h0.6M227.94 278.06h0.6M243.37 288.08h0.6M204.01 284.44h0.6M244 268.61h0.6M222.06 287.14h0.6M235.03 289.38h0.6M226.14 284.91h0.6M227.81 289.35h0.6M203.31 285.58h0.6M209.18 283.86h0.6M207.42 285.16h0.6M223.18 283.13h0.6M223.62 287.19h0.6M237.89 250.29h0.6M237.87 285.95h0.6M217.29 279.47h0.6M203.79 289.34h0.6M217.69 257.57h0.6M240.39 284.89h0.6M221.4 285.13h0.6M229.92 266.97h0.6M216.82 288.78h0.6M235.31 245.66h0.6M233.49 268.47h0.6M230.36 271.94h0.6M225.46 285.17h0.6M224.06 287.99h0.6M230.29 282.88h0.6M241.53 288.49h0.6M222.42 284.04h0.6M226.84 282.39h0.6M201.81 281.48h0.6M221.69 264.82h0.6M227.05 268.45h0.6M235.11 272.87h0.6M222.27 287.68h0.6M231.28 245.62h0.6M230.96 280.94h0.6M222.37 273.59h0.6M240.69 287.75h0.6M231.48 255.28h0.6M229.83 269.17h0.6M233.85 281.56h0.6M221.26 286.04h0.6M224.2 281.03h0.6M219.7 287.23h0.6M224.67 277.44h0.6M208.32 275.53h0.6M226.8 286.98h0.6M209.66 269.3h0.6M217.8 240.86h0.6M228.23 275.61h0.6M221.05 286.76h0.6M214.18 287.56h0.6M228.07 288.4h0.6M225.05 288.18h0.6M217.85 285h0.6M228.38 276.1h0.6M219.97 287.9h0.6M230.91 286.22h0.6M216.76 277.31h0.6M238.23 282.69h0.6M221.77 286.72h0.6M228.82 280.24h0.6M220.9 244.9h0.6M236.56 281.53h0.6M215.15 286.17h0.6M209.67 262.5h0.6M240.36 288.82h0.6M211.43 276.02h0.6M220.92 287.82h0.6M230.66 278.41h0.6M214.35 287.26h0.6M214.28 285.21h0.6M213.96 265.17h0.6M220.12 284.83h0.6M221.55 273.51h0.6M224.97 260.72h0.6M240.64 260.22h0.6M231.94 274.74h0.6M217.84 288.44h0.6M238.1 269.92h0.6M232.65 287.35h0.6M234.65 281.91h0.6M222.65 281.82h0.6M228.86 288.06h0.6M234.43 276.78h0.6M224.71 285.91h0.6M228.74 253.36h0.6M214.16 285.2h0.6M220.68 289.21h0.6M218.65 286.5h0.6M237.19 268.47h0.6M227.15 288.19h0.6M236.33 281.84h0.6M218.42 288.83h0.6M231.78 279.9h0.6M230.01 242.77h0.6M238.81 260.93h0.6M235.67 267.07h0.6M228.42 282.37h0.6M230.27 272.28h0.6M227.24 276.26h0.6M214.24 262.9h0.6M225.32 285.64h0.6M220.04 286.25h0.6M223.45 276.34h0.6M211.56 247.88h0.6M198.88 278.85h0.6M223.63 285.33h0.6M224.91 243.65h0.6M235.45 275.99h0.6M224.39 288.9h0.6M216.23 288.47h0.6M233.7 284.11h0.6M242.17 286.86h0.6M210.86 285.64h0.6M234.32 272.15h0.6M227.65 242.91h0.6M221 282.3h0.6M229.83 288.95h0.6M223.76 282.33h0.6M234.02 277.13h0.6M233.81 277.99h0.6M232.4 286.73h0.6M222.76 282.68h0.6M221.85 276.06h0.6M217.01 273.93h0.6M229.59 286.57h0.6M236.34 286h0.6M222.66 283.57h0.6M210.92 288.84h0.6M221.95 264.77h0.6M212.32 270.17h0.6M215.01 247.35h0.6M215.97 277.5h0.6M226.31 259.89h0.6M229.91 285.2h0.6M215.48 251.75h0.6M237.12 249.29h0.6M232.9 288.28h0.6M213.14 269.83h0.6M229.03 286.12h0.6M220.88 250.08h0.6M232.12 288.36h0.6M218.66 284.59h0.6M232.34 276.2h0.6M221.96 275.83h0.6M225.15 256.82h0.6M222.18 289.2h0.6M217.79 258.91h0.6M237.65 245.38h0.6M219.98 288.01h0.6M224.65 284.28h0.6M219.55 250.55h0.6M235.83 282.95h0.6M207.73 286.96h0.6M216.34 282.59h0.6M220.17 284.24h0.6M226.74 281.03h0.6M220.42 268.38h0.6M238.09 282.14h0.6M215.07 281.34h0.6M231.64 250.11h0.6M235.46 286.89h0.6M238.57 261.18h0.6M229.2 288.31h0.6M229.95 287.98h0.6M214.01 283.05h0.6M233.55 279.99h0.6M223.38 287h0.6M243.63 282.37h0.6M218.67 285.32h0.6M224.72 289h0.6M219.34 274.78h0.6M226.52 269.43h0.6M225.61 285.39h0.6M235.21 287.21h0.6M230.11 288.69h0.6M229.53 284.37h0.6M209.08 286.38h0.6M218.21 251.75h0.6M207.43 280.5h0.6M220.85 243.32h0.6M217.92 251.2h0.6M240.21 289.14h0.6M214.41 288.29h0.6M235.47 288.66h0.6M229.05 287.33h0.6M237.74 244.09h0.6M223.57 278.15h0.6M234.04 280.38h0.6M216.09 258.32h0.6M223.86 285.1h0.6M219.43 274h0.6M231.33 281.18h0.6M223.95 287.53h0.6M213.54 279.89h0.6M243.28 284.61h0.6M227.39 287.06h0.6M210.7 241.72h0.6M229.66 284.63h0.6M239.62 280.26h0.6M217.47 286.8h0.6M247.45 246.26h0.6M225.3 276.84h0.6M222.67 285.11h0.6M203.39 283.9h0.6M227.15 255.51h0.6M229.73 289.4h0.6M223.97 283.48h0.6M223.28 274.4h0.6M249.06 278.68h0.6M203.81 273.11h0.6M210.87 243.25h0.6M228.46 275.94h0.6M215.4 285.37h0.6M229.9 280.59h0.6M224.87 286.43h0.6M237.51 246.85h0.6M228.44 248.47h0.6M228.97 250.19h0.6M231.46 283.7h0.6M207.97 240.54h0.6M229.21 281.71h0.6M225.63 269.39h0.6M223.85 286.64h0.6M200.11 289.25h0.6M232.65 282.94h0.6M221.9 284.22h0.6M235.31 286.85h0.6M223.35 244.86h0.6M214.12 262.26h0.6M217.21 247.77h0.6M231.71 276.77h0.6M235.81 288.81h0.6M237.41 244.21h0.6M225.08 283.16h0.6M243.17 266.55h0.6M218.69 244.71h0.6M206.91 279.43h0.6M221.51 289.36h0.6M226.64 288.56h0.6M205.87 277.24h0.6M226.9 282.28h0.6M226.25 287.61h0.6M229.48 281.56h0.6M216.73 288.66h0.6M234.41 274.97h0.6M241.22 289.04h0.6M219.1 286.65h0.6M211.64 285.11h0.6M228.4 244.05h0.6M232.58 275.85h0.6M231.21 262.1h0.6M215.03 244.45h0.6M232.19 287.45h0.6M236.87 289.35h0.6M218.86 288.59h0.6M233.56 244.88h0.6M228.71 257.66h0.6M216.23 283.79h0.6M226.74 285.48h0.6M235.69 248.22h0.6M213.37 276.33h0.6M232.89 285.89h0.6M223.33 255.11h0.6M228.57 286.99h0.6M213.52 288.48h0.6M228.73 241.25h0.6M219.5 275.85h0.6M219.64 286.28h0.6M218.9 289.37h0.6M225.9 271.19h0.6M204.5 274.26h0.6M226.24 280h0.6M231.8 282.93h0.6M220.41 288.51h0.6M202.39 287.51h0.6M220.2 278.2h0.6M221.57 265.75h0.6M212.45 241.76h0.6M229.47 268.4h0.6M222.65 279.92h0.6M221.17 288.27h0.6M213.17 267.54h0.6M223.29 285.42h0.6M234.21 281.85h0.6M222.47 282.65h0.6M222.29 279.76h0.6M232.13 286.49h0.6M217.22 246.15h0.6M224.74 266.1h0.6M218.99 289.37h0.6M233.12 284.85h0.6M227.4 284.04h0.6M230.13 270.07h0.6M218.4 282.14h0.6M236.6 281.76h0.6M222.11 285.83h0.6M216.16 274.61h0.6M240.66 284.83h0.6M224.47 240.21h0.6M222.33 286.9h0.6M229.74 282.2h0.6M237.15 271.34h0.6M234.18 285.96h0.6M220.87 261.97h0.6M243.78 286.14h0.6M239.58 271.41h0.6M224.8 288.32h0.6M212.53 270.52h0.6M216.36 274.08h0.6M233.96 288.94h0.6M210.76 267.21h0.6M220.64 288.14h0.6M234.38 260.31h0.6M211.86 284.78h0.6M230.88 276.29h0.6M207.53 277.17h0.6M243.34 249.92h0.6M223.69 273.19h0.6M229.61 287.55h0.6M224.62 287.16h0.6M229.07 276.94h0.6M215.71 287.1h0.6M236.05 284.95h0.6M230.59 245.49h0.6M245.55 283.21h0.6M227.36 263.5h0.6M229.94 254.11h0.6M219.81 284.19h0.6M234.72 287.04h0.6M230.15 284.63h0.6M227.01 289.03h0.6M212.84 272.8h0.6M213.8 273.27h0.6M219.86 273h0.6M218.16 288.65h0.6M234.7 288.45h0.6M240.75 280.45h0.6M238.58 256.97h0.6M229.91 284.69h0.6M214.38 283.46h0.6M228.94 252.77h0.6M230.12 284.26h0.6M234.71 246.18h0.6M225.17 283.65h0.6M227.44 245.63h0.6M229.16 283.09h0.6M224.49 286.32h0.6M224.52 285.36h0.6M223.01 288.85h0.6M236.79 255.69h0.6M226.64 280.23h0.6M232.86 274.08h0.6M219.23 288.62h0.6M234.04 270.26h0.6M222.99 285.52h0.6M241.57 279.09h0.6M233.67 278.65h0.6M227.28 283.98h0.6M223.08 288.36h0.6M217.07 289.17h0.6M224.47 273.79h0.6M227.24 272.63h0.6M222.46 277.86h0.6M220.7 280.5h0.6M219.8 288.02h0.6M212.35 288.03h0.6M230.08 277.42h0.6M228.93 287.84h0.6M224.77 260.86h0.6M229.41 255.53h0.6M215.29 289.38h0.6M224.33 286.31h0.6M218.07 286.73h0.6M221.45 282.87h0.6M204.2 285.34h0.6M218.64 284.62h0.6M237.55 285.8h0.6M219.41 286.38h0.6M233.39 255.7h0.6M221.91 287.92h0.6M211.78 287.28h0.6M219.79 288.31h0.6M213.6 285.61h0.6M241.21 288.85h0.6M210.59 269.49h0.6M225.14 278.27h0.6M234 276.63h0.6M233.9 273.66h0.6M230.47 270.54h0.6M225.96 246.63h0.6M230.56 288.95h0.6M238.68 269.62h0.6M234.16 285.86h0.6M224.13 285.23h0.6M245.83 281.27h0.6M222.43 286.43h0.6M230.75 265.75h0.6M226.9 288.25h0.6M222.19 286h0.6M198.61 249.75h0.6M237.4 288.91h0.6M227.29 277.86h0.6M221.82 287.64h0.6M229.45 280.72h0.6M224.79 260.24h0.6M219.32 274.49h0.6M225.84 288.99h0.6M223.27 278.71h0.6M223.05 281.01h0.6M220.33 264.59h0.6M240.68 287.45h0.6M210.92 284.06h0.6M220.72 284.49h0.6M228.29 282.88h0.6M224.52 270.71h0.6M226.5 289.26h0.6M220.48 288.03h0.6M227.21 288.77h0.6M220.78 244.45h0.6M222.84 271.93h0.6M221.56 269.92h0.6M231.68 266.16h0.6M232.21 288.81h0.6M234.52 261.73h0.6M215.41 286.25h0.6M207.11 264.78h0.6M225.77 288.42h0.6M226.01 274.6h0.6M240.57 285.78h0.6M223.69 283.04h0.6M232.04 285.32h0.6M222 284.03h0.6M236.2 281.14h0.6M224.26 263.1h0.6M227.46 252.17h0.6M231.55 286.55h0.6M225.82 288h0.6M225.37 242.65h0.6M216.18 287.73h0.6M232.63 288.66h0.6M227.3 286.41h0.6M224.06 240h0.6M251.11 288.06h0.6M222.94 287.1h0.6M231.77 268.03h0.6M215.46 271.63h0.6M233.25 287.36h0.6M231.38 273.53h0.6M226.97 287.99h0.6M218.23 263.28h0.6M231.78 282.86h0.6M226.01 279.41h0.6M212.24 288.88h0.6M227.67 243.89h0.6M230.16 287.33h0.6M237.48 268.84h0.6M230.42 265.73h0.6M235.28 279.75h0.6M226.28 243.97h0.6M219.49 280.07h0.6M225.51 281.02h0.6M227.58 283.93h0.6M219.78 287.09h0.6M225.7 279.3h0.6M205.45 278.17h0.6M223.08 280.15h0.6M229.63 284.91h0.6M222.64 285.36h0.6M223.32 257.78h0.6M225.9 276.53h0.6M222.95 289.17h0.6M229.34 288.06h0.6M237.25 284.76h0.6M234.34 264.18h0.6M232.32 243.86h0.6M217.63 284.21h0.6M223.98 262h0.6M216.29 282.84h0.6M218.95 276.47h0.6M252.31 284.6h0.6M235.33 287.43h0.6M214.95 287.7h0.6M212.35 287.74h0.6M228.68 243.66h0.6M224.19 249.11h0.6M239.13 288.94h0.6M217.77 280.34h0.6M217.39 285.51h0.6M237.39 277.85h0.6M216.92 285.33h0.6M233.19 273.49h0.6M219.19 288.26h0.6M226.74 287.23h0.6M233.28 254.61h0.6M233.09 286.88h0.6M239.9 263.09h0.6M212.54 284.21h0.6M240.64 288.65h0.6M219.71 282.61h0.6M226.24 288.41h0.6M215.48 286.8h0.6M227.52 245.81h0.6M231.75 272.08h0.6M215.54 266.11h0.6M220.26 248.72h0.6M228.16 289.23h0.6M220.53 281.28h0.6M231.73 249.51h0.6M215.89 277.64h0.6M234.34 253.24h0.6M237.97 243.41h0.6M232.92 245.78h0.6M233.37 284.43h0.6M226.71 287.6h0.6M205.62 274.45h0.6M218.59 288.64h0.6M211.64 268.84h0.6M219.06 274.37h0.6M225.3 284.58h0.6M229.9 246.76h0.6M227.63 282.89h0.6M232.66 284.38h0.6M214.85 282h0.6M212.79 284.72h0.6M221.85 277.24h0.6M222.49 289h0.6M243.58 286.16h0.6M228.19 286.52h0.6M217.87 284.53h0.6M236.07 246.86h0.6M212.99 273.71h0.6M236.56 268.29h0.6M236.97 281.94h0.6M219 279.25h0.6M221.96 285.52h0.6M211.39 248.95h0.6M224.25 242.31h0.6M224.45 285.07h0.6M230.05 259.51h0.6M228.2 276.02h0.6M240.11 273.89h0.6M212.62 254.05h0.6M220.66 288.81h0.6M210.82 284.54h0.6M222.95 268.45h0.6M218.77 287.18h0.6M212.75 288.37h0.6M232.85 283.27h0.6M244.74 288.56h0.6M217.56 289.16h0.6M218.34 271.71h0.6M230.03 278.66h0.6M221.45 288.36h0.6M252.3 253.61h0.6M209.92 276.56h0.6M213.21 265.38h0.6M220.83 273.1h0.6M230.15 284.29h0.6M219.25 286.58h0.6M205.91 277.97h0.6M228.95 277.42h0.6M225.59 270.58h0.6M237 251.56h0.6M235.36 277.25h0.6M227.71 275.42h0.6M228.96 278.88h0.6M227.19 285.48h0.6M232.59 281.33h0.6M227.57 286.63h0.6M220.17 287.96h0.6M221.97 287.77h0.6M201.97 288.78h0.6M213.58 285.99h0.6M211.62 275.08h0.6M233.96 280.34h0.6M226.75 289.04h0.6M216.44 285.48h0.6M215.34 285.69h0.6M237.76 275.86h0.6M238.21 273.74h0.6M219.37 257.96h0.6M218.03 272.29h0.6M196.6 288.99h0.6M242.98 288.6h0.6M231.01 287.77h0.6M220.61 288.3h0.6M229.71 254.55h0.6M228.53 283.68h0.6M220.02 283.65h0.6M228.98 287.13h0.6M232.2 275.35h0.6M216.43 249.47h0.6M214.19 277.23h0.6M226.02 287.64h0.6M213.79 286.59h0.6M226.61 260.24h0.6M228.65 240.03h0.6M226.15 271.89h0.6M231.38 284.49h0.6M224.47 271.3h0.6M218.56 278.12h0.6M226.04 287.94h0.6M213.66 253.2h0.6M231.09 288.4h0.6M216.79 279.43h0.6M218.79 268.41h0.6M230.6 241.89h0.6M218.81 262.91h0.6M226.24 268.92h0.6M221.97 285.54h0.6M214.64 246.8h0.6M210.95 285.39h0.6M226.52 281h0.6M239.17 288.36h0.6M212.4 274.15h0.6M230.13 275.42h0.6M233.96 285.95h0.6M227.35 278.21h0.6M217.08 275.11h0.6M222.09 288.36h0.6M221.68 268.02h0.6M225.87 282.63h0.6M220.55 275.68h0.6M224.94 270.86h0.6M230.13 284.12h0.6M234.05 241.91h0.6M243.9 264.92h0.6M232.91 286.23h0.6M235.67 280.26h0.6M217.67 271.58h0.6M234.53 275.93h0.6M213.28 285.9h0.6M213.15 245.02h0.6M220.82 256h0.6M224.95 287.2h0.6M210.92 285.02h0.6M233.11 276.55h0.6M223.47 258.55h0.6M225.31 288.91h0.6M220.14 248.75h0.6M210.63 287.47h0.6M226.36 278.74h0.6M226.93 287.77h0.6M218.46 288.74h0.6M233.9 268.36h0.6M225.57 285.46h0.6M228.53 285.03h0.6M249.41 282.8h0.6M213.24 250.72h0.6M220.29 285.63h0.6M233.56 276.45h0.6M234 280.18h0.6M240.57 287.54h0.6M232.06 273.7h0.6M223.36 286.89h0.6M208.04 287.12h0.6M219.18 279.3h0.6M221.86 271.16h0.6M227.5 268.29h0.6M237.13 250.13h0.6M225.29 287.97h0.6M208.94 286.57h0.6M212.54 251.46h0.6M232.24 265.71h0.6M229.58 279.88h0.6M206.51 284.27h0.6M216.72 246.56h0.6M228.01 278.05h0.6M222.16 282.76h0.6M230.03 268.5h0.6M223.13 287.49h0.6M210.88 281.67h0.6M221.05 260.06h0.6M221.61 280.14h0.6M223.33 241.67h0.6M209.7 288.78h0.6M237.8 253.16h0.6M222.68 278.22h0.6M218.39 249.95h0.6M221.51 288.71h0.6M224.06 285.21h0.6M221.68 271.65h0.6M206.41 282.46h0.6M234.88 254.29h0.6M216.28 288.25h0.6M215.69 287.63h0.6M239.46 277.79h0.6M213.87 289.08h0.6M213.35 267.86h0.6M206.72 263.81h0.6M232.95 264.02h0.6M224.8 254.48h0.6M224.48 285.34h0.6M230.07 260.42h0.6M221.01 287.38h0.6M226.07 288.72h0.6M231.23 283.61h0.6M232.78 273.62h0.6M232.99 283.88h0.6M226.16 283.38h0.6M240.97 254.72h0.6M226.32 260.78h0.6M220.45 285.31h0.6M220.82 281.79h0.6M227.9 285.51h0.6M218.7 284.48h0.6M228.88 277.9h0.6M220.22 272.22h0.6M223.51 287.12h0.6M207.91 288.47h0.6M206.35 289.18h0.6M218.26 287.6h0.6M232.11 282.88h0.6M233.15 283.62h0.6M229.12 287.48h0.6M223.91 273.48h0.6M225.37 286.77h0.6M238.45 257.79h0.6M234.13 277.45h0.6M209.13 271.7h0.6M224.7 287.37h0.6M229.38 274.91h0.6M226.03 259.08h0.6M230.54 274.04h0.6M227.5 261.5h0.6M214.26 259.6h0.6M223.77 276.09h0.6M228.7 251.55h0.6M224.68 287.25h0.6M237.79 287.34h0.6M224.84 285.5h0.6M234.94 284.79h0.6M210.82 276.52h0.6M220.4 273.09h0.6M224.54 284.5h0.6M228.13 287.02h0.6M236.18 257.54h0.6M220.36 282.78h0.6M220.09 248.87h0.6M224.17 281.42h0.6M224.49 284.56h0.6M225.38 261.73h0.6M217.57 283.16h0.6M238.68 280.61h0.6M223.23 266.6h0.6M226.04 282.17h0.6M228.55 282.2h0.6M222.72 283.41h0.6M227.74 287.93h0.6M216.42 288.41h0.6M221.33 261.83h0.6M230.19 281.57h0.6M237.18 266.27h0.6M210.38 281.96h0.6M208.56 268.11h0.6M222.14 254.03h0.6M204.72 284.2h0.6M219.07 282.71h0.6M245.41 286.37h0.6M214.92 240.7h0.6M218.97 284.06h0.6M221.88 282.61h0.6M215.56 280.13h0.6M227.6 285.63h0.6M218.6 283.06h0.6M228.44 285.27h0.6M240.07 242.41h0.6M228.59 282.62h0.6M225.45 271.11h0.6M232.61 286.45h0.6M211.07 283.9h0.6M223.74 287.13h0.6M227.81 285.69h0.6M218.89 288.48h0.6M232.44 262.73h0.6M223.15 243.6h0.6M222.3 285.54h0.6M220.87 275.22h0.6M225.19 259.01h0.6M212.87 279.68h0.6M239.86 286.76h0.6M232.46 251.56h0.6M218.33 270.15h0.6M226.17 241.21h0.6M244.43 278.97h0.6M212.25 280.34h0.6M217.07 283.23h0.6M222.03 288.64h0.6M233.4 284.25h0.6M225.44 271.28h0.6M221.59 287.76h0.6M231.15 280.13h0.6M219.82 287.48h0.6M231.24 285.69h0.6M229.05 285.77h0.6M218.32 285.01h0.6M226.35 279.38h0.6M237.45 283.04h0.6M226.61 279.41h0.6M225.42 285.79h0.6M229.4 280.53h0.6M217.68 262.89h0.6M236.68 257.98h0.6M232.99 272.47h0.6M226.14 254.88h0.6M215.95 279.79h0.6M216.23 282.77h0.6M228.01 288.58h0.6M222.07 288.72h0.6M241.27 284.11h0.6M207.31 281.68h0.6M224.66 287.52h0.6M229.13 280.18h0.6M213.27 287.96h0.6M227.36 255.42h0.6M220.46 268.55h0.6M241.28 288.73h0.6M206.94 286.81h0.6M214.92 257.57h0.6M217.55 286.34h0.6M231.38 285.27h0.6M225.81 288.77h0.6M241.88 254.53h0.6M211.03 241.08h0.6M224.65 288.79h0.6M236.97 313.22h0.6M225.93 320.02h0.6M230.02 315.35h0.6M245.64 313.61h0.6M234.56 312.6h0.6M237.4 313.71h0.6M219.7 313.24h0.6M223.57 313.92h0.6M236.38 314.45h0.6M220.42 314.09h0.6M231.19 314.82h0.6M225.15 313.35h0.6M223.18 316.91h0.6M245.88 313.57h0.6M226.18 319.17h0.6M214.65 317.71h0.6M238.54 313.19h0.6M241.02 315.01h0.6M224.89 314.58h0.6M249.28 315.3h0.6M234.74 318.05h0.6M245.74 312.73h0.6M231.91 318.5h0.6M217.24 313.09h0.6M242.31 315.43h0.6M228.36 315.96h0.6M245.2 317.11h0.6M214.15 313.54h0.6M232.44 314.8h0.6M239.27 314.95h0.6M214.63 314.81h0.6M215.44 314.93h0.6M210.57 315.31h0.6M213.79 318.63h0.6" stroke="#111" stroke-width="0.6" fill="none" opacity="0.85"/>
<ellipse cx="228.5" cy="300.3" rx="18.5" ry="12.1" fill="url(#blob)" stroke="#222" stroke-width="0.9" stroke-opacity="0.6"/>
<ellipse cx="228.5" cy="300.3" rx="17.4" ry="11" fill="none" stroke="#fff" stroke-width="0.8" opacity="0.9"/>
<ellipse cx="227.69" cy="300.54" rx="14.8" ry="9.68" fill="none" stroke="#555" stroke-width="0.3" opacity="0.55"/>
<ellipse cx="227.2" cy="300.69" rx="12.58" ry="8.23" fill="none" stroke="#fff" stroke-width="0.3" opacity="0.6"/>
<ellipse cx="226.71" cy="300.83" rx="10.36" ry="6.78" fill="none" stroke="#555" stroke-width="0.3" opacity="0.55"/>
<ellipse cx="226.22" cy="300.98" rx="8.14" ry="5.32" fill="none" stroke="#fff" stroke-width="0.3" opacity="0.6"/>
<ellipse cx="225.73" cy="301.12" rx="5.92" ry="3.87" fill="none" stroke="#555" stroke-width="0.3" opacity="0.5"/>
<ellipse cx="225.24" cy="301.27" rx="3.7" ry="2.42" fill="none" stroke="#fff" stroke-width="0.3" opacity="0.7"/>
<ellipse cx="225.91" cy="301.51" rx="2.41" ry="0.55" fill="#fff" opacity="0.95"/>
<rect x="207.1" y="238.4" width="53.4" height="56" fill="none" stroke="#333" stroke-width="0.75"/>
<rect x="224" y="255.4" width="19.6" height="18.4" fill="#fff" opacity="0.8"/>
<text x="233.8" y="263.9" font-size="6.8" text-anchor="middle" font-weight="bold" fill="#000" stroke="#000" stroke-width="0.25">Th17</text>
<text x="233.8" y="274.6" font-size="6.8" text-anchor="middle" font-weight="bold" fill="#000" stroke="#000" stroke-width="0.25">10.7</text>
<line x1="173.5" y1="262.3" x2="176.3" y2="262.3" stroke="#222" stroke-width="0.7"/>
<line x1="173.5" y1="306" x2="176.3" y2="306" stroke="#222" stroke-width="0.7"/>
<path d="M174.9 244h1.4M174.9 248.5h1.4M174.9 252h1.4M174.9 255h1.4M174.9 258h1.4M174.9 272h1.4M174.9 279h1.4M174.9 285h1.4M174.9 290h1.4M174.9 294h1.4M174.9 297h1.4M174.9 299.5h1.4M174.9 311.5h1.4M174.9 314h1.4M174.9 317h1.4M174.9 321h1.4M174.9 327h1.4M174.9 333h1.4" stroke="#555" stroke-width="0.45" fill="none"/>
<rect x="174.5" y="303.0" width="1.8" height="5.6" fill="#222"/>
<line x1="201" y1="339.6" x2="201" y2="342.4" stroke="#222" stroke-width="0.7"/>
<line x1="245.1" y1="339.6" x2="245.1" y2="342.4" stroke="#222" stroke-width="0.7"/>
<path d="M180.3 341v-1.4M185.3 341v-1.4M189.3 341v-1.4M192.3 341v-1.4M209.3 341v-1.4M212.3 341v-1.4M216.3 341v-1.4M221.3 341v-1.4M227.3 341v-1.4M233.3 341v-1.4M238.3 341v-1.4M241.8 341v-1.4M253.3 341v-1.4M260.3 341v-1.4M265.3 341v-1.4M269.3 341v-1.4M272.8 341v-1.4M275.8 341v-1.4" stroke="#555" stroke-width="0.45" fill="none"/>
<rect x="194.9" y="339.6" width="11.5" height="1.6" fill="#222"/>
<text x="201" y="352.8" font-size="5" text-anchor="middle" font-weight="bold" fill="#111">0</text>
<text x="245.5" y="353.0" font-size="5" font-weight="bold" text-anchor="middle" fill="#111">10<tspan dy="-3.0" font-size="4.6">3</tspan></text>
<text x="166.9" y="307.8" font-size="5" text-anchor="middle" font-weight="bold" fill="#111">0</text>
<text x="167.7" y="264.8" font-size="5" font-weight="bold" text-anchor="middle" fill="#111">10<tspan dy="-3.0" font-size="4.6">3</tspan></text>
</g>
<text x="349" y="226.2" font-size="10.6" text-anchor="middle" fill="#1a1a1a">0.1</text>
<g>
<rect x="298" y="238.4" width="104.6" height="101.2" fill="#fff" stroke="#3c3c3c" stroke-width="0.85"/>
<path d="M356.5 308.28h0.6M339.4 287.63h0.6M340.36 291.56h0.6M334.1 293.69h0.6M345.35 313.02h0.6M358.26 305.31h0.6M334.78 292.96h0.6M358.19 291.25h0.6M349.68 314.2h0.6M348.92 310.97h0.6M357.88 306.76h0.6M363.28 293.82h0.6M356.42 308.96h0.6M347.43 290.16h0.6M361.58 306.22h0.6M334.54 294.68h0.6M358.36 296.41h0.6M345.53 288.33h0.6M357.64 294.92h0.6M335.91 292.17h0.6M358.96 287.27h0.6M346.79 312.22h0.6M356.15 289.91h0.6M349.92 291.37h0.6M349.86 290.94h0.6M359.74 294.08h0.6M344.49 290.32h0.6M344.9 288.92h0.6M356.44 311.34h0.6M351.94 316.56h0.6M360.06 300.46h0.6M357.62 295.1h0.6M359.86 298.27h0.6M351.32 291.63h0.6M360.94 302.59h0.6M358.65 304.35h0.6M341.56 312.15h0.6M354.19 316.13h0.6M360.88 302.69h0.6M358.64 297.74h0.6M349.33 290.09h0.6M360.72 297.8h0.6M360.25 304.5h0.6M356.19 293.67h0.6M347.14 290.29h0.6M334.32 308.57h0.6M340.27 313.11h0.6M345.26 312.88h0.6M353.11 292.62h0.6M359.04 298.13h0.6M360.35 299.32h0.6M359.76 299.19h0.6M361.11 305.33h0.6M362.49 314.3h0.6M352.07 289.29h0.6M348.24 311.32h0.6M348.45 290.35h0.6M344.36 290.51h0.6M339.59 287.98h0.6M360.95 296.74h0.6M348.56 312.28h0.6M362.61 302.43h0.6M358.45 295.96h0.6M345.75 289.68h0.6M358.82 304.39h0.6M359.64 308.15h0.6M359.25 286.8h0.6M356.33 311.53h0.6M340.97 311.17h0.6M347.99 313.96h0.6M361.13 298.8h0.6M370.54 293.11h0.6M341.92 290.14h0.6M362.02 299.82h0.6M330.76 303.69h0.6M358.28 308.92h0.6M359.99 307.84h0.6M363 296.93h0.6M358.01 295.86h0.6M344.1 289.05h0.6M347.03 311.22h0.6M347.11 289.81h0.6M348.93 311.55h0.6M333.74 290.98h0.6M359.82 297.7h0.6M361.81 312.65h0.6M330.83 296.62h0.6M351.83 288.34h0.6M334.29 291.55h0.6M358.3 294.6h0.6M341.14 287.94h0.6M331.39 296.65h0.6M351.44 312.03h0.6M356.53 293.26h0.6M358.58 296.45h0.6M358.21 294.54h0.6M340.96 291.25h0.6M330.19 302.83h0.6M353.89 313.33h0.6M359.61 296.02h0.6M360.01 302.13h0.6M361.32 305.22h0.6M351.09 277.63h0.6M360.57 298.35h0.6M359.15 310.93h0.6M358.5 306.5h0.6M358.04 312.99h0.6M357.85 296.82h0.6M364.52 302.38h0.6M343.31 289.72h0.6M333.98 294.03h0.6M360.99 296.27h0.6M334.5 309.27h0.6M357.73 295.96h0.6M358.85 284.02h0.6M357.77 294.96h0.6M357.64 293.82h0.6M360.05 298.82h0.6M327.19 301.12h0.6M360.63 301.3h0.6M356.24 308.19h0.6M346.6 290.48h0.6M354.38 309.53h0.6M344.66 312.03h0.6M357.79 306.91h0.6M337.59 309.89h0.6M357.12 310.42h0.6M360.3 295.73h0.6M350.88 285.16h0.6M351.05 290.27h0.6M344.43 288.89h0.6M357.36 295.24h0.6M337.27 291.05h0.6M342.48 313.86h0.6M359.1 298.71h0.6M352.85 292.09h0.6M363.66 300.16h0.6M331.79 304.56h0.6M356.68 307.27h0.6M358.38 297.67h0.6M360 302.76h0.6M357.46 295.17h0.6M362.07 303.01h0.6M360.7 300.31h0.6M331.15 296.56h0.6M356.65 288.67h0.6M358.5 304.41h0.6M348.78 290.27h0.6M337.2 292.66h0.6M347.77 313h0.6M359.73 298.39h0.6M355.44 294.2h0.6M359.34 303.76h0.6M339.14 288.38h0.6M353.42 310.44h0.6M359.18 296.46h0.6M347.14 290.95h0.6M353.04 309.5h0.6M331.08 298.02h0.6M359.52 315.36h0.6M332.22 306.61h0.6M365.39 298.86h0.6M367.06 306.8h0.6M348.09 290.29h0.6M353.57 312.03h0.6M361.33 306.93h0.6M337.03 290.86h0.6M357.31 311.49h0.6M367.77 303.74h0.6M345.37 286.98h0.6M340.52 289.76h0.6M354.1 311.49h0.6M354.15 290.39h0.6M351.02 310.91h0.6M351.22 310.45h0.6M360.16 300.69h0.6M350.77 288.86h0.6M340.65 312.26h0.6M333.55 294.98h0.6M345.79 279.6h0.6M365.54 299.15h0.6M359.69 299.95h0.6M365.2 295.08h0.6M355.92 292.49h0.6M330.01 297.22h0.6M356.08 294.65h0.6M358.58 292.67h0.6M355.08 310.38h0.6M361.71 299.85h0.6M360.37 297.71h0.6M352.34 292.44h0.6M360.29 298.18h0.6M332.68 294.25h0.6M347.19 285.02h0.6M349.57 290.4h0.6M354.37 292.71h0.6M345.08 312.65h0.6M359.62 297.8h0.6M352.9 313.17h0.6M338.33 290.95h0.6M347.97 312.57h0.6M351.97 314.08h0.6M337.62 292.25h0.6M330.69 293.02h0.6M361.14 296.62h0.6M359.54 308.33h0.6M364.62 297.17h0.6M361.92 292.6h0.6M362.01 297.89h0.6M360.95 298.58h0.6M354.14 290.27h0.6M353.01 290.54h0.6M346.48 290.47h0.6M365.44 308.32h0.6M360.24 307.61h0.6M356.55 288.08h0.6M336.09 312.17h0.6M345.74 284.71h0.6M355.28 308.18h0.6M340.94 291.21h0.6M358.16 309.05h0.6M343.57 311.33h0.6M360.12 291.22h0.6M358.87 297.62h0.6M353.77 311.53h0.6M341.54 290.36h0.6M331.68 303.8h0.6M331.15 302.82h0.6M360.32 294.28h0.6M363.27 302.52h0.6M358.02 286.97h0.6M365.77 300.07h0.6M362.32 300.58h0.6M360.38 311.93h0.6M360.68 304.27h0.6M360.74 303.01h0.6M349.73 313.12h0.6M357.14 307.73h0.6M352.14 289.87h0.6M358.76 295.5h0.6M372.35 304.27h0.6M354.06 310.56h0.6M336.78 309.54h0.6M343.34 314.82h0.6M332.27 296.71h0.6M350.18 312.6h0.6M347.22 311.36h0.6M345.29 313.18h0.6M344.21 289.59h0.6M362.86 290.89h0.6M332.01 305.86h0.6M359.6 298.53h0.6M356.88 292.12h0.6M355.85 312.81h0.6M361.59 296.64h0.6M361.53 288.15h0.6M348.96 311.86h0.6M359.97 296.58h0.6M360.76 302.19h0.6M354.26 309.47h0.6M354.66 284.69h0.6M360.59 302.22h0.6M359.32 307.25h0.6M328.62 302.78h0.6M355.04 314.62h0.6M359.78 300.44h0.6M353.48 291.17h0.6M338.91 289.45h0.6M363.71 300.62h0.6M332.73 289.63h0.6M353.66 292.17h0.6M361.19 304.77h0.6M359.83 300.9h0.6M362.27 305.69h0.6M347.16 314.94h0.6M357.92 306.55h0.6M351.68 313.63h0.6M363.71 303h0.6M351.72 313.95h0.6M364.17 300.65h0.6M349.65 311.88h0.6M344.17 288.65h0.6M358.3 294.64h0.6M345.73 282.91h0.6M337.8 287.11h0.6M361.87 294.7h0.6M355.64 289.56h0.6M331.93 294.19h0.6M357.46 308.01h0.6M361.95 292.18h0.6M331.31 307.25h0.6M352.67 289.9h0.6M347.97 286.15h0.6M359.32 297.36h0.6M348.19 288.92h0.6M361.14 300.15h0.6M365.74 299.11h0.6M363.65 307.6h0.6M351.07 311.97h0.6M334.7 307.99h0.6M361.63 297.49h0.6M356.6 291.35h0.6M359.01 317.93h0.6M345.81 290.6h0.6M362.63 298.62h0.6M334.25 293.13h0.6M361.67 285.88h0.6M347.59 311.68h0.6M359.06 303.95h0.6M360.48 295.41h0.6M360.25 298.4h0.6M348.29 312.95h0.6M357.95 311.42h0.6M361.68 301.79h0.6M353.03 291.92h0.6M340.65 311.96h0.6M349.71 310.68h0.6M333.47 307.05h0.6M360.02 294.43h0.6M361.71 304.13h0.6M349.62 285.27h0.6M358.92 292.72h0.6M353.15 292.59h0.6M353.14 310.65h0.6M362.91 300.46h0.6M359.65 299.65h0.6M353.39 285.39h0.6M363.46 303h0.6M355.68 310.26h0.6M353.23 291.32h0.6M359.39 298.64h0.6M351.67 292.11h0.6M337.14 289.85h0.6M350.83 286.77h0.6M357.68 293.75h0.6M344.67 321.49h0.6M357.89 308.17h0.6M356.49 289.87h0.6M342.8 284.6h0.6M363.84 300.79h0.6M335.27 309.6h0.6M349.72 287.97h0.6M358.88 306.62h0.6M326.31 299.55h0.6M355.16 309.1h0.6M356.94 309.27h0.6M340.17 289.27h0.6M342.33 290.7h0.6M354.07 292.93h0.6M358.77 305.03h0.6M341.69 314.07h0.6M343.34 313.66h0.6M358.37 306.62h0.6M357.22 291.39h0.6M334.99 294.32h0.6M333.32 306.71h0.6M360.78 306.43h0.6M352.62 310.05h0.6M348.39 314.05h0.6M332.32 305.52h0.6M333.63 291.96h0.6M358.83 297.32h0.6M357.05 294.64h0.6M356.83 295.36h0.6M354.93 290.63h0.6M346.15 311.38h0.6M341.95 311.37h0.6M361.33 302.35h0.6M359.86 298.15h0.6M361.84 297.77h0.6M348.68 312.56h0.6M330.24 303.25h0.6M358.09 307.22h0.6M333.92 293.18h0.6M357.55 293.53h0.6M348.82 287.37h0.6M344.03 312.79h0.6M357.68 293.46h0.6M358.8 297.26h0.6M351.86 315.41h0.6M334.3 292.82h0.6M362.03 295.68h0.6M352.1 310.57h0.6M336.45 292.22h0.6M362.06 303.03h0.6M356.7 292.44h0.6M358.16 297.19h0.6M362.09 290.85h0.6M337.14 288.06h0.6M358.12 291.22h0.6M356.7 289.11h0.6M361.86 299.81h0.6M331.03 291.95h0.6M332.49 306.45h0.6M353.47 288.86h0.6M337.21 310.08h0.6M347.57 290.04h0.6M355.23 287.59h0.6M357.96 297.08h0.6M341.69 287.27h0.6M351.1 291.96h0.6M363.37 305.36h0.6M360.03 306.86h0.6M341.12 315.53h0.6M359.51 300.37h0.6M343.8 312.96h0.6M356.2 290.41h0.6M351.63 310.79h0.6M353.65 292.05h0.6M361.71 304.64h0.6M362.67 300.8h0.6M354.14 292.93h0.6M354.57 309.53h0.6M359.44 305.32h0.6M361.14 296.71h0.6M341.32 290.52h0.6M348.39 288.47h0.6M360.21 298.87h0.6M351.72 310.98h0.6M359.33 299.1h0.6M356.26 289.9h0.6M350.27 311.69h0.6M360.26 301.25h0.6M345.6 290.08h0.6M362.78 305.77h0.6M357.82 307.92h0.6M352.29 290.68h0.6M357.53 293.99h0.6M363.13 294.47h0.6M360.88 298.78h0.6M363.54 298.64h0.6M345.88 291.14h0.6M359.33 310.77h0.6M348.85 287.2h0.6M347.01 311.14h0.6M348.59 289.23h0.6M346.33 290.68h0.6M356.36 289.76h0.6M360.21 304.61h0.6M333.41 312.7h0.6M349.01 312.35h0.6M351.46 314.67h0.6M330.92 296.69h0.6M331.49 296.39h0.6M361.99 298.6h0.6M361.36 298.88h0.6M357.54 294.59h0.6M366.07 298.25h0.6M361.31 292.68h0.6M358.68 306.43h0.6M344.33 290.41h0.6M327.29 293.72h0.6M360.81 303.67h0.6M351.23 289.01h0.6M339.13 290.07h0.6M359.19 313.11h0.6M352.31 310.43h0.6M360.16 299.08h0.6M360.51 303.32h0.6M329.64 297.37h0.6M365.45 303.4h0.6M331.87 304.89h0.6M360.41 299.76h0.6M357.71 296.18h0.6M354.37 310.72h0.6M360.32 293.93h0.6M356.95 293.02h0.6M329.8 300.03h0.6M339.58 291.95h0.6M335.9 309.39h0.6M351.59 290.58h0.6M358.42 307.18h0.6M358.49 294.9h0.6M355.8 291.76h0.6M330.21 298.47h0.6M337.75 311.71h0.6M350.04 316.15h0.6M358.03 296.71h0.6M349.71 288.61h0.6M360.69 309.01h0.6M343.71 311.57h0.6M329.62 304.58h0.6M342.08 290.11h0.6M369.9 298.94h0.6M351.23 312.1h0.6M366.82 302.29h0.6M361.24 297.29h0.6M330.34 300.57h0.6M331.99 294.16h0.6M341.7 290.71h0.6M343.19 289.44h0.6M342.03 290.67h0.6M361.78 299.23h0.6M361.51 293.52h0.6M331.74 296.35h0.6M362.81 307.09h0.6M365.82 294.06h0.6M356.99 306.68h0.6M359.72 298.82h0.6M360.19 304.18h0.6M360.4 302.51h0.6M362.26 301.61h0.6M356.09 294.26h0.6M360.62 305.65h0.6M347.99 311.03h0.6M361.71 298.7h0.6M356.65 293.18h0.6M338.95 290.57h0.6M346.08 289.51h0.6M359.82 308.42h0.6M360.01 313.15h0.6M338.87 313.14h0.6M353.04 288.95h0.6M359.08 290.17h0.6M336.17 289.04h0.6M362.42 302.28h0.6M360.31 298.31h0.6M342.14 288.58h0.6M363.25 309.99h0.6M358.7 308h0.6M349.37 312.79h0.6M333.9 293.67h0.6M354.16 315.34h0.6M362.12 298.77h0.6M355.87 292.93h0.6M351.88 292.03h0.6M361.65 304.39h0.6M362.5 304.81h0.6M363.71 303.97h0.6M357.37 311.03h0.6M351.39 291.9h0.6M332.13 292.58h0.6M346.11 289.09h0.6M357.76 307.35h0.6M360.1 290.43h0.6M346.16 284.69h0.6M350.48 291.67h0.6M340.24 311.91h0.6M339.64 310.81h0.6M357.46 293.85h0.6M352.88 309.86h0.6M358.65 306.06h0.6M331.99 294.85h0.6M357.48 296.34h0.6M329.86 302.91h0.6M363.02 302.76h0.6M362.92 301h0.6M360.13 297.53h0.6M361.83 309.4h0.6M332.46 296.57h0.6M361.2 305.95h0.6M343.54 290.08h0.6M361.42 304.07h0.6M341.57 290.4h0.6M360.84 308.72h0.6M354.73 290.21h0.6M345.16 282.17h0.6M354.69 291.26h0.6M357.66 294.48h0.6M340.49 291.25h0.6M329.87 305.34h0.6M357.41 288.9h0.6M359.47 302.96h0.6M357.07 295.31h0.6M341.06 289.38h0.6M356.81 315.09h0.6M358.99 299.1h0.6M358.3 287.17h0.6M360.13 305.82h0.6M353.06 290.1h0.6M336.53 292.23h0.6M356.59 291.85h0.6M359.22 296.41h0.6M362.84 295.13h0.6M349.56 288.96h0.6M356.82 306.89h0.6M354.84 309.61h0.6M362.42 305.11h0.6M347.33 291.21h0.6M330.92 295.36h0.6M355.52 312.56h0.6M348.41 290.5h0.6M345.93 316.85h0.6M362.63 301.79h0.6M361.5 302.49h0.6M352.65 289.93h0.6M330.9 284.91h0.6M364.14 296.59h0.6M347.55 313.11h0.6M353.8 310.88h0.6M359.37 296.75h0.6M352.6 309.82h0.6M354.71 288.89h0.6M352.75 290.9h0.6M335.24 293.91h0.6M334.4 292.69h0.6M358.39 316.28h0.6M353.86 291.58h0.6M358.21 309.15h0.6M337.56 291.98h0.6M349.25 312.07h0.6M331.37 291.98h0.6M337.35 290.31h0.6M358.56 295.97h0.6M344.47 316.81h0.6M360.48 298.55h0.6M363.24 304.75h0.6M359.7 288.86h0.6M334.17 293.95h0.6M355.21 293.74h0.6M352.81 285.47h0.6M329.15 310.02h0.6M356.05 290.89h0.6M343.88 312.31h0.6M354.87 309.16h0.6M358.97 304.48h0.6M337.49 309.8h0.6M359.04 303.73h0.6M360.59 301.94h0.6M365.68 313.21h0.6M355.28 310.17h0.6M354.22 291.8h0.6M353.95 310.27h0.6M364 300.92h0.6M331.87 307.67h0.6M353.81 309.78h0.6M355.21 288.3h0.6M341.63 291h0.6M358.93 305.14h0.6M355.13 292.92h0.6M358.77 298.16h0.6M354.83 292.13h0.6M354.79 290.53h0.6M353.4 310.21h0.6M363.9 291.37h0.6M347.15 287.71h0.6M361.06 292.01h0.6M324.64 290.12h0.6M342.54 285.88h0.6M340.88 286.16h0.6M356.65 291.79h0.6M362.32 296.01h0.6M342.45 290.82h0.6M347.58 312.28h0.6M360.93 303.49h0.6M356.54 294.86h0.6M339.83 311.97h0.6M363.54 308.7h0.6M359.57 298.3h0.6M348.44 291.14h0.6M353.7 309.39h0.6M352.41 289.76h0.6M354.17 308.97h0.6M342.88 311.96h0.6M335.34 310.19h0.6M338.27 291.02h0.6M361.32 297.85h0.6M338.46 292.11h0.6M363.38 301.87h0.6M330.65 316.67h0.6M340.71 290.35h0.6M350.26 286.98h0.6M338.55 287.79h0.6M357.32 295.3h0.6M351.37 292.15h0.6M366.71 292.77h0.6M337.64 289.48h0.6M361.06 307.71h0.6M358.35 304.76h0.6M326.96 295.46h0.6M360.64 306.21h0.6M336.89 292.08h0.6M361.61 301.35h0.6M359.8 306.14h0.6M361.64 297.25h0.6M361.51 310.1h0.6M359.57 303.5h0.6M336.85 292.85h0.6M360.99 302.29h0.6M356.22 287.55h0.6M354.98 292.17h0.6M357.92 294.86h0.6M360.64 301.52h0.6M353.09 311.63h0.6M351.6 286.26h0.6M361 307.29h0.6M346.87 311.15h0.6M337.94 310.91h0.6M359.59 303.34h0.6M346.22 285.64h0.6M359.12 302.4h0.6M363.44 313.46h0.6M334.56 291.61h0.6M354.95 291.3h0.6M358.1 314.15h0.6M354.9 311.31h0.6M354.48 291.4h0.6M330.23 304.58h0.6M342.43 311.22h0.6M360.04 304.12h0.6M354 291.06h0.6M332.07 307.73h0.6M353.75 288.08h0.6M354.08 310.79h0.6M355.91 310.99h0.6M361.19 298.76h0.6M360.31 292.74h0.6M362.05 299.36h0.6M358.35 305.9h0.6M360.89 308.87h0.6M354.37 290.23h0.6M331.66 297.42h0.6M357.45 306.24h0.6M360.35 303.3h0.6M343.46 312.78h0.6M358.16 294.88h0.6M364.6 316.91h0.6M362.64 307.51h0.6M331.58 295.66h0.6M345.52 289.23h0.6M353.08 292.35h0.6M360.11 303.1h0.6M348.04 288.66h0.6M355.74 308.78h0.6M358.9 294.37h0.6M356.96 289.87h0.6M356.38 308.56h0.6M359.52 299.82h0.6M367.84 303.91h0.6M332.08 291.58h0.6M339.16 311.05h0.6M353.77 311.08h0.6M358.31 295.08h0.6M361.69 302.82h0.6M351.27 283.99h0.6M355.03 308.58h0.6M353.48 290.09h0.6M355.48 310.02h0.6M359.61 296.64h0.6M357.44 306.13h0.6M359.45 295.59h0.6M353.83 310.81h0.6M336.02 293.49h0.6M346.7 291.1h0.6M345.16 289.14h0.6M361.27 298.01h0.6M360.55 313.15h0.6M341.49 289.35h0.6M339.76 310.54h0.6M350.96 290.91h0.6M360.5 306.24h0.6M352.38 290.59h0.6M360.1 294.98h0.6M332.89 310.18h0.6M353.45 311.19h0.6M359.17 305.21h0.6M331.56 297.38h0.6M337.19 284.02h0.6M361.36 298.37h0.6M328.55 300.87h0.6M329.71 310.02h0.6M332.56 293.61h0.6M345.19 290.01h0.6M336.23 290.98h0.6M340.97 291.06h0.6M348.22 285.65h0.6M360.5 294.58h0.6M360.68 297.41h0.6M354.4 291.04h0.6M359.65 304.52h0.6M344.44 314.16h0.6M360.17 299.26h0.6M363.96 298.71h0.6M357.06 295.41h0.6M354.29 291.02h0.6M329.03 308.34h0.6M355.64 308.55h0.6M359.93 301.08h0.6M338.23 289.21h0.6M355.66 312.48h0.6M356.26 290.54h0.6M328.05 295.35h0.6M349.39 282.47h0.6M356.12 307.54h0.6M354.8 291.51h0.6M355.99 294.74h0.6M345.18 291.09h0.6M353.17 288.2h0.6M329.7 306.73h0.6M358.55 296.23h0.6M361.23 302.11h0.6M361.21 300.81h0.6M348.55 311.91h0.6M351.45 310.62h0.6M354.68 311.67h0.6M352.13 287.47h0.6M359.97 292.3h0.6M357.05 294.21h0.6M356.6 310.27h0.6M360.69 298.86h0.6M331.41 303.21h0.6M362.01 300.4h0.6M359.3 303.2h0.6M352.57 290.92h0.6M364.47 302.52h0.6M351.24 289.69h0.6M342.14 291.23h0.6M350.53 310.55h0.6M355.19 290.92h0.6M339.62 289.52h0.6M365.29 303.41h0.6M361.5 301.24h0.6M350.33 312.22h0.6M361.41 293.39h0.6M363.39 309.36h0.6M360.19 305.41h0.6M371.68 310.35h0.6M350.33 291.88h0.6M360.27 303.2h0.6M355.18 312.49h0.6M347.45 288.59h0.6M360.74 296.82h0.6M349.47 283.88h0.6M333.92 308.7h0.6M329 301.05h0.6M355.18 310.21h0.6M359.18 307.98h0.6M347.06 311.23h0.6M359.61 294.94h0.6M350.79 291.53h0.6M364.45 298.42h0.6M350.98 291.83h0.6M362.13 294.2h0.6M346.46 312.05h0.6M358.76 306.02h0.6M337.97 310.55h0.6M351.18 290.47h0.6M342.47 290.46h0.6M350.46 289.41h0.6M358.52 296.89h0.6M333.2 306.99h0.6M354.75 293.24h0.6M336.68 291.73h0.6M359.52 294.1h0.6M359.2 298.75h0.6M366.71 295.07h0.6M357.9 306.58h0.6M358.44 306.62h0.6M352.89 313.3h0.6M357.98 309.62h0.6M370.86 293.79h0.6M351.38 312.38h0.6M344.35 311.93h0.6M329.98 295.55h0.6M363.99 314.09h0.6M355.37 287.54h0.6M361.95 301.62h0.6M354.99 291.8h0.6M362.28 301.45h0.6M353.15 311.32h0.6M330.18 302.07h0.6M341.53 311.41h0.6M362.65 298.22h0.6M363.55 310.1h0.6M343.53 289.92h0.6M345.85 311.62h0.6M355.72 291.74h0.6M361.72 307.99h0.6M364.12 305.71h0.6M359.22 299.13h0.6M360.23 303.31h0.6M356.19 294.6h0.6M348.84 312.29h0.6M359.47 282.03h0.6M354.18 292.55h0.6M347.01 282.25h0.6M337.65 291.33h0.6M349.09 312.41h0.6M352.07 313.95h0.6M344.17 289.69h0.6M349.78 290.25h0.6M357.54 308.99h0.6M337.07 288.07h0.6M348.15 313.18h0.6M358.03 310.76h0.6M350.55 311.97h0.6M351.05 313.32h0.6M360.27 303.18h0.6M350.71 283.83h0.6M361.12 297.44h0.6M336.9 291.44h0.6M359.04 303.93h0.6M349.69 313.86h0.6M333.25 294.03h0.6M355.46 309.83h0.6M361.54 300.26h0.6M358.11 296.09h0.6M364.12 313.52h0.6M371.46 308.88h0.6M342.82 291.01h0.6M356.27 312.5h0.6M343.04 290.55h0.6M350.95 313.51h0.6M330.36 303.6h0.6M346.75 290.09h0.6M331.25 296.61h0.6M331.4 294.63h0.6M358.07 294.7h0.6M349.85 310.84h0.6M344.32 311.29h0.6M358.94 296.62h0.6M336.53 318.4h0.6M360.75 301.11h0.6M354.16 309.33h0.6M355.46 291.95h0.6M327.76 298.44h0.6M346.71 311.55h0.6M341.22 287.66h0.6M350.44 311.66h0.6M344.06 289.7h0.6M337.67 288.31h0.6M359.12 290.22h0.6M358.52 297.15h0.6M360.53 305.24h0.6M355 293.43h0.6M362.61 303.83h0.6M358.3 306.4h0.6M360.39 305.23h0.6M357.03 291.31h0.6M353.11 310.97h0.6M360.14 301.17h0.6M364.23 299.22h0.6M357.33 307.36h0.6M337.76 290.59h0.6M332.28 305.43h0.6M361.29 301.5h0.6M360.05 298.61h0.6M359.79 292.51h0.6M358.19 296.78h0.6M329.85 292.55h0.6M345.53 290.81h0.6M346.96 312.13h0.6M350.97 311.94h0.6M354.79 293.86h0.6M339.31 311.69h0.6M350.54 311.71h0.6M363.19 295.03h0.6M342.38 313.11h0.6M359.84 291.82h0.6M327.89 296.51h0.6M362.77 308.88h0.6M339.04 291.56h0.6M362.23 299.51h0.6M360.04 301.18h0.6M359.16 296.56h0.6M360.8 301.94h0.6M359.97 304.04h0.6M342.81 281.15h0.6M360.55 305.65h0.6M357.98 312.79h0.6M349.4 314.89h0.6M356.84 309.65h0.6M356.23 293.14h0.6M353.64 289.84h0.6M341.83 291.19h0.6M358.97 298.53h0.6M359.49 301.54h0.6M359.35 294.26h0.6M343.91 311.57h0.6M359.78 304.87h0.6M353.74 293.24h0.6M332.1 296.23h0.6M360.16 295.41h0.6M362.02 302.03h0.6M341.01 310.93h0.6M360.99 303.32h0.6M356.46 290.72h0.6M359.15 302.1h0.6M341.26 288.23h0.6M359.5 308.32h0.6M341.7 286.79h0.6M362.27 298.2h0.6M360.52 309.88h0.6M364.25 312.63h0.6M346.6 311.65h0.6M337.39 291.99h0.6M370.43 301.21h0.6M350.39 285.91h0.6M353.03 310h0.6M356.72 310.85h0.6M341.06 290.78h0.6M335.4 309.78h0.6M359.66 308.05h0.6M361.31 291.49h0.6M360.05 308.14h0.6M357.22 309.36h0.6M352.5 290.76h0.6M362.81 307.91h0.6M345.66 311.67h0.6M340.02 310.96h0.6M334.86 288.86h0.6M341.03 290.58h0.6M342.56 289.88h0.6M339.06 291.68h0.6M348.4 287.82h0.6M336.05 277.57h0.6M344.39 259.89h0.6M348.95 291.55h0.6M335.83 285.88h0.6M341.59 250.16h0.6M340.06 263.11h0.6M326.25 289.97h0.6M346.31 278.53h0.6M344.51 291.1h0.6M329.87 259.77h0.6M346.98 279.61h0.6M354.94 289.02h0.6M335.73 291.03h0.6M332.15 276.76h0.6M347.18 291.18h0.6M346.15 250.32h0.6M350.48 290.22h0.6M340 282.63h0.6M340.89 287.6h0.6M339.19 269.94h0.6M339.92 283.15h0.6M344.82 244.98h0.6M343.24 287.79h0.6M340.34 291.35h0.6M343.1 270.61h0.6M344.69 286.59h0.6M358.15 249.59h0.6M333.83 289.16h0.6M341.78 285.84h0.6M346.95 287.22h0.6M343.13 287.67h0.6M351.78 291.17h0.6M332.58 262.61h0.6M334.49 242.47h0.6M338.77 282.13h0.6M350.47 279.07h0.6M335.9 278.48h0.6M345.1 280.71h0.6M351.43 290.07h0.6M339.28 252h0.6M352.74 275.31h0.6M347.35 283.31h0.6M353.83 279.46h0.6M335.63 291.99h0.6M337.03 273.4h0.6M338.35 286.75h0.6M337.19 251.9h0.6M355.04 287.22h0.6M329.76 290.19h0.6M346.75 248.15h0.6M342.88 286.01h0.6M344.71 239.45h0.6M350.35 291.02h0.6M347.34 243.46h0.6M349.11 261.12h0.6M346.74 274.65h0.6M331.83 287.56h0.6M343.42 290.72h0.6M351.01 290.91h0.6M350.52 287.87h0.6M329.97 289.34h0.6M344.22 288.07h0.6M345.66 290.02h0.6M336.91 291.6h0.6M338.61 288.41h0.6M345.21 278.66h0.6M325.46 285.49h0.6M342.58 265.78h0.6M346.31 272.53h0.6M342.88 283.37h0.6M353.38 289.4h0.6M331.13 265.11h0.6M338.3 291.16h0.6M332.88 288.03h0.6M348.7 276.28h0.6M344.72 274.15h0.6M347.43 289.12h0.6M340.73 288.88h0.6M337.77 290.86h0.6M348.34 288.94h0.6M348.43 280.88h0.6M347.27 283.78h0.6M342.93 286.98h0.6M356.79 286.99h0.6M346.9 290.83h0.6M338.11 248.35h0.6M339.13 287.76h0.6M337.33 253.73h0.6M344.99 250.9h0.6M350.8 288.61h0.6M347.48 247.66h0.6M342.17 286.61h0.6M354.72 292.12h0.6M348.39 289.5h0.6M345.77 282.88h0.6M350.01 289.97h0.6M351.26 281.88h0.6M346.75 240.76h0.6M344.67 290.04h0.6M343.45 284.5h0.6M346.6 277.35h0.6M348.22 290.6h0.6M335.37 277.69h0.6M333.09 253.68h0.6M342.89 289.24h0.6M332.64 290.53h0.6M342.33 291.41h0.6M332.48 291.32h0.6M332.07 290.9h0.6M339.1 283.41h0.6M340.82 284.17h0.6M345.37 287.65h0.6M339.75 281.52h0.6M344.61 289.85h0.6M334.98 242.29h0.6M339.65 250.24h0.6M347.58 279.1h0.6M342.29 264.43h0.6M337 283.18h0.6M335.19 289.25h0.6M346.76 290.8h0.6M332.61 246.99h0.6M337.71 288.06h0.6M351.88 290.75h0.6M346.9 271.24h0.6M352.56 291.88h0.6M340.04 282.62h0.6M346.13 253.55h0.6M346.99 291.27h0.6M339.13 282.65h0.6M332.16 291.9h0.6M329.18 290.25h0.6M340.74 286.34h0.6M338.04 281.4h0.6M343.51 286.97h0.6M333.38 284.48h0.6M342.82 290.88h0.6M339.79 291.16h0.6M337.27 281.01h0.6M346.95 288.38h0.6M334.53 280.48h0.6M350.49 286.26h0.6M331.25 272.31h0.6M344.84 288.59h0.6M359 283.87h0.6M353.93 243.66h0.6M360.35 278.43h0.6M346.89 291.33h0.6M338.73 280.34h0.6M335.16 291.99h0.6M358.72 262.06h0.6M347.25 258.99h0.6M361.98 254.07h0.6M347.95 282.45h0.6M356.11 275.81h0.6M336.94 273.88h0.6M335.25 291.9h0.6M340.04 274.8h0.6M323.88 267.64h0.6M347.62 275.21h0.6M350.22 288.51h0.6M341.35 291.65h0.6M344.2 253.3h0.6M352.06 270.93h0.6M348.23 288.65h0.6M337.57 279.3h0.6M353.19 290.83h0.6M338.38 291.71h0.6M344.71 284.75h0.6M350.39 260.65h0.6M337.39 285.48h0.6M348.01 289.18h0.6M343.13 285.69h0.6M333.41 244.36h0.6M347.56 290.6h0.6M343.23 290.51h0.6M339.55 285.05h0.6M342.1 282.5h0.6M343.36 291.18h0.6M345.62 284.73h0.6M336.12 278.46h0.6M348.29 292.06h0.6M343 290.33h0.6M350.77 243.45h0.6M350.21 246.47h0.6M334.3 258.36h0.6M348.55 267.5h0.6M343.35 290.74h0.6M341.94 253.18h0.6M329.9 256.34h0.6M336.49 272.05h0.6M348.98 285.13h0.6M336.73 243.84h0.6M341.77 291.6h0.6M342.09 292.1h0.6M327.05 288.7h0.6M351.57 266.14h0.6M342.51 266.12h0.6M345.31 263.15h0.6M326.13 274.16h0.6M349.74 288h0.6M354.74 287.26h0.6M346.04 284.56h0.6M334.79 272.91h0.6M347.02 287.64h0.6M341.6 278.25h0.6M338.87 290.76h0.6M325.65 279.37h0.6M335.26 287.52h0.6M342 289.78h0.6M345.73 287.89h0.6M335.15 258.85h0.6M341.42 288.56h0.6M344.46 275.6h0.6M360.47 264.91h0.6M348.75 291.78h0.6M337.9 240.95h0.6M353.23 288.3h0.6M345.02 273.59h0.6M348.06 259.71h0.6M344.07 292.08h0.6M358.9 243.66h0.6M357.87 261.84h0.6M342.6 288.15h0.6M354.08 251.35h0.6M341.05 284.59h0.6M352.3 267.75h0.6M345.44 290.78h0.6M338.4 289.75h0.6M344.89 273.44h0.6M344.54 287.65h0.6M345.25 291.62h0.6M352.71 288.25h0.6M334.44 262.35h0.6M349.65 265.19h0.6M356.05 282.43h0.6M336.57 290.01h0.6M329.25 276.04h0.6M343.7 247.68h0.6M331.93 276.5h0.6M336.08 287.34h0.6M348.98 287.19h0.6M349.55 291.75h0.6M338.1 273.74h0.6M341.41 291.9h0.6M346.59 277.48h0.6M351.46 271.02h0.6M341.35 271.62h0.6M343.87 292.15h0.6M335.35 288.13h0.6M329.56 289.24h0.6M343.57 285.71h0.6M346.81 283.6h0.6M351.73 246.38h0.6M343.11 283.87h0.6M349.92 284.88h0.6M339.87 289.81h0.6M349.82 260.54h0.6M347.74 288.02h0.6M337.83 277.15h0.6M348.96 287.84h0.6M332.61 275.96h0.6M347.91 273.66h0.6M333.11 260.24h0.6M345.8 291.42h0.6M330.64 254.33h0.6M339.98 245.71h0.6M345.09 275.62h0.6M333.84 287.5h0.6M343.16 287.29h0.6M346.03 289.41h0.6M336.58 283.26h0.6M340.95 291.73h0.6M339.03 283.3h0.6M327.89 288.16h0.6M345.02 273.65h0.6M347.39 257.97h0.6M337.3 286.16h0.6M335.16 290.68h0.6M347.39 288.4h0.6M341.23 282.17h0.6M344.77 289.54h0.6M340.45 269.24h0.6M345.17 287.56h0.6M338.13 284.4h0.6M346.1 246.11h0.6M342.03 262.15h0.6M341.95 283.65h0.6M334.72 261.95h0.6M342.03 290.35h0.6M332.86 264.74h0.6M345.5 290.94h0.6M346.12 274.77h0.6M341.51 290.15h0.6M346.36 285.35h0.6M339.04 290.7h0.6M338.24 279.75h0.6M344.61 280.45h0.6M336 271.02h0.6M354.75 255.03h0.6M351.22 292.19h0.6M331.73 286.35h0.6M334.55 287.96h0.6M343.84 281.35h0.6M334.56 291.77h0.6M341.88 288.99h0.6M342.87 276.02h0.6M335.07 277.8h0.6M336.11 285.64h0.6M354.44 287.86h0.6M356.05 286.75h0.6M350.62 263.76h0.6M349.87 289.5h0.6M342.76 268.13h0.6M335.24 291.62h0.6M339.87 284.76h0.6M336.92 245.29h0.6M345.11 275.71h0.6M351.24 288.61h0.6M346.45 290.34h0.6M333.84 285.59h0.6M342.3 277.35h0.6M346.06 281.23h0.6M338.37 285.82h0.6M335.92 288.62h0.6M339.02 282.34h0.6M350.09 270.99h0.6M347.44 240.39h0.6M343.05 292.08h0.6M345.35 270.65h0.6M340.9 267.53h0.6M333.48 290.83h0.6M345.27 290.94h0.6M342.86 289.94h0.6M341.52 244.93h0.6M335.88 273.82h0.6M350.24 250.88h0.6M330.02 290.83h0.6M341.11 288.26h0.6M349.59 278.82h0.6M351.18 259.65h0.6M350.06 283.25h0.6M348.31 291.12h0.6M359.26 281.93h0.6M340.32 287.04h0.6M338.93 279.29h0.6M345.19 268.57h0.6M359.68 263.47h0.6M338.4 277.87h0.6M344.65 277.96h0.6M336.12 290.08h0.6M339.55 289.03h0.6M326.6 273.12h0.6M320.16 268.22h0.6M342.94 286.8h0.6M341.92 292.19h0.6M344.95 276.84h0.6M336.48 289.86h0.6M346.1 263.97h0.6M342.44 292.01h0.6M352.94 291.57h0.6M337.47 276.53h0.6M334.52 287.57h0.6M350.41 291.52h0.6M349.73 286.94h0.6M340.81 249.16h0.6M346.36 280.52h0.6M344.33 287.71h0.6M351.78 274.45h0.6M351.51 282.92h0.6M347.3 287.64h0.6M350.68 286.44h0.6M342.79 289.46h0.6M346.87 287.35h0.6M343.13 290.01h0.6M343.55 257.06h0.6M345.31 285.3h0.6M344.24 286.06h0.6M336.66 287.03h0.6M339.68 250.04h0.6M356.18 246.58h0.6M342.93 289.36h0.6M339.65 271.16h0.6M338.45 289.21h0.6M348.88 288.68h0.6M340.67 261.93h0.6M344.74 259.92h0.6M339.99 268.4h0.6M343.79 288.65h0.6M356.42 279.3h0.6M348.09 287.66h0.6M349.06 279.41h0.6M346.48 264.12h0.6M341.24 287.94h0.6M340.04 290.81h0.6M349.72 249.13h0.6M342.7 276.5h0.6M347.91 288.78h0.6M336.93 281.87h0.6M341.88 281.5h0.6M352.6 281.8h0.6M340.85 261.24h0.6M342.56 250.48h0.6M358.95 287.18h0.6M333.81 290.88h0.6M352.45 258.12h0.6M348.74 291.77h0.6M342.56 250.81h0.6M331.5 292.16h0.6M341.38 285.32h0.6M350.39 253.44h0.6M355.72 282.76h0.6M329 254.54h0.6M338.15 256.98h0.6M347.79 291.73h0.6M344.44 287.5h0.6M339.18 273.33h0.6M325.57 285.52h0.6M341.62 281.55h0.6M344.82 251.79h0.6M345.18 276.23h0.6M343.29 245.27h0.6M338.46 288.14h0.6M351.3 282.98h0.6M337.65 277.47h0.6M328.5 268.33h0.6M339.11 252.97h0.6M338.81 291.49h0.6M342.96 283.99h0.6M353.43 291.46h0.6M349.44 284.41h0.6M342.84 290.84h0.6M335.82 285.93h0.6M344.67 291.91h0.6M349.13 285.73h0.6M335.39 239.54h0.6M348.07 270.65h0.6M339.33 285.67h0.6M336.2 285.27h0.6M340.52 286.1h0.6M332.55 250.63h0.6M342.68 280.68h0.6M334.93 242.65h0.6M331.73 291.38h0.6M337.5 271.97h0.6M333.76 287.18h0.6M352.83 286.82h0.6M333.45 290.03h0.6M341.31 290.5h0.6M341.77 247.72h0.6M329.49 239.78h0.6M340.88 269.14h0.6M326.51 285.07h0.6M330.33 289.96h0.6M348.05 278.38h0.6M339.23 283.17h0.6M331.57 284.85h0.6M344.51 289.2h0.6M343.89 290.47h0.6M340.91 241.9h0.6M338.87 289.92h0.6M345.71 291.07h0.6M346.92 272.13h0.6M339.12 291.35h0.6M341.67 283.44h0.6M334.5 250.77h0.6M349.89 290.62h0.6M344.31 254.2h0.6M351.46 290.09h0.6M343.48 291.54h0.6M349.03 241.16h0.6M334.73 245.33h0.6M334.97 290.65h0.6M338.64 276.98h0.6M327.58 261.31h0.6M337.01 291.78h0.6M338.48 291.7h0.6M336.93 291.27h0.6M344.15 289h0.6M330.22 277.87h0.6M338.37 289.61h0.6M336.77 278.78h0.6M334.66 285.35h0.6M341.48 289.46h0.6M344.44 291.07h0.6M335.97 255.52h0.6M338.99 247.59h0.6M338.77 252.48h0.6M342.08 281.04h0.6M340.33 267.37h0.6M338.13 287.28h0.6M355.33 263.26h0.6M334.69 264.94h0.6M341.86 283.87h0.6M350.05 265.3h0.6M340.66 291.09h0.6M347.44 289.49h0.6M337.94 286.6h0.6M352.59 265.76h0.6M336.25 248.88h0.6M337.69 283.83h0.6M348.18 285.93h0.6M339.8 286.58h0.6M337.11 288.25h0.6M354.39 249.29h0.6M351.29 255.61h0.6M353.04 291.7h0.6M335.38 288.62h0.6M341.42 291.5h0.6M347.64 287.27h0.6M345.11 291.11h0.6M337.3 268.61h0.6M341.52 286.74h0.6M334.02 290.12h0.6M334.7 281.96h0.6M342.01 289.41h0.6M331.25 284.07h0.6M344.78 248.17h0.6M338.37 282.72h0.6M340.08 287.07h0.6M344.65 291.81h0.6M343.54 291.9h0.6M348.83 249.08h0.6M345.58 260.15h0.6M345.39 278.25h0.6M347.28 279.59h0.6M336.05 286.55h0.6M339.96 292.01h0.6M340.64 278.01h0.6M348.28 276.8h0.6M345.34 265.06h0.6M337.45 288.78h0.6M352.44 286.28h0.6M343.94 291.54h0.6M338.5 257.15h0.6M340.72 280.75h0.6M350.3 274.39h0.6M329.69 285.24h0.6M340.98 291.2h0.6M333.12 247.37h0.6M341.68 278.77h0.6M331.87 284.19h0.6M335.61 291.32h0.6M332.04 277.95h0.6M344.58 290.27h0.6M346.34 286.46h0.6M336.96 264.95h0.6M349.49 264.9h0.6M340.78 288.23h0.6M337.99 267.42h0.6M349.48 291.93h0.6M329.73 286.79h0.6M340.71 291.72h0.6M347.74 255.53h0.6M349.21 272.18h0.6M347.8 281.39h0.6M340.84 287.83h0.6M335.91 246.02h0.6M335.82 289.71h0.6M336.39 255.48h0.6M343.95 265.46h0.6M333.4 254.08h0.6M345.2 288.14h0.6M355.63 290.34h0.6M333.16 281.45h0.6M332.22 285.52h0.6M340.18 290.38h0.6M338.22 291.06h0.6M330.58 289.1h0.6M336.3 254.44h0.6M343.29 285.69h0.6M360.65 269.59h0.6M347.34 262.16h0.6M331.88 242.57h0.6M343.43 287h0.6M353.01 257.16h0.6M343.52 271.37h0.6M342.06 263.77h0.6M336.6 267.14h0.6M348.38 286.55h0.6M334.95 280.33h0.6M343.46 241.57h0.6M344.88 283.41h0.6M346.07 288.16h0.6M342.82 255.77h0.6M344.29 279.91h0.6M339.73 279.77h0.6M337.43 283.82h0.6M342.5 291.68h0.6M353.76 264.51h0.6M338.01 263.65h0.6M338.46 287.39h0.6M351.22 285.24h0.6M335.3 280.08h0.6M343.78 272.42h0.6M330.42 290.89h0.6M345.18 290.09h0.6M341.14 276.47h0.6M343.17 260.27h0.6M345.14 273.83h0.6M345.25 248.48h0.6M335.76 266.65h0.6M339.04 283.47h0.6M351.83 281.87h0.6M346.3 264.65h0.6M341.1 280.34h0.6M340.79 257.56h0.6M343.33 288.96h0.6M335.91 247.51h0.6M351.23 281.69h0.6M342.41 275.39h0.6M345.75 243.05h0.6M348.12 292.03h0.6M339.78 273.67h0.6M346.31 276.35h0.6M354.42 290.24h0.6M343.03 278.1h0.6M342.12 289.58h0.6M337.03 272.84h0.6M338.71 289.14h0.6M348.75 242.69h0.6M339.49 290.84h0.6M345.01 288.16h0.6M348.29 286.3h0.6M328.77 292.08h0.6M335.3 291.4h0.6M357.24 285.6h0.6M346.45 290.92h0.6M360.86 286.3h0.6M355.83 282.45h0.6M346.07 255.43h0.6M341.87 273.26h0.6M339 277.27h0.6M337.1 243.42h0.6M348.09 284.97h0.6M343.15 264.28h0.6M343.13 288.33h0.6M336.24 290.25h0.6M330.46 278.18h0.6M332.61 290.07h0.6M325.93 284.85h0.6M355.28 287.92h0.6M338.74 280.57h0.6M341.85 276.16h0.6M336.89 281.88h0.6M347.57 291.19h0.6M336.47 288.74h0.6M347.67 240.15h0.6M330.37 291.67h0.6M337.78 283.32h0.6M337.61 290.88h0.6M342.68 291.36h0.6M348.09 256.21h0.6M345.7 253.25h0.6M340 290.86h0.6M343.63 268.16h0.6M334.09 277.46h0.6M354.78 279.94h0.6M339.99 291.68h0.6M340.81 278.2h0.6M351.91 287.46h0.6M333.55 247.12h0.6M335.55 290.46h0.6M337.17 268.05h0.6M346.18 275.33h0.6M342.72 247.43h0.6M339.3 289.62h0.6M347.38 275.01h0.6M336.98 288.57h0.6M343.2 261.73h0.6M345.48 289.24h0.6M330.48 284.44h0.6M329.51 282.94h0.6M352.91 290.65h0.6M343.96 284.34h0.6M346.1 283.68h0.6M350.34 289.73h0.6M338.32 291.19h0.6M333.76 290.06h0.6M347.83 288.43h0.6M343 284.46h0.6M335.96 276.54h0.6M339.77 285.59h0.6M342.37 286.96h0.6M338.41 272.74h0.6M338.92 243.61h0.6M346.92 276.66h0.6M339.07 290.27h0.6M349.28 240.18h0.6M344.27 289.84h0.6M344.48 248.41h0.6M353.46 291.23h0.6M338.96 276.08h0.6M329.03 278.99h0.6M340.79 290.15h0.6M349.46 315.4h0.6M346.13 322.38h0.6M354.64 314.46h0.6M351.8 316.04h0.6M347.63 315.96h0.6M348.57 311.27h0.6M346.52 316.62h0.6M336.57 314.72h0.6M342.35 316.65h0.6M332.96 316.61h0.6M359.4 312.02h0.6M332.88 316.49h0.6M369.8 313.1h0.6M349.76 315.31h0.6M346.05 317.42h0.6M345.84 315.46h0.6M343.3 313.16h0.6M349.23 315.35h0.6M348.69 321.87h0.6M342.38 312.02h0.6M352.58 316.85h0.6M345.82 312.77h0.6M345.41 315.81h0.6M351.01 322.15h0.6M351.83 313.64h0.6M334.93 319.9h0.6M345.31 315.74h0.6M350.68 317.79h0.6M344.15 315.96h0.6M336.58 311.25h0.6" stroke="#111" stroke-width="0.6" fill="none" opacity="0.85"/>
<ellipse cx="345.2" cy="301.2" rx="14" ry="10" fill="url(#blob)" stroke="#222" stroke-width="0.9" stroke-opacity="0.6"/>
<ellipse cx="345.2" cy="301.2" rx="12.9" ry="8.9" fill="none" stroke="#fff" stroke-width="0.8" opacity="0.9"/>
<ellipse cx="344.58" cy="301.4" rx="11.2" ry="8" fill="none" stroke="#555" stroke-width="0.3" opacity="0.55"/>
<ellipse cx="344.21" cy="301.52" rx="9.52" ry="6.8" fill="none" stroke="#fff" stroke-width="0.3" opacity="0.6"/>
<ellipse cx="343.84" cy="301.64" rx="7.84" ry="5.6" fill="none" stroke="#555" stroke-width="0.3" opacity="0.55"/>
<ellipse cx="343.48" cy="301.76" rx="6.16" ry="4.4" fill="none" stroke="#fff" stroke-width="0.3" opacity="0.6"/>
<ellipse cx="343.11" cy="301.88" rx="4.48" ry="3.2" fill="none" stroke="#555" stroke-width="0.3" opacity="0.5"/>
<ellipse cx="342.74" cy="302" rx="2.8" ry="2" fill="none" stroke="#fff" stroke-width="0.3" opacity="0.7"/>
<ellipse cx="343.24" cy="302.2" rx="1.82" ry="0.55" fill="#fff" opacity="0.95"/>
<rect x="328.8" y="238.4" width="53.4" height="56" fill="none" stroke="#333" stroke-width="0.75"/>
<rect x="336.4" y="255.4" width="19.6" height="18.4" fill="#fff" opacity="0.8"/>
<text x="346.2" y="263.9" font-size="6.8" text-anchor="middle" font-weight="bold" fill="#000" stroke="#000" stroke-width="0.25">Th17</text>
<text x="346.2" y="274.6" font-size="6.8" text-anchor="middle" font-weight="bold" fill="#000" stroke="#000" stroke-width="0.25">7.84</text>
<line x1="295.2" y1="262.3" x2="298" y2="262.3" stroke="#222" stroke-width="0.7"/>
<line x1="295.2" y1="306" x2="298" y2="306" stroke="#222" stroke-width="0.7"/>
<path d="M296.6 244h1.4M296.6 248.5h1.4M296.6 252h1.4M296.6 255h1.4M296.6 258h1.4M296.6 272h1.4M296.6 279h1.4M296.6 285h1.4M296.6 290h1.4M296.6 294h1.4M296.6 297h1.4M296.6 299.5h1.4M296.6 311.5h1.4M296.6 314h1.4M296.6 317h1.4M296.6 321h1.4M296.6 327h1.4M296.6 333h1.4" stroke="#555" stroke-width="0.45" fill="none"/>
<rect x="296.2" y="303.0" width="1.8" height="5.6" fill="#222"/>
<line x1="322.7" y1="339.6" x2="322.7" y2="342.4" stroke="#222" stroke-width="0.7"/>
<line x1="366.8" y1="339.6" x2="366.8" y2="342.4" stroke="#222" stroke-width="0.7"/>
<path d="M302 341v-1.4M307 341v-1.4M311 341v-1.4M314 341v-1.4M331 341v-1.4M334 341v-1.4M338 341v-1.4M343 341v-1.4M349 341v-1.4M355 341v-1.4M360 341v-1.4M363.5 341v-1.4M375 341v-1.4M382 341v-1.4M387 341v-1.4M391 341v-1.4M394.5 341v-1.4M397.5 341v-1.4" stroke="#555" stroke-width="0.45" fill="none"/>
<rect x="316.6" y="339.6" width="11.5" height="1.6" fill="#222"/>
<text x="322.7" y="352.8" font-size="5" text-anchor="middle" font-weight="bold" fill="#111">0</text>
<text x="367.2" y="353.0" font-size="5" font-weight="bold" text-anchor="middle" fill="#111">10<tspan dy="-3.0" font-size="4.6">3</tspan></text>
<text x="288.6" y="307.8" font-size="5" text-anchor="middle" font-weight="bold" fill="#111">0</text>
<text x="289.4" y="264.8" font-size="5" font-weight="bold" text-anchor="middle" fill="#111">10<tspan dy="-3.0" font-size="4.6">3</tspan></text>
</g>
<text x="470.2" y="226.2" font-size="10.6" text-anchor="middle" fill="#1a1a1a">0.5</text>
<g>
<rect x="419.4" y="238.4" width="104.6" height="101.2" fill="#fff" stroke="#3c3c3c" stroke-width="0.85"/>
<path d="M484.19 301.98h0.6M477.04 313.76h0.6M483.82 307.51h0.6M464.14 313.72h0.6M483.51 308.34h0.6M486.3 298.49h0.6M477.51 287.25h0.6M488.26 297.05h0.6M489.94 305.29h0.6M479.49 290.76h0.6M457.06 293.44h0.6M464.56 289.31h0.6M469.66 313.27h0.6M464.61 289.9h0.6M481.36 283.02h0.6M464.12 288.41h0.6M485.83 304.75h0.6M482.7 295.4h0.6M452.77 308.23h0.6M467.71 290.49h0.6M463.94 312.75h0.6M471.1 313.3h0.6M466.72 287.86h0.6M485.56 304.63h0.6M480.17 292.83h0.6M484.84 295.92h0.6M461.6 289.03h0.6M453.09 296.49h0.6M483.43 310.48h0.6M484.96 308.53h0.6M456.95 291.71h0.6M462.49 290.78h0.6M483.85 299.22h0.6M479.64 309.68h0.6M484.39 305.43h0.6M479.83 289.78h0.6M473.76 315.64h0.6M492.95 285.11h0.6M484.15 305.51h0.6M478.52 313.15h0.6M472.6 315.84h0.6M478.49 310.13h0.6M466.84 290.43h0.6M473.33 291.11h0.6M486.47 304.35h0.6M484.69 300.99h0.6M469.31 290.25h0.6M486.24 308.4h0.6M477.2 310.89h0.6M479.63 293.71h0.6M471.98 312.6h0.6M475.24 312.04h0.6M472.96 287.48h0.6M469.17 287.1h0.6M485.17 297h0.6M470.07 288.71h0.6M475.38 289.99h0.6M485.73 300.31h0.6M479.66 311.96h0.6M463.65 316.8h0.6M472.01 284.97h0.6M485.06 301.77h0.6M453.1 296.84h0.6M491.13 295.49h0.6M463.21 312.86h0.6M487.41 301.32h0.6M481.61 321.1h0.6M467.09 290.32h0.6M461.64 290.57h0.6M476.75 311.14h0.6M484.21 309.42h0.6M482.98 294.92h0.6M476.81 314.62h0.6M472.99 288.67h0.6M484.34 303.39h0.6M470.09 313.98h0.6M474.95 287.62h0.6M484.8 305.08h0.6M485.13 295.33h0.6M484.47 304.94h0.6M447.2 292.19h0.6M456.28 293.23h0.6M473.59 289.39h0.6M480.58 290.48h0.6M487.97 293.65h0.6M458.86 313.44h0.6M468.69 286.87h0.6M486.67 296.99h0.6M466.06 312.94h0.6M485.83 295.49h0.6M482.21 295.28h0.6M484.45 304.58h0.6M473.93 312.16h0.6M483.36 296.98h0.6M466.74 286.03h0.6M476.67 291.94h0.6M484.53 295.54h0.6M485.26 305.17h0.6M482.42 293.13h0.6M468.3 316.91h0.6M468.29 285.7h0.6M466.34 289.88h0.6M473.54 290.9h0.6M478.43 288.24h0.6M478.73 291.28h0.6M471.54 289.48h0.6M454.44 296.03h0.6M489.3 300.53h0.6M449.95 301.18h0.6M456.56 293.78h0.6M482.05 310.61h0.6M488.07 297.52h0.6M486.21 296.85h0.6M492.39 309.66h0.6M483.61 307.17h0.6M480.08 310.96h0.6M487.62 298.43h0.6M484.94 301.26h0.6M486.62 302.65h0.6M475.17 289.07h0.6M466.12 313.83h0.6M480.55 292.43h0.6M484.75 303.79h0.6M458.05 312.03h0.6M485.09 301.41h0.6M485.59 319.24h0.6M465.62 289.29h0.6M485.89 299.33h0.6M474.22 312.09h0.6M486.25 292.09h0.6M488.23 299.51h0.6M483.96 286.51h0.6M485.7 303.84h0.6M455.61 310.37h0.6M462.14 289.94h0.6M475.21 291.61h0.6M466.56 286.17h0.6M483.64 290.26h0.6M463.19 289.83h0.6M480.96 294.16h0.6M485.08 305.32h0.6M474.42 290.49h0.6M478.55 312.78h0.6M459.1 292.55h0.6M468.21 312.95h0.6M484.3 300.79h0.6M488.64 310.07h0.6M472.88 313.44h0.6M476.07 287.27h0.6M459.76 290.35h0.6M484.76 311.76h0.6M479.5 311.91h0.6M476.56 310.96h0.6M479.73 290.12h0.6M480.05 293.14h0.6M485.3 296.08h0.6M481.12 315.11h0.6M481.73 292.68h0.6M483.65 297.06h0.6M482.99 306.49h0.6M479.12 289.15h0.6M470.02 290.49h0.6M451.54 304.72h0.6M487.61 301.22h0.6M489.64 298.61h0.6M456.54 293.57h0.6M477.21 310.91h0.6M474.06 288.05h0.6M479.72 310.17h0.6M484.19 303.45h0.6M463.01 313.47h0.6M484.3 297.6h0.6M457.53 291.89h0.6M456.38 290.66h0.6M461.81 290.76h0.6M487.02 309.87h0.6M459.35 310.88h0.6M464.06 290.2h0.6M480.84 291.2h0.6M482.87 293.01h0.6M462.19 290.06h0.6M466.62 289.51h0.6M472.12 314.9h0.6M484.49 299.33h0.6M478.19 311.73h0.6M482.01 307.32h0.6M476.94 291.55h0.6M472.74 314.1h0.6M480.21 293.16h0.6M451.07 292.23h0.6M459.72 292.02h0.6M486.28 307.27h0.6M482.63 293.78h0.6M494.56 311.64h0.6M484.95 308.41h0.6M487.3 297.91h0.6M487.97 291.12h0.6M485.65 289.99h0.6M483.64 293.44h0.6M483.68 308.6h0.6M477.78 292.12h0.6M479.1 288.96h0.6M483.37 297.19h0.6M458.03 292.28h0.6M483.94 299.96h0.6M482.84 293.15h0.6M482.33 288.22h0.6M475.9 289.38h0.6M480.4 312.63h0.6M486.84 299.22h0.6M466.98 290.4h0.6M457.27 311.76h0.6M485.28 299.92h0.6M475.49 311.61h0.6M476.27 311.48h0.6M460.41 290.35h0.6M485.38 298.16h0.6M483.21 292.97h0.6M485.69 301.11h0.6M485.96 299.9h0.6M480.89 312.24h0.6M479.65 309.6h0.6M488.01 298.51h0.6M490.21 302.58h0.6M477.86 291.78h0.6M467.54 288.46h0.6M487.99 299.94h0.6M484.05 297.08h0.6M474.95 288.8h0.6M457.28 314.41h0.6M470.29 288.11h0.6M474.64 288.78h0.6M484.08 300.81h0.6M477.82 288.83h0.6M480.1 311.23h0.6M484.86 302.64h0.6M466.46 289.25h0.6M464.87 313.41h0.6M478.92 309.58h0.6M460.03 291.69h0.6M483.17 292.53h0.6M466.63 289.88h0.6M477.21 313.78h0.6M477.49 292.65h0.6M479.06 290.64h0.6M482.28 308.84h0.6M481.58 294.59h0.6M482.29 309.86h0.6M477.81 290.79h0.6M473.7 312.18h0.6M478.53 289.6h0.6M451.56 298.55h0.6M484.27 301.69h0.6M480.15 293.17h0.6M486.62 299.17h0.6M477.41 288.25h0.6M483.02 308.01h0.6M470.71 282.36h0.6M484.23 294.75h0.6M465.61 289.09h0.6M462.94 291.13h0.6M469.07 316.24h0.6M479.53 291.99h0.6M474.65 291.55h0.6M485.7 302.58h0.6M489.62 299.23h0.6M455.97 288.42h0.6M481.24 290.05h0.6M475.79 311.54h0.6M456.63 292.27h0.6M490.05 304.01h0.6M467.8 315.33h0.6M471.66 313.49h0.6M458.88 311.97h0.6M482.1 291.81h0.6M482.12 310.36h0.6M476.97 289.95h0.6M467.27 289.74h0.6M480.82 289.92h0.6M487.72 307.6h0.6M451.89 300.09h0.6M472.73 290.74h0.6M459.97 315.19h0.6M485.32 311.51h0.6M475.73 281.76h0.6M460.88 289.7h0.6M487.71 303.99h0.6M464.61 288.39h0.6M472.31 312.24h0.6M479.89 293.52h0.6M474.72 280.48h0.6M473.32 290.05h0.6M456.42 293.86h0.6M466.12 314.53h0.6M484.69 303.59h0.6M455.96 293.98h0.6M467.4 289.94h0.6M482.42 292.67h0.6M454.31 288.93h0.6M479.98 292.55h0.6M465.29 289.7h0.6M480.17 290.85h0.6M471.64 314.43h0.6M468.65 289.78h0.6M466.05 289.39h0.6M458.44 291.3h0.6M477.22 289.17h0.6M474.67 312.37h0.6M486.5 303.93h0.6M459.09 289.9h0.6M483.54 294.96h0.6M470.04 288.99h0.6M479.08 312.57h0.6M487.25 307.14h0.6M452.02 296.47h0.6M463.73 289.39h0.6M472.64 287.17h0.6M471.04 313.44h0.6M478.79 310.44h0.6M464.19 289.72h0.6M487.53 305.36h0.6M472.81 314.95h0.6M482.53 294.91h0.6M473.35 288.03h0.6M474.87 290.64h0.6M456.12 293.7h0.6M481.79 294.98h0.6M483.02 306.5h0.6M460.41 288.68h0.6M485.44 301.67h0.6M484.92 303.5h0.6M488.69 301.53h0.6M452.57 296.86h0.6M474.4 291.12h0.6M481.68 294.82h0.6M485.9 306.4h0.6M485.14 298.15h0.6M465.21 289.64h0.6M488.17 298.87h0.6M480.94 312.17h0.6M479.28 292.95h0.6M463.42 312.63h0.6M479.79 292.88h0.6M475.29 313.23h0.6M456.89 293.36h0.6M455.42 291.47h0.6M457.5 292.46h0.6M463.72 288.79h0.6M487.27 298.91h0.6M478.85 309.62h0.6M471.31 313.55h0.6M451.55 300.39h0.6M485.3 299.83h0.6M471.88 288.19h0.6M443.79 293.7h0.6M456.97 288.29h0.6M482.42 296.61h0.6M487.04 308.27h0.6M477.32 316.32h0.6M470.82 313.64h0.6M459.06 289.72h0.6M463.82 313.26h0.6M466.42 313.56h0.6M456.39 293.8h0.6M483.78 298.23h0.6M486.62 301.69h0.6M469.1 289.44h0.6M474.27 311.95h0.6M468.42 290.04h0.6M489.28 296.35h0.6M455.23 307.96h0.6M451.81 306.63h0.6M466.22 315.78h0.6M464.04 290.09h0.6M461.98 290.16h0.6M495.07 298.76h0.6M466.01 289.71h0.6M465.54 290.56h0.6M460.97 288.56h0.6M481.82 295.52h0.6M484.62 296.8h0.6M464.71 314.82h0.6M484.08 314.82h0.6M483.85 309.56h0.6M457.53 291.99h0.6M467.9 288.91h0.6M483.12 295.08h0.6M487.34 295.63h0.6M455.89 291.39h0.6M482.37 309.03h0.6M487.28 297.53h0.6M465.22 290.71h0.6M459.02 292.5h0.6M483.66 316.75h0.6M484.74 305.73h0.6M481.13 310.4h0.6M484.98 303.81h0.6M460.78 288.97h0.6M470.86 289.63h0.6M473.76 312.48h0.6M459.15 289.27h0.6M477.25 292.13h0.6M484.49 312.56h0.6M458.87 291.06h0.6M485.1 309.31h0.6M482.04 309.02h0.6M472.85 288.93h0.6M488.06 298.99h0.6M472.2 283.39h0.6M486.88 294.74h0.6M484.27 295.34h0.6M476.56 291.47h0.6M472.69 290.5h0.6M463.56 290.57h0.6M471.84 290.26h0.6M485.88 296.07h0.6M477.91 311.39h0.6M483.84 305.26h0.6M484.17 306.32h0.6M485.5 292.32h0.6M485.43 302.91h0.6M480.75 292.56h0.6M459.97 290.89h0.6M481.77 295.02h0.6M471.01 312.89h0.6M465.1 289.48h0.6M451.18 292.3h0.6M487.95 303.97h0.6M457.7 312.9h0.6M461.35 313.81h0.6M453.66 313.83h0.6M489.58 314.54h0.6M487.67 299.82h0.6M485.69 306.76h0.6M482.23 308.71h0.6M452.47 308.21h0.6M485.08 302.07h0.6M490.11 295.62h0.6M452.48 289.28h0.6M469.29 285.48h0.6M477.24 290.48h0.6M484.61 300.52h0.6M482.71 294.17h0.6M464.1 312.45h0.6M469 289.09h0.6M485.38 299.75h0.6M483.83 299.88h0.6M480.84 310.17h0.6M473.97 312.08h0.6M482.6 295.69h0.6M486.65 297.38h0.6M479.88 292.29h0.6M456.09 310.53h0.6M457.92 292.27h0.6M483.26 296.78h0.6M480.95 293.37h0.6M479.49 291.89h0.6M477.53 314.87h0.6M480.74 294.38h0.6M470.55 320.3h0.6M476.32 311.88h0.6M484.03 296.76h0.6M468.61 290.37h0.6M480.15 308.8h0.6M473.35 312.57h0.6M477.68 312.65h0.6M484.17 296.91h0.6M477.45 310.61h0.6M470.68 290.61h0.6M483.69 281.5h0.6M470.48 290.61h0.6M489.97 289.88h0.6M486.13 290.71h0.6M472.61 312.64h0.6M487.3 301.2h0.6M483.73 304.75h0.6M481.95 295.2h0.6M463.43 290.78h0.6M484.6 298.4h0.6M485.26 300.55h0.6M471.24 289.8h0.6M482.11 307.61h0.6M473.52 311.89h0.6M480.98 311.55h0.6M480.7 311.16h0.6M470.04 287.68h0.6M483.86 307.36h0.6M481.62 308.95h0.6M450.28 297.84h0.6M476.03 291.15h0.6M463.88 312.91h0.6M480.78 310.61h0.6M483.62 296.47h0.6M491.92 308.17h0.6M480.23 291.51h0.6M482.99 291.67h0.6M465.13 288.46h0.6M484.26 302.65h0.6M475.47 290.46h0.6M489.36 298.17h0.6M474.61 287.17h0.6M460.27 314.03h0.6M487.73 299.26h0.6M469.56 289.77h0.6M485.86 293.27h0.6M481.66 295.49h0.6M486.13 298.63h0.6M462.46 290.94h0.6M484.46 306.28h0.6M485.73 303.75h0.6M465.98 289.3h0.6M487.16 293.36h0.6M450.62 293.89h0.6M488.85 295.11h0.6M478.21 288.69h0.6M484.25 299.89h0.6M482.12 293.93h0.6M480.56 314.76h0.6M470.4 315.23h0.6M465.79 289.28h0.6M487.22 299.72h0.6M464.88 314.73h0.6M448.71 303.08h0.6M481.57 292.8h0.6M477.18 314.21h0.6M483.39 292.61h0.6M482 290.05h0.6M484.02 291.17h0.6M481.31 293.86h0.6M476.01 313.59h0.6M465.43 290.69h0.6M486.79 300.59h0.6M477.63 310.48h0.6M487.91 305.8h0.6M457.98 291.81h0.6M475.55 290.4h0.6M485.3 302.97h0.6M476.74 287.38h0.6M483.55 304.59h0.6M474.88 287.05h0.6M484.5 296.71h0.6M466.88 286.99h0.6M479.49 292.63h0.6M484.05 305.17h0.6M481.21 290.38h0.6M473.91 288.54h0.6M483.89 303.8h0.6M488.15 295.77h0.6M472.47 290.81h0.6M488.49 313.34h0.6M474.29 290.47h0.6M458.18 290.75h0.6M490.86 300.34h0.6M490.12 303.53h0.6M481.89 311.59h0.6M483.85 297.46h0.6M451.62 299.96h0.6M484.1 291.4h0.6M478.08 311.7h0.6M481.01 310.03h0.6M483.59 296.3h0.6M481.09 291.44h0.6M486.43 311.11h0.6M484.06 308.55h0.6M484.99 304.35h0.6M469.31 286.89h0.6M457.52 311.7h0.6M455.22 289.26h0.6M485.18 296.53h0.6M483.37 292.33h0.6M467.57 318.01h0.6M484.52 298.1h0.6M482.27 309.81h0.6M452.17 302.26h0.6M480.77 309.21h0.6M481.28 294.34h0.6M491.87 303.64h0.6M482.37 294.96h0.6M491.8 298.8h0.6M486.43 300.06h0.6M487.18 298.94h0.6M476.2 291.32h0.6M485.28 300.55h0.6M483.35 295.98h0.6M476.37 290.15h0.6M484.28 302.2h0.6M486.1 305.68h0.6M472.03 290.2h0.6M480.53 309.83h0.6M479.5 292.87h0.6M478.84 293.36h0.6M484.27 301.51h0.6M483.98 300.71h0.6M484.32 296.74h0.6M460.96 311.46h0.6M481.94 307.19h0.6M477.46 291.83h0.6M485.5 299.52h0.6M484.75 302.59h0.6M477.92 290.12h0.6M465.98 288.57h0.6M462.95 289.34h0.6M482.86 295.66h0.6M485.27 302.95h0.6M483.71 306.04h0.6M465.22 289.33h0.6M472.26 312.12h0.6M482.5 306.84h0.6M484.73 294.55h0.6M460.4 286.22h0.6M483.62 305.68h0.6M482.12 293.66h0.6M470.56 290.16h0.6M459.84 311.53h0.6M483.49 310.79h0.6M484.29 307.67h0.6M484.32 291.48h0.6M473.32 289.56h0.6M471.89 290.2h0.6M487.56 297.75h0.6M456.73 293.04h0.6M484.01 296.49h0.6M470.07 287.22h0.6M470.46 286.92h0.6M470.07 290.46h0.6M465.06 290.75h0.6M471.52 288.55h0.6M484.41 303.37h0.6M471.63 313.34h0.6M476.3 292h0.6M494.29 304.43h0.6M488.52 304.35h0.6M465.47 290.66h0.6M480.75 309.52h0.6M475.1 289.98h0.6M484.31 299.7h0.6M468.87 313.07h0.6M461.5 289.43h0.6M485.19 308.77h0.6M485.4 301.99h0.6M457.31 310.69h0.6M449.14 292.88h0.6M480.98 289.73h0.6M460.31 311.09h0.6M474.78 290.11h0.6M485.27 291.69h0.6M473.34 290.38h0.6M481.74 293.25h0.6M484.33 304.47h0.6M485.7 305.32h0.6M479.56 311.29h0.6M490.29 293.08h0.6M482.42 308.94h0.6M480.47 290.29h0.6M452.08 302.31h0.6M486.18 302.52h0.6M485.65 306.03h0.6M485.59 306.92h0.6M469.68 288.95h0.6M482.48 313.82h0.6M467.2 286.23h0.6M469.57 286.18h0.6M482.63 306.18h0.6M489.76 300.51h0.6M486.16 299.39h0.6M478.69 310.13h0.6M482.96 309.53h0.6M467.42 283.64h0.6M460.75 289.6h0.6M457.53 309.74h0.6M484.71 303.06h0.6M485.17 310.65h0.6M463.62 312.53h0.6M486.55 307.51h0.6M486.58 295.29h0.6M458.32 289.54h0.6M480.6 288.79h0.6M473.01 312.42h0.6M494.79 300.06h0.6M466.48 314.85h0.6M484.01 302.14h0.6M474.01 289.52h0.6M480.6 292.87h0.6M479.94 310.07h0.6M486.39 305.87h0.6M487.42 302.44h0.6M469.13 289.94h0.6M472.3 289.63h0.6M485.39 295.88h0.6M478.21 292.29h0.6M480.4 309.35h0.6M484.85 297.39h0.6M459.04 291.42h0.6M484.78 298.93h0.6M475.3 289.04h0.6M477.52 290.97h0.6M483.75 308.54h0.6M485.6 294.71h0.6M486.53 308.88h0.6M486.37 304.24h0.6M484.15 317.46h0.6M482.51 309.53h0.6M486.79 299.78h0.6M473.46 312.99h0.6M472.77 312.56h0.6M486 293.17h0.6M486.18 293.36h0.6M485.57 302.39h0.6M480.14 309.79h0.6M485.33 301.76h0.6M489.24 307.82h0.6M486.27 305.46h0.6M476.27 291.59h0.6M472.94 289.79h0.6M487.81 301.76h0.6M482.29 312.6h0.6M466.07 287.91h0.6M468.4 312.45h0.6M486.79 297.12h0.6M486.22 302.28h0.6M486.71 295.54h0.6M453.66 296.46h0.6M484.97 306.77h0.6M468.26 313.98h0.6M484.1 293.34h0.6M478.66 310.19h0.6M488.44 287.62h0.6M485.78 300.29h0.6M482.16 293.23h0.6M452.54 292.9h0.6M484.24 295.92h0.6M451.03 297.29h0.6M458.29 291.53h0.6M493.43 287.91h0.6M484.25 298.46h0.6M462.79 289.72h0.6M467.56 288.96h0.6M486.67 288.35h0.6M484 302.76h0.6M484.69 296.49h0.6M468.63 313.96h0.6M482.4 306.31h0.6M486.06 307.62h0.6M454.82 294.83h0.6M478.34 292.61h0.6M482.52 280.75h0.6M476.15 313.49h0.6M479.92 310.42h0.6M458.46 289.1h0.6M456.06 290.34h0.6M485.08 309.08h0.6M448.87 304.6h0.6M486.92 302.1h0.6M481.7 292.1h0.6M464.35 289.86h0.6M479.02 313.47h0.6M472.26 286.62h0.6M488.01 302.38h0.6M462.18 288.42h0.6M491.58 311.96h0.6M478.68 292.95h0.6M468.39 289.65h0.6M483.71 292.33h0.6M487.24 296.34h0.6M485.67 298.17h0.6M483.83 306.02h0.6M483.98 308.05h0.6M481.11 310.21h0.6M468.23 316.06h0.6M468.09 287.51h0.6M453.84 296.21h0.6M480.31 309.86h0.6M476.69 289.99h0.6M452.38 308.72h0.6M462.55 291.15h0.6M467.52 288.74h0.6M488.97 303.09h0.6M479.59 309.15h0.6M459.83 291.42h0.6M473.99 311.97h0.6M486.08 302.35h0.6M454.93 307.7h0.6M486.42 302.85h0.6M455.34 311.89h0.6M484.91 311.97h0.6M465.62 288.47h0.6M457.62 292.69h0.6M483.41 291.73h0.6M484.38 308.44h0.6M476.71 291.01h0.6M479.21 290.8h0.6M461.71 291.1h0.6M477.7 290.54h0.6M458.28 292.36h0.6M484.28 298.01h0.6M447.8 290.3h0.6M485.6 304.06h0.6M459.25 290.88h0.6M485.56 299.4h0.6M472.97 279.88h0.6M492.49 306.91h0.6M477.14 310.99h0.6M477.3 317.62h0.6M484.13 296.62h0.6M483.75 311.17h0.6M454.07 291.03h0.6M473.84 313.5h0.6M477.16 314.52h0.6M480.59 293.81h0.6M485.92 301.08h0.6M484.68 300.92h0.6M465.58 289.92h0.6M487.48 298.29h0.6M487.08 303.95h0.6M451.27 306.69h0.6M482.76 290.08h0.6M485.29 295.7h0.6M481.12 309.61h0.6M455.75 291.11h0.6M473.24 314.02h0.6M489.79 297.92h0.6M480.83 308.38h0.6M487.21 295.36h0.6M484.01 304.17h0.6M466.38 316.01h0.6M462.42 288.38h0.6M481.24 314.56h0.6M465.18 290.56h0.6M479.86 309.36h0.6M486.47 308.34h0.6M484.1 303.84h0.6M458.6 292.2h0.6M487.33 300.84h0.6M475.43 288.97h0.6M473.5 311.82h0.6M482.94 311.06h0.6M485.84 289.26h0.6M460.87 291.79h0.6M485.82 288.86h0.6M487.26 301.61h0.6M487.29 300.07h0.6M484.25 296.44h0.6M486.82 300.07h0.6M471.17 289.4h0.6M482 296.06h0.6M479.48 293.61h0.6M481.06 310.93h0.6M463.41 289.15h0.6M485.07 297.19h0.6M474.26 311.94h0.6M483.93 310.96h0.6M479.15 292.54h0.6M482.79 295.22h0.6M484.74 307.2h0.6M453.79 306.73h0.6M475.53 289.95h0.6M472.4 290.67h0.6M454.66 293.45h0.6M488.74 306.6h0.6M471.8 313.1h0.6M468.92 289.62h0.6M475.01 290.74h0.6M467.55 315.69h0.6M477.37 292.5h0.6M462.4 312.42h0.6M481.97 293.09h0.6M461.23 291.4h0.6M461.76 289.91h0.6M463.25 290.93h0.6M487.71 311.33h0.6M477.11 289.54h0.6M477.81 314.3h0.6M471.91 288.75h0.6M481.08 288.73h0.6M488.01 305.35h0.6M468.81 313.88h0.6M452.69 308.97h0.6M486.11 306.76h0.6M484.64 294.81h0.6M451.34 298.73h0.6M484.32 298.78h0.6M449.72 299.78h0.6M485.66 304.58h0.6M478.25 286.79h0.6M483.32 297.98h0.6M453.98 292.13h0.6M468.54 288.78h0.6M474.07 289.37h0.6M490.4 307.52h0.6M467.72 290.52h0.6M490.05 301.56h0.6M475.31 287.38h0.6M482.37 307.09h0.6M463.75 314.44h0.6M472.82 287.53h0.6M482 312.7h0.6M484.26 294.92h0.6M479.85 311.36h0.6M483.53 296.53h0.6M471.55 314.69h0.6M463.6 315.49h0.6M482.72 310.72h0.6M482.1 289.79h0.6M484.67 300.96h0.6M484.91 294.06h0.6M480.69 292.31h0.6M461.95 290.58h0.6M470.4 286.9h0.6M477.48 284.47h0.6M480.87 292.21h0.6M489.76 307.92h0.6M484.37 299.69h0.6M473.28 287.33h0.6M467.93 283.37h0.6M473.98 287.1h0.6M473.24 287.21h0.6M468.43 312.78h0.6M450.97 313.27h0.6M456.16 293.21h0.6M482.42 294.14h0.6M463.87 290h0.6M459.65 311.43h0.6M480.88 290.94h0.6M464.87 314.58h0.6M482.57 287.74h0.6M485.65 307.52h0.6M458.85 291.65h0.6M477.01 289.46h0.6M473.94 313.87h0.6M475.18 290.58h0.6M484.34 294.8h0.6M470.6 289.26h0.6M489.82 296.27h0.6M488.38 297.74h0.6M490.44 302.26h0.6M459.1 310.7h0.6M471.58 290.72h0.6M471.38 287.13h0.6M462.37 312.31h0.6M471.35 286.41h0.6M483.1 294.77h0.6M484.85 305.27h0.6M465.25 289.5h0.6M453.69 296.03h0.6M459.59 292.15h0.6M476.84 313.62h0.6M461.68 291.52h0.6M477.12 291.68h0.6M481.28 288.65h0.6M451.85 299.22h0.6M473.69 313.16h0.6M481.12 290.1h0.6M479.94 293.26h0.6M488.38 297.01h0.6M452.18 300.06h0.6M490.27 306.45h0.6M484.9 304.87h0.6M485.5 307.35h0.6M469.73 313.64h0.6M482.93 310.41h0.6M469.38 313.12h0.6M452.96 307.65h0.6M488.05 304.37h0.6M476.75 288.44h0.6M464.88 312.87h0.6M464.26 285.13h0.6M484.18 298.43h0.6M469.51 314.55h0.6M483.53 297.33h0.6M483.98 310.22h0.6M461.15 313.3h0.6M484.31 300.25h0.6M475.4 313.03h0.6M478.17 290.95h0.6M468.97 289.4h0.6M470.9 313.88h0.6M468.93 289.21h0.6M474.55 291.15h0.6M453.58 296.41h0.6M462.78 316.11h0.6M483.29 311.27h0.6M466.98 313.74h0.6M482.47 280.52h0.6M482.93 294.13h0.6M480.65 293h0.6M465.82 290.41h0.6M483.46 297.92h0.6M476.47 291.31h0.6M455.02 295.31h0.6M459.79 291h0.6M462.28 312.42h0.6M486.32 305.39h0.6M449.05 291.88h0.6M483.69 306.03h0.6M469.21 314.59h0.6M453.93 311.24h0.6M484.67 307.75h0.6M481.97 292.8h0.6M486.16 289.18h0.6M475.97 311.34h0.6M454.18 310.14h0.6M485.69 299.13h0.6M477.68 288.63h0.6M482.82 282.08h0.6M453.4 309.4h0.6M463.82 314.15h0.6M459.9 289.24h0.6M484.81 304.75h0.6M483.65 295.12h0.6M459.79 290.78h0.6M478.88 292.96h0.6M484.72 315.01h0.6M462.48 313.33h0.6M463.91 290.66h0.6M472.01 313.81h0.6M484.37 300.97h0.6M478.81 291.25h0.6M486.31 306.87h0.6M484.5 295.98h0.6M469.32 312.59h0.6M471.91 312.63h0.6M489.6 300.92h0.6M462.05 291.4h0.6M483.44 307.51h0.6M491.55 301.62h0.6M465.71 313.8h0.6M476.27 311.93h0.6M484.76 306.93h0.6M479.92 312.09h0.6M466.28 290.55h0.6M480.35 292.25h0.6M468.45 313.36h0.6M481.83 308.99h0.6M496.2 305.63h0.6M466.3 314.2h0.6M491.36 299.7h0.6M489.24 304.21h0.6M475.41 315.49h0.6M473.67 288.89h0.6M470.27 312.49h0.6M465.65 290.45h0.6M486.93 304.44h0.6M482.69 308.98h0.6M455.54 293.61h0.6M462.42 312.23h0.6M464.95 286.84h0.6M469.18 289.66h0.6M460.48 313.73h0.6M457.88 310.04h0.6M482.41 308.5h0.6M463.44 313.83h0.6M486.06 301.36h0.6M457.24 289.95h0.6M472.15 317.99h0.6M488.05 304.96h0.6M494.39 296.4h0.6M485.06 296.43h0.6M470.23 285.03h0.6M487.37 303.89h0.6M486.47 305.45h0.6M485.49 306.94h0.6M482.64 307.81h0.6M478.18 288.93h0.6M486.78 305.88h0.6M487.07 302.33h0.6M480.34 293.62h0.6M469.85 286.83h0.6M480.33 320.14h0.6M489.24 297.27h0.6M490.13 305.67h0.6M486.77 297.57h0.6M464.35 290.48h0.6M458.38 289.62h0.6M485.4 296.96h0.6M481.91 312.15h0.6M484.62 298.47h0.6M479.6 288.55h0.6M467.52 289.67h0.6M478.24 310.46h0.6M462.94 285.8h0.6M484.63 288.02h0.6M459.77 291.07h0.6M483.57 297.81h0.6M478.57 292.73h0.6M460.51 288.04h0.6M477.72 292.74h0.6M480.82 291.42h0.6M474.79 313.66h0.6M476.92 290.13h0.6M454.86 295.58h0.6M482.5 295.35h0.6M464.25 289.71h0.6M446.2 295.66h0.6M473.76 291.19h0.6M472.06 317.7h0.6M472.55 290.37h0.6M477.03 311.69h0.6M469.73 290.25h0.6M487.31 306.65h0.6M485.72 300.3h0.6M454.72 256.93h0.6M466.81 274.13h0.6M468.6 288.91h0.6M477.29 243.46h0.6M464.79 289.32h0.6M475.76 290.13h0.6M471.68 257.15h0.6M460.16 246.13h0.6M467.97 285.78h0.6M471.49 290.7h0.6M457.44 258.89h0.6M472.96 279.22h0.6M455.54 240.62h0.6M469.47 283.38h0.6M451.97 284.53h0.6M468.91 284.61h0.6M464.86 277.8h0.6M466.28 248.88h0.6M470.97 257.18h0.6M466.17 282.84h0.6M472.34 277.72h0.6M464.51 288.15h0.6M452.23 289.86h0.6M456.24 290.36h0.6M468.28 284.38h0.6M461.39 262.86h0.6M474.48 243.4h0.6M481.97 241.22h0.6M460.68 285.25h0.6M475.22 282.39h0.6M446.15 270.14h0.6M479.44 289.12h0.6M454.75 264.87h0.6M455.7 288.59h0.6M454.6 263.83h0.6M455.53 276.63h0.6M461.01 270.94h0.6M465.47 289.39h0.6M448.75 288.76h0.6M462.52 279.91h0.6M458.13 276.12h0.6M461.87 284.97h0.6M476.12 290.36h0.6M462.65 274.66h0.6M462.86 291.46h0.6M471.36 280.18h0.6M444.32 287.62h0.6M477.5 255.4h0.6M479.2 242.08h0.6M460.33 289.58h0.6M478.44 266.72h0.6M471.55 289.85h0.6M470.13 290.82h0.6M472.36 291.11h0.6M450.78 263.56h0.6M466.58 271.85h0.6M455.03 268.29h0.6M455.16 286.92h0.6M464.98 285.98h0.6M474.83 283.8h0.6M456.67 291.56h0.6M456.37 278.99h0.6M472.29 282.08h0.6M463.9 273.64h0.6M462.29 281.9h0.6M464.87 287.97h0.6M476.37 289.51h0.6M476.52 290.9h0.6M477.03 287.76h0.6M479.44 276.52h0.6M472.34 273.37h0.6M469.25 245.45h0.6M466.18 289.44h0.6M462.45 290.91h0.6M464.48 291.12h0.6M468.04 290.71h0.6M460.03 290.47h0.6M468.31 275.91h0.6M466.54 259.73h0.6M464.9 271.46h0.6M462.13 252h0.6M468.06 288.77h0.6M477.74 290.3h0.6M462.02 286.32h0.6M455.6 290.78h0.6M454.41 288.14h0.6M462.68 288.76h0.6M479.25 285.89h0.6M467.64 290.35h0.6M482.27 283.66h0.6M481.08 269.16h0.6M471.65 279.7h0.6M465.55 286.24h0.6M471.27 275.02h0.6M467.38 288.52h0.6M478.26 260.65h0.6M464.15 284.28h0.6M466.53 281.9h0.6M468.89 280.62h0.6M459.55 290.36h0.6M456.21 272.66h0.6M464.03 262.93h0.6M480.24 289.12h0.6M456.98 290.49h0.6M457.87 285.46h0.6M462.76 281.7h0.6M468.66 283.85h0.6M457.39 240.83h0.6M470.31 258.72h0.6M480.52 288.63h0.6M473.57 266.35h0.6M464.18 252.94h0.6M476.85 291.4h0.6M456.96 279.4h0.6M473.58 285.22h0.6M464.74 285.1h0.6M451.94 257.17h0.6M461.46 258.17h0.6M460.11 291.12h0.6M451.46 288.91h0.6M461.31 266.58h0.6M457.95 290.3h0.6M462.68 265.93h0.6M462.25 289.97h0.6M464.68 289.46h0.6M482.87 274.27h0.6M454.34 285.37h0.6M461.93 268.76h0.6M454.3 267.97h0.6M464.13 287.4h0.6M471.4 290.17h0.6M464.23 286.11h0.6M461.17 285.48h0.6M464.41 280.06h0.6M467.03 263.53h0.6M462.12 291.49h0.6M471.62 273.97h0.6M464.76 280.14h0.6M463.7 282.43h0.6M461.85 280.24h0.6M477.33 290.34h0.6M471.6 291.33h0.6M455.89 255.78h0.6M464.68 270.74h0.6M464.67 272.24h0.6M460.86 260.15h0.6M459.31 242.64h0.6M461.29 261.55h0.6M472.36 271.13h0.6M465.53 287.35h0.6M460.96 287.52h0.6M473.91 283.7h0.6M457.78 247.91h0.6M460.94 288.25h0.6M450.12 289.77h0.6M475.98 283.58h0.6M487.55 291.04h0.6M459.58 270.53h0.6M452.8 281.42h0.6M474.78 291.28h0.6M467.87 283.46h0.6M450.95 284.95h0.6M477.9 288.47h0.6M469.96 248.91h0.6M486.21 286.56h0.6M462.29 290.65h0.6M468.41 289.1h0.6M471.56 245.87h0.6M480.24 266.77h0.6M466.92 268.19h0.6M463.91 286.63h0.6M461.23 284.08h0.6M460.12 289.64h0.6M469.38 278.86h0.6M462.15 284.7h0.6M477.32 271.41h0.6M461.64 275.66h0.6M465.74 263.92h0.6M459.81 288.23h0.6M456.18 260.25h0.6M469.37 279.53h0.6M464.66 258h0.6M463.82 289.97h0.6M451.77 249.89h0.6M463.66 250.18h0.6M461.4 289.18h0.6M464.8 283.79h0.6M465.97 252.22h0.6M474.11 284.97h0.6M457.39 256.57h0.6M461.02 288.53h0.6M460.17 256.88h0.6M454.08 291.32h0.6M465.18 277.64h0.6M463.31 290.93h0.6M463.62 270.28h0.6M470.5 273.75h0.6M475.21 279.96h0.6M462.72 282.51h0.6M464.87 291.3h0.6M464.23 276.79h0.6M466.96 287.09h0.6M467.67 284.25h0.6M462.21 267.13h0.6M481.34 286.83h0.6M459.91 290.7h0.6M462.61 280.49h0.6M461.99 286.26h0.6M445.58 272.96h0.6M464.38 287.56h0.6M456.3 286.88h0.6M460.96 274.76h0.6M456.85 285.02h0.6M454.76 288.45h0.6M471.73 289.11h0.6M462.28 258.18h0.6M469.65 275.23h0.6M464.42 282.41h0.6M461.61 278.1h0.6M456.99 247.62h0.6M457.92 289.27h0.6M471.65 280.33h0.6M467.45 287.29h0.6M455.4 279.94h0.6M471.79 286h0.6M463.46 250.17h0.6M463.81 291.08h0.6M460.46 249.35h0.6M470.08 290.62h0.6M463.13 259.99h0.6M467.25 288.31h0.6M456.54 283.88h0.6M469.51 290.41h0.6M481.72 261.64h0.6M474.8 290.32h0.6M458.37 239.69h0.6M470.02 284.5h0.6M479.23 287.71h0.6M463.35 291.12h0.6M466.59 276.45h0.6M468.76 253h0.6M460.47 246.63h0.6M470.77 290.73h0.6M447.87 290.76h0.6M460.02 290.98h0.6M463.93 248.45h0.6M465.46 285.65h0.6M462.44 289.2h0.6M473.62 283.34h0.6M454.59 281.34h0.6M470.69 288.75h0.6M469.18 286.35h0.6M469.24 280.1h0.6M451.75 281.7h0.6M469.07 281.53h0.6M459.85 278.93h0.6M475.01 282.52h0.6M454.67 289.68h0.6M459.95 290.73h0.6M466.96 254.78h0.6M459.62 276.83h0.6M458.6 291.19h0.6M468.26 254.76h0.6M458.12 250.33h0.6M464.88 283.61h0.6M477.72 284.9h0.6M469.27 290.94h0.6M476.9 265.7h0.6M465.91 280.06h0.6M457.96 291h0.6M483.06 282.81h0.6M451.34 284.64h0.6M467.28 263.34h0.6M466.27 240.12h0.6M468.98 277.17h0.6M463.6 264.2h0.6M467.08 289.11h0.6M465.98 283.78h0.6M473.52 287.93h0.6M461.12 279.63h0.6M457.41 284.47h0.6M479.56 287.34h0.6M475.85 288.26h0.6M472.79 272.9h0.6M473.93 288.93h0.6M454.81 287.1h0.6M464.1 289.11h0.6M463.47 283.81h0.6M461.04 282.13h0.6M465.8 281.11h0.6M456.98 280.56h0.6M474.99 281.9h0.6M470.66 290.33h0.6M455.34 273.75h0.6M459.73 288.33h0.6M460.34 269.59h0.6M473.71 288.35h0.6M462.15 284.73h0.6M469.95 258.3h0.6M464.6 253.32h0.6M457.55 257.67h0.6M478.72 288.53h0.6M455.56 277.03h0.6M451.82 281.44h0.6M458.71 290.53h0.6M479.74 250.48h0.6M464.88 271.38h0.6M462.04 259.61h0.6M476.85 261.23h0.6M467.02 289.33h0.6M469.36 255.34h0.6M461.2 281.75h0.6M470.79 290.45h0.6M473.85 289.35h0.6M465.31 280.8h0.6M462.24 244.04h0.6M475.82 291.05h0.6M466.78 288.38h0.6M470.52 267.4h0.6M471.68 278.35h0.6M468.41 290.77h0.6M463.27 277.26h0.6M460.73 274.34h0.6M469.33 289.63h0.6M468.4 287.32h0.6M458.19 284.97h0.6M475.8 289.71h0.6M466.32 246.6h0.6M463.16 243.37h0.6M463 285.24h0.6M461.31 287.21h0.6M458.75 288.66h0.6M479.42 243.4h0.6M467.55 289.64h0.6M465.05 288.44h0.6M451.08 277.46h0.6M466.74 287.59h0.6M462.55 256.25h0.6M472.22 288.07h0.6M463.05 284.37h0.6M450.28 261.94h0.6M458.95 287.6h0.6M473.43 245.33h0.6M456.06 261.66h0.6M469.36 286.19h0.6M484.09 287.32h0.6M449.88 276.35h0.6M469.7 286.67h0.6M464.25 259.92h0.6M470.44 254.8h0.6M460.28 256.56h0.6M462.53 277h0.6M464.21 245.08h0.6M450.83 282.67h0.6M477 289.76h0.6M461.36 270.75h0.6M463.68 266.2h0.6M465.06 241.43h0.6M474.62 247.22h0.6M469.39 290.54h0.6M474.24 280.88h0.6M468.01 289.14h0.6M461.11 277.02h0.6M468.67 284.62h0.6M457.85 290.18h0.6M482.16 283.41h0.6M453.61 245.29h0.6M473.9 239.67h0.6M458.93 290.87h0.6M468.12 278.82h0.6M471.01 284.98h0.6M464.59 245.83h0.6M474.55 271.01h0.6M454.03 258.64h0.6M456.4 289.45h0.6M468.49 272.6h0.6M474.62 289.49h0.6M459.6 265.11h0.6M467.46 279.36h0.6M461.35 289.22h0.6M459.38 282.45h0.6M451.21 290.91h0.6M473.52 262.45h0.6M470.21 289.04h0.6M473.75 261.28h0.6M478.84 280.95h0.6M464.64 246.23h0.6M458.72 287.58h0.6M463.57 284.72h0.6M460.41 259.9h0.6M456.74 284.17h0.6M459.54 261.33h0.6M466.21 286.1h0.6M464.37 278.37h0.6M454.63 287.98h0.6M469.08 275.25h0.6M472.72 275.47h0.6M468.25 283.55h0.6M447.31 289.48h0.6M475.6 290.92h0.6M466.36 244.99h0.6M470.11 283.86h0.6M465.99 281.39h0.6M452.65 256.11h0.6M461.97 285.47h0.6M460.98 289.15h0.6M472.52 291.09h0.6M455.38 291.65h0.6M459.22 279.31h0.6M468.8 283.16h0.6M459.47 282.29h0.6M456.45 275.02h0.6M456.9 268.34h0.6M466.73 283.06h0.6M476.18 264.3h0.6M480.57 291.67h0.6M455.94 290.25h0.6M470.88 284.86h0.6M471.12 258.51h0.6M461.14 288.88h0.6M473.03 289.94h0.6M459.27 279.85h0.6M476.87 290.98h0.6M448.83 288.2h0.6M461.05 260.64h0.6M468.15 274.74h0.6M468.19 282.64h0.6M464.78 285.01h0.6M453.72 247.26h0.6M462.9 264.37h0.6M462.5 290.25h0.6M452.9 289.54h0.6M467.26 263.83h0.6M459.95 271.34h0.6M478.47 258.7h0.6M461.09 285.97h0.6M457.8 290.44h0.6M462.98 290.86h0.6M470.12 252.12h0.6M477.75 291.64h0.6M465.92 272.28h0.6M470.85 290.71h0.6M473.09 287.24h0.6M460.62 269.83h0.6M463.03 278.79h0.6M461.41 284.33h0.6M462.14 291.3h0.6M476.52 283.17h0.6M457.7 289.33h0.6M470.48 246.96h0.6M455.12 291.3h0.6M475.32 243.82h0.6M463.35 270.41h0.6M467.37 240.29h0.6M461 243.41h0.6M475.13 288.76h0.6M453.86 279.01h0.6M463.34 286.3h0.6M478.65 279.07h0.6M467.61 276.59h0.6M479.93 287.85h0.6M464.35 284.38h0.6M462.54 285.23h0.6M460.49 243.64h0.6M453.65 288.47h0.6M465.39 291.48h0.6M458.04 284.48h0.6M463 253.36h0.6M454.93 280.93h0.6M464.19 291.6h0.6M462.89 281.3h0.6M459.65 290.52h0.6M457.31 249.58h0.6M469.42 290.95h0.6M461.5 251.38h0.6M443.83 283.41h0.6M467.38 259.53h0.6M451.17 290.46h0.6M480 280.21h0.6M462.55 290.41h0.6M460.02 250.04h0.6M472 289.67h0.6M468.22 269.99h0.6M461.39 284.83h0.6M450.4 267.37h0.6M465.55 284.13h0.6M462.78 289.92h0.6M468.06 287.94h0.6M467.52 287.27h0.6M473.55 274.16h0.6M471.44 279.73h0.6M453.95 271.61h0.6M470.12 268.24h0.6M458.6 285.66h0.6M464.07 282.95h0.6M475.53 286.15h0.6M447.36 245.1h0.6M460.48 288.91h0.6M474.34 291.43h0.6M459.02 276.31h0.6M455.19 280.77h0.6M479.38 291.46h0.6M455.94 271.59h0.6M465.14 258.01h0.6M478.6 286.37h0.6M470.08 290.98h0.6M482.47 254.93h0.6M474.95 283.76h0.6M456.3 285.64h0.6M466.84 263.15h0.6M473.76 290.55h0.6M482.59 278.38h0.6M454.23 291.43h0.6M462.27 269.49h0.6M466.2 279.82h0.6M455.14 286.38h0.6M472.55 287.33h0.6M461.05 274.88h0.6M477.76 290.64h0.6M457.88 270.84h0.6M462.58 256.98h0.6M470.69 243.52h0.6M463.07 256.55h0.6M471.42 275.8h0.6M464.29 276.53h0.6M464.4 259.4h0.6M460.03 290.82h0.6M478.14 286.84h0.6M464.57 272.45h0.6M484.04 279.8h0.6M454.72 240.22h0.6M475.07 286.09h0.6M465.57 276.82h0.6M462.06 291.39h0.6M453.88 276.65h0.6M471.39 282.88h0.6M466.36 288.5h0.6M465.96 285.49h0.6M470.69 286.5h0.6M474.42 291.3h0.6M462.33 285.93h0.6M465.4 285.26h0.6M466.31 248.09h0.6M469.64 286.99h0.6M458.94 245.7h0.6M463.5 288.04h0.6M460.22 244.3h0.6M470.02 268.15h0.6M464.48 278.33h0.6M462.04 288.76h0.6M462.07 281.8h0.6M482.8 284.8h0.6M474.76 282.1h0.6M464.3 277.77h0.6M447.96 270.21h0.6M468.26 271.42h0.6M461.7 283.62h0.6M469.09 287.78h0.6M483.17 288.21h0.6M473.73 257.06h0.6M477.21 265.01h0.6M472.73 278.65h0.6M463.83 288.78h0.6M463.52 290.57h0.6M464.17 276.98h0.6M469.91 284.27h0.6M461.06 291.51h0.6M471.96 289.11h0.6M471.99 258.36h0.6M465.93 289.4h0.6M460.44 285.04h0.6M455.26 287.58h0.6M476.44 290.28h0.6M466.04 250.34h0.6M475.2 287.46h0.6M471.49 290.67h0.6M458.52 289.27h0.6M456.18 290.43h0.6M465.77 277.49h0.6M470.74 277h0.6M476.69 257.72h0.6M472.25 283.2h0.6M470.07 289.33h0.6M466.59 271.62h0.6M484.57 289.31h0.6M468.55 270.17h0.6M454.58 289.09h0.6M459.2 289.02h0.6M465.35 264.19h0.6M472.16 274.57h0.6M481.66 282.45h0.6M461.94 270.57h0.6M477.04 287.83h0.6M471.21 284.52h0.6M456.49 276.77h0.6M449.13 279.46h0.6M466.11 290.32h0.6M459.39 286.68h0.6M475.41 287.08h0.6M467.04 266.38h0.6M464.15 254.7h0.6M467.22 287.08h0.6M460.37 239.89h0.6M449.53 279.51h0.6M461.74 245.7h0.6M460.79 283.72h0.6M457.07 290.17h0.6M452.64 286.11h0.6M463.39 256.94h0.6M463.42 286.98h0.6M470.98 288.08h0.6M462.78 289.91h0.6M473.59 287.04h0.6M464.11 277.71h0.6M475.24 242.53h0.6M467.02 284.8h0.6M463.38 287.5h0.6M461.36 286.39h0.6M464.36 290.64h0.6M457.86 291.39h0.6M459.49 282.83h0.6M458.54 290.96h0.6M474.16 283.24h0.6M461.59 290.98h0.6M470.77 256.73h0.6M467.03 240.01h0.6M467.19 280.86h0.6M463.2 282.41h0.6M480.02 289.38h0.6M472.46 274.5h0.6M470.41 288.14h0.6M460.11 279.87h0.6M473.35 290.97h0.6M464 283.18h0.6M464.33 285.82h0.6M463.15 291.24h0.6M458.72 282.49h0.6M445.76 274.8h0.6M453.88 288.12h0.6M478.65 291.21h0.6M459.79 265.44h0.6M471.73 241.75h0.6M461.66 244.08h0.6M466.02 284.41h0.6M455.58 263.86h0.6M478.94 258.74h0.6M469.06 267.78h0.6M469.74 284.58h0.6M472.67 254.42h0.6M462.17 291.16h0.6M457.57 259.65h0.6M469.4 290.31h0.6M475.01 251.56h0.6M459.61 291.39h0.6M469.58 291.32h0.6M460.68 267.73h0.6M469.1 287.77h0.6M460.12 256.69h0.6M456.99 258.52h0.6M463.77 274.04h0.6M454.98 287.48h0.6M467.43 290.49h0.6M469.06 282.9h0.6M459.22 281.5h0.6M474.98 269.24h0.6M457.71 288.42h0.6M467.61 239.98h0.6M476.27 270.09h0.6M464.07 289.87h0.6M459.87 264.66h0.6M466.05 291.41h0.6M461.41 290.41h0.6M450.32 286.91h0.6M476.73 291.52h0.6M460.12 291.3h0.6M465.41 288.05h0.6M473.29 276.88h0.6M474.19 268.15h0.6M468.28 283.18h0.6M465.75 243.59h0.6M467.01 271.08h0.6M462.98 281.3h0.6M466.8 257.06h0.6M467.2 288.22h0.6M451.41 289.34h0.6M459.13 253.27h0.6M468.3 278.79h0.6M455.63 286.21h0.6M467.47 288.76h0.6M470.75 258.95h0.6M478.25 283.09h0.6M465 269.84h0.6M480.08 286.14h0.6M470.89 266.4h0.6M457.65 285.68h0.6M471.41 289.44h0.6M467.92 290.58h0.6M455.38 291.22h0.6M464.91 285.12h0.6M448.88 316.41h0.6M454.13 317.89h0.6M460.83 319.57h0.6M487.87 314.75h0.6M447.06 319.73h0.6M451.81 321.47h0.6M459.13 320.32h0.6M466.53 313.75h0.6M460.73 317.55h0.6M477.13 317.88h0.6M461.32 319.16h0.6M466.01 314.09h0.6M466.27 313.61h0.6M467.46 316.41h0.6M472.75 316.2h0.6M480.37 314.97h0.6M452.12 317.54h0.6M456.92 316.09h0.6M474.98 312.93h0.6M468.25 313.3h0.6M454.49 320.05h0.6M464.64 314.51h0.6M456.47 313.43h0.6M464.15 312.92h0.6M465.32 316.12h0.6M478.08 315.02h0.6M466.05 315.97h0.6M459.13 315.1h0.6M470.48 318.63h0.6M456.48 319.37h0.6M462.99 313.72h0.6M471.86 317.71h0.6M467.83 313.1h0.6" stroke="#111" stroke-width="0.6" fill="none" opacity="0.85"/>
<ellipse cx="468.2" cy="301.5" rx="15.8" ry="10.9" fill="url(#blob)" stroke="#222" stroke-width="0.9" stroke-opacity="0.6"/>
<ellipse cx="468.2" cy="301.5" rx="14.7" ry="9.8" fill="none" stroke="#fff" stroke-width="0.8" opacity="0.9"/>
<ellipse cx="467.5" cy="301.72" rx="12.64" ry="8.72" fill="none" stroke="#555" stroke-width="0.3" opacity="0.55"/>
<ellipse cx="467.09" cy="301.85" rx="10.74" ry="7.41" fill="none" stroke="#fff" stroke-width="0.3" opacity="0.6"/>
<ellipse cx="466.67" cy="301.98" rx="8.85" ry="6.1" fill="none" stroke="#555" stroke-width="0.3" opacity="0.55"/>
<ellipse cx="466.25" cy="302.11" rx="6.95" ry="4.8" fill="none" stroke="#fff" stroke-width="0.3" opacity="0.6"/>
<ellipse cx="465.84" cy="302.24" rx="5.06" ry="3.49" fill="none" stroke="#555" stroke-width="0.3" opacity="0.5"/>
<ellipse cx="465.42" cy="302.37" rx="3.16" ry="2.18" fill="none" stroke="#fff" stroke-width="0.3" opacity="0.7"/>
<ellipse cx="465.99" cy="302.59" rx="2.05" ry="0.55" fill="#fff" opacity="0.95"/>
<rect x="450.2" y="238.4" width="53.4" height="56" fill="none" stroke="#333" stroke-width="0.75"/>
<rect x="467.1" y="255.4" width="19.6" height="18.4" fill="#fff" opacity="0.8"/>
<text x="476.9" y="263.9" font-size="6.8" text-anchor="middle" font-weight="bold" fill="#000" stroke="#000" stroke-width="0.25">Th17</text>
<text x="476.9" y="274.6" font-size="6.8" text-anchor="middle" font-weight="bold" fill="#000" stroke="#000" stroke-width="0.25">6.78</text>
<line x1="416.6" y1="262.3" x2="419.4" y2="262.3" stroke="#222" stroke-width="0.7"/>
<line x1="416.6" y1="306" x2="419.4" y2="306" stroke="#222" stroke-width="0.7"/>
<path d="M418 244h1.4M418 248.5h1.4M418 252h1.4M418 255h1.4M418 258h1.4M418 272h1.4M418 279h1.4M418 285h1.4M418 290h1.4M418 294h1.4M418 297h1.4M418 299.5h1.4M418 311.5h1.4M418 314h1.4M418 317h1.4M418 321h1.4M418 327h1.4M418 333h1.4" stroke="#555" stroke-width="0.45" fill="none"/>
<rect x="417.6" y="303.0" width="1.8" height="5.6" fill="#222"/>
<line x1="444.1" y1="339.6" x2="444.1" y2="342.4" stroke="#222" stroke-width="0.7"/>
<line x1="488.2" y1="339.6" x2="488.2" y2="342.4" stroke="#222" stroke-width="0.7"/>
<path d="M423.4 341v-1.4M428.4 341v-1.4M432.4 341v-1.4M435.4 341v-1.4M452.4 341v-1.4M455.4 341v-1.4M459.4 341v-1.4M464.4 341v-1.4M470.4 341v-1.4M476.4 341v-1.4M481.4 341v-1.4M484.9 341v-1.4M496.4 341v-1.4M503.4 341v-1.4M508.4 341v-1.4M512.4 341v-1.4M515.9 341v-1.4M518.9 341v-1.4" stroke="#555" stroke-width="0.45" fill="none"/>
<rect x="438" y="339.6" width="11.5" height="1.6" fill="#222"/>
<text x="444.1" y="352.8" font-size="5" text-anchor="middle" font-weight="bold" fill="#111">0</text>
<text x="488.6" y="353.0" font-size="5" font-weight="bold" text-anchor="middle" fill="#111">10<tspan dy="-3.0" font-size="4.6">3</tspan></text>
<text x="410" y="307.8" font-size="5" text-anchor="middle" font-weight="bold" fill="#111">0</text>
<text x="410.8" y="264.8" font-size="5" font-weight="bold" text-anchor="middle" fill="#111">10<tspan dy="-3.0" font-size="4.6">3</tspan></text>
</g>
<text x="591" y="226.2" font-size="10.6" text-anchor="middle" fill="#1a1a1a">1</text>
<g>
<rect x="541" y="238.4" width="104.6" height="101.2" fill="#fff" stroke="#3c3c3c" stroke-width="0.85"/>
<path d="M609.88 305.67h0.6M606.01 307.23h0.6M608.9 308.03h0.6M607.38 301.03h0.6M578.81 309.49h0.6M579.33 295.78h0.6M599.78 292.12h0.6M594.21 294.03h0.6M607.96 305.56h0.6M597.68 291.98h0.6M601.9 295.61h0.6M612.6 296.05h0.6M586.65 315.3h0.6M604.39 297.59h0.6M580.61 295.57h0.6M605.97 307.43h0.6M607.16 304.85h0.6M602.98 296.52h0.6M570.34 305.98h0.6M576.98 294.63h0.6M608.55 311.51h0.6M610.41 294.03h0.6M578 296.28h0.6M598.99 290.67h0.6M582.3 314.02h0.6M606.65 301.12h0.6M614.34 305.38h0.6M610.71 308.99h0.6M596.54 312.04h0.6M578.15 297.54h0.6M589.79 294.31h0.6M612.16 300.44h0.6M591.88 293.24h0.6M584.94 294.49h0.6M604.57 295.41h0.6M606.98 297.72h0.6M586.84 294.13h0.6M602.91 297.3h0.6M584.11 294.81h0.6M588.33 292.05h0.6M606.96 309.31h0.6M606.64 299.55h0.6M605.55 297.62h0.6M608.55 302.84h0.6M591.65 313.8h0.6M583.97 313.46h0.6M600.92 290.6h0.6M588.51 292.66h0.6M609.51 303.67h0.6M592.64 290.74h0.6M577.26 311.05h0.6M598.6 291.93h0.6M589.56 293.62h0.6M606.36 300.44h0.6M610.08 316.67h0.6M598.76 294.98h0.6M603.34 297.05h0.6M604.15 308.3h0.6M606.12 314.62h0.6M606.75 306.54h0.6M595.93 293.82h0.6M609.92 307.21h0.6M610.96 304.06h0.6M598.29 288.27h0.6M602.51 311.93h0.6M608.21 312.8h0.6M604.24 309.47h0.6M581.25 314.77h0.6M615.06 302.75h0.6M575.2 299.96h0.6M608.15 300.47h0.6M580.82 312.74h0.6M580.6 293.03h0.6M606.99 302.13h0.6M572.1 302.83h0.6M575.58 297.63h0.6M596.17 288.16h0.6M606.33 311.15h0.6M609.42 297.99h0.6M576.88 308.9h0.6M577.86 297.96h0.6M574.63 306.32h0.6M575.72 307.21h0.6M611.66 303.38h0.6M602.5 293h0.6M610.78 292.27h0.6M586.95 312.91h0.6M609.21 303.44h0.6M610.5 307.25h0.6M598.33 295.38h0.6M602.99 295.47h0.6M598.45 313.24h0.6M607.06 295.33h0.6M592.58 292.94h0.6M603.24 309.89h0.6M594.18 311.78h0.6M604.8 310.09h0.6M592.38 292.99h0.6M587.59 315.21h0.6M583.65 293.79h0.6M569.65 300.37h0.6M603.51 312.55h0.6M596.86 293.68h0.6M572.25 300.39h0.6M598.2 294.3h0.6M590.1 292.7h0.6M605.88 310.8h0.6M610.34 297.31h0.6M599.27 289.43h0.6M580.21 296.65h0.6M579.88 312.73h0.6M579.92 296.22h0.6M573.57 300.18h0.6M605.2 298.29h0.6M609.96 301.76h0.6M582.75 292.95h0.6M591.44 290.9h0.6M601.24 313.04h0.6M601.47 295.44h0.6M579.07 294.83h0.6M596.53 293.99h0.6M597.7 295.46h0.6M605.51 296.83h0.6M600.83 310.3h0.6M586.99 314.09h0.6M578.02 297.59h0.6M603.63 314.04h0.6M606.07 307h0.6M573.44 302.98h0.6M609.84 307.71h0.6M592.31 290.06h0.6M598.12 288.78h0.6M579.86 313.61h0.6M603.78 296.26h0.6M579 296.89h0.6M583.91 316.85h0.6M606.92 298.65h0.6M607.41 307.81h0.6M608.37 301.61h0.6M580.78 295.65h0.6M611.41 302.57h0.6M580.15 311.97h0.6M588.65 292.36h0.6M606.11 296.38h0.6M598.65 312.01h0.6M599.71 296.04h0.6M604.8 298.23h0.6M606.57 310.41h0.6M587.08 311.76h0.6M606.39 300.17h0.6M582.92 294.63h0.6M587.38 293.91h0.6M609.31 299.59h0.6M608.11 300.42h0.6M593.63 294.18h0.6M592.79 313.25h0.6M587.92 312h0.6M579.37 296.04h0.6M598.68 292.68h0.6M603.06 292.2h0.6M605.17 308.82h0.6M607.94 307.94h0.6M606.22 298.06h0.6M608.55 307.12h0.6M603.52 294.6h0.6M603.82 313.49h0.6M598.82 311.94h0.6M603.9 297.49h0.6M587.09 315.22h0.6M604.05 296.22h0.6M593.47 294.02h0.6M603.38 296.96h0.6M608.93 302.86h0.6M585.8 293.57h0.6M608.1 304.21h0.6M596.56 317.89h0.6M609.7 303.32h0.6M601.69 295.88h0.6M580.98 311.91h0.6M604.32 291.62h0.6M610.88 304.26h0.6M598.31 294.85h0.6M578.53 295.19h0.6M602 311.37h0.6M584.92 312.69h0.6M604.67 308.96h0.6M591.88 313.36h0.6M607.59 296.45h0.6M575.74 307.88h0.6M606.73 308.67h0.6M609.87 311.38h0.6M605.51 311.56h0.6M605.16 298.97h0.6M603.77 296.62h0.6M578.55 296.89h0.6M592.74 294.79h0.6M575.43 295.83h0.6M599.55 295.38h0.6M609.55 299.92h0.6M599.44 291.39h0.6M605.01 315.28h0.6M600.26 313.68h0.6M601.07 293.67h0.6M595.69 311.66h0.6M610.36 306.65h0.6M600.36 313.75h0.6M580.71 311.49h0.6M592.92 312.5h0.6M586.3 291.5h0.6M575.28 298.47h0.6M601.66 310.54h0.6M608.28 307.92h0.6M575.04 307.04h0.6M581.63 290.3h0.6M588.41 312.99h0.6M607.84 306.15h0.6M603.57 310.49h0.6M607.49 304.45h0.6M607.39 299.19h0.6M597.62 311.78h0.6M604.13 308.92h0.6M610.92 299.34h0.6M580.98 295.44h0.6M600.33 292.78h0.6M603.12 280.3h0.6M592.22 290.59h0.6M596.34 291.05h0.6M607.12 298.32h0.6M604.36 296.48h0.6M593.22 314.29h0.6M609 305.63h0.6M609.92 310.83h0.6M598.63 311.86h0.6M591.54 312.65h0.6M602.3 293.02h0.6M605.46 289.83h0.6M603.15 311.15h0.6M602.91 296.03h0.6M607.84 301.82h0.6M586.64 295.02h0.6M607.86 300.43h0.6M604.31 310.12h0.6M605.06 308.64h0.6M586.66 312.21h0.6M592.94 294.53h0.6M588.76 312.05h0.6M574.93 297.15h0.6M592.49 293.95h0.6M607.53 306.96h0.6M587.54 292.65h0.6M574.47 292.19h0.6M602.02 293.67h0.6M607.95 303.69h0.6M609.22 298.25h0.6M596.84 295.31h0.6M608.41 303.45h0.6M598.31 292.87h0.6M595.39 311.47h0.6M622.86 293.87h0.6M610.61 306.89h0.6M599.1 312.44h0.6M608.78 305.51h0.6M612.02 303.84h0.6M597.9 291.22h0.6M607.52 304.28h0.6M591.67 290.59h0.6M617.7 309.62h0.6M585.49 312.67h0.6M595.55 290.72h0.6M609.88 304.11h0.6M570.61 303.04h0.6M589.4 291.51h0.6M609.38 307.98h0.6M602.03 297.09h0.6M610.8 299.2h0.6M589.44 293.38h0.6M607.74 308.65h0.6M588.38 291.41h0.6M601.38 309.88h0.6M589.2 292.64h0.6M582.4 313.12h0.6M592.38 292.52h0.6M609.92 300.95h0.6M609.01 302.75h0.6M607.11 307.13h0.6M591.59 316.49h0.6M593 312.28h0.6M597.05 312.21h0.6M593.66 312.45h0.6M605.75 293.54h0.6M597.65 289.14h0.6M594.36 312.81h0.6M580.79 295.45h0.6M608.96 305.83h0.6M602.92 310.48h0.6M597.08 312.45h0.6M576.47 295.2h0.6M593.53 312h0.6M611.92 302.38h0.6M600.68 311.01h0.6M595.76 295.21h0.6M607.81 305.9h0.6M579.74 294.97h0.6M611.93 304.57h0.6M582.98 312.31h0.6M587.67 290.9h0.6M604.61 296.14h0.6M602.52 296.01h0.6M601.34 290.08h0.6M592.35 293.29h0.6M607.78 296.37h0.6M589.75 293.88h0.6M600.86 295.18h0.6M610.49 307.43h0.6M601.08 296.29h0.6M604.74 310.65h0.6M592.33 292.02h0.6M613.66 309.63h0.6M608.47 305.24h0.6M617.49 301.81h0.6M604.7 298.37h0.6M610.14 305.48h0.6M612.42 303.75h0.6M599.82 290.98h0.6M585.92 292.34h0.6M598.44 289.32h0.6M594.66 293.45h0.6M604.51 309.03h0.6M596.4 291.98h0.6M617.35 299.15h0.6M586.12 314.64h0.6M593.51 312.34h0.6M594.98 311.67h0.6M575.36 298.19h0.6M608.87 300.66h0.6M599.42 310.96h0.6M607.15 309.22h0.6M591.58 312.94h0.6M576.41 296.74h0.6M591.81 287.8h0.6M609.02 302.34h0.6M584.8 292.03h0.6M582.16 312.09h0.6M607.67 299.96h0.6M607.99 296.6h0.6M597.69 294.31h0.6M573.92 303.58h0.6M601.48 311.41h0.6M593.91 290.38h0.6M591.93 294.6h0.6M606.96 306.34h0.6M596.92 313.53h0.6M610.35 300.81h0.6M577.98 297.44h0.6M582.27 294.87h0.6M600.13 310.77h0.6M594.09 312.51h0.6M605.57 310.33h0.6M595.89 293.46h0.6M577.26 297.15h0.6M599.13 310.66h0.6M603.13 308.91h0.6M604.28 295.18h0.6M595.25 292.82h0.6M580.57 293.84h0.6M609.1 306.87h0.6M606.71 280.42h0.6M610.37 309.76h0.6M610.44 302.9h0.6M594.83 293.28h0.6M606.38 297.82h0.6M620.88 299.26h0.6M603.71 309.36h0.6M586.91 292.45h0.6M610.98 298.44h0.6M607.3 302.65h0.6M605.95 296.26h0.6M597.63 294.52h0.6M599.39 294.49h0.6M605.62 314.45h0.6M585.48 294.79h0.6M572.17 296.5h0.6M606.57 300.76h0.6M599.77 293.47h0.6M603.35 292.4h0.6M597.36 292.94h0.6M582.05 289.85h0.6M605.31 309.46h0.6M604.77 295.57h0.6M574.29 305.66h0.6M586.71 312.2h0.6M605.02 309.93h0.6M607.09 295.25h0.6M601.43 291.61h0.6M607.2 302.14h0.6M574.77 297.84h0.6M596.18 294.95h0.6M603.59 308.99h0.6M597.72 295.37h0.6M609.18 303.99h0.6M607.18 307.12h0.6M592.81 312.24h0.6M608.1 305.61h0.6M576.33 307.89h0.6M609.28 301.77h0.6M606.73 306.01h0.6M604.87 297.84h0.6M580.5 296.34h0.6M585.49 311.77h0.6M604.06 296.36h0.6M577.65 296.59h0.6M596.12 289.94h0.6M599.62 295.1h0.6M609.56 298.72h0.6M605.09 297.01h0.6M604.17 310.61h0.6M606.83 298.53h0.6M590.87 291.52h0.6M607.25 297.51h0.6M610.31 310.67h0.6M608.19 297.06h0.6M607.82 300.4h0.6M610.87 310.62h0.6M606.89 304.95h0.6M606.86 309.03h0.6M588.37 294.54h0.6M613.16 288.49h0.6M576.18 297.7h0.6M591.54 292.51h0.6M586.15 314.54h0.6M592.57 292.86h0.6M603.02 296.8h0.6M609.66 308.08h0.6M584.85 293.65h0.6M607 310.15h0.6M609.68 306.71h0.6M599 295.83h0.6M614.99 297.86h0.6M609.45 299.02h0.6M606.23 297.78h0.6M592.59 314.01h0.6M594.6 292.82h0.6M574.74 296.03h0.6M572.93 300.46h0.6M608.63 306.31h0.6M599.63 312.94h0.6M609.27 299.85h0.6M606.15 308.47h0.6M591.07 315.2h0.6M610.03 309.28h0.6M608.58 307.68h0.6M616.45 294.82h0.6M610.78 288.88h0.6M595.25 292.63h0.6M597.82 293.53h0.6M591.72 293.96h0.6M608.5 301.51h0.6M604.1 296.33h0.6M591.86 293.58h0.6M607.15 297.37h0.6M606.74 289.97h0.6M606.78 312.06h0.6M585.35 294.02h0.6M575.99 307.32h0.6M586.82 294.7h0.6M608.11 300.86h0.6M606.65 300.39h0.6M591.28 315.52h0.6M606.95 300.35h0.6M577.44 296.27h0.6M598.29 289.14h0.6M608.76 304.58h0.6M605.79 297.42h0.6M592.07 293.79h0.6M607.29 300.55h0.6M579.31 296.57h0.6M592.63 294.41h0.6M585.05 294.56h0.6M598.68 312.35h0.6M574 300.68h0.6M574.62 301.42h0.6M586.75 314.95h0.6M598.67 314.82h0.6M603.12 294.79h0.6M612.73 300.15h0.6M607.74 301.81h0.6M611.04 304.03h0.6M575.86 308.31h0.6M610.42 298.28h0.6M606.33 309.37h0.6M607.56 300.26h0.6M576.83 308.85h0.6M579.13 296.47h0.6M607.24 308.55h0.6M606.23 298.05h0.6M598.94 295.31h0.6M594.74 294.12h0.6M605.16 307.82h0.6M608.14 294.98h0.6M597.18 311.92h0.6M606.8 307.7h0.6M572.11 304.73h0.6M604.86 295.01h0.6M604.28 297.07h0.6M605.37 309.9h0.6M594.04 284.58h0.6M575.92 309.88h0.6M608.63 303.94h0.6M595.27 293.62h0.6M587.71 292.95h0.6M592.65 293.38h0.6M603.94 308.82h0.6M603.22 294.75h0.6M605.83 313.73h0.6M607.5 311.1h0.6M574.17 305.52h0.6M608.55 305.55h0.6M606.46 294.32h0.6M589.21 292.75h0.6M598.95 312.39h0.6M607.45 300.4h0.6M602.19 296.6h0.6M606.27 298.7h0.6M598.95 312.23h0.6M574.23 299.06h0.6M591.18 291.92h0.6M605.52 298.25h0.6M600.84 296.02h0.6M575.28 306.32h0.6M607.44 298.85h0.6M605.85 298.72h0.6M604.66 292.57h0.6M598.37 311.33h0.6M583.64 295.38h0.6M597.44 312.86h0.6M581.43 313.72h0.6M580.57 310.04h0.6M593.84 293.7h0.6M572.97 302.51h0.6M574.81 300.91h0.6M609.37 304.05h0.6M593.54 313.34h0.6M606.83 308.22h0.6M594.69 292.25h0.6M592.64 294.06h0.6M605.17 307.72h0.6M605.46 292.81h0.6M607.46 309.3h0.6M608.74 303.49h0.6M605.92 297.96h0.6M612.9 299.62h0.6M574.95 298.23h0.6M595.87 314.18h0.6M602.87 297.3h0.6M603.68 297.15h0.6M606.17 298.98h0.6M575.85 298.08h0.6M606.42 295.53h0.6M592.24 292.57h0.6M572.86 297.43h0.6M598.83 311.88h0.6M604.93 297.31h0.6M608.56 309.23h0.6M597.92 312.15h0.6M594.38 289.19h0.6M606.58 300.6h0.6M573.35 297.69h0.6M601.76 296.66h0.6M591.26 292.64h0.6M593.04 294.53h0.6M605.83 296.63h0.6M583.94 314.04h0.6M604.51 298.53h0.6M608.95 303.29h0.6M586.59 290.9h0.6M594.63 313.33h0.6M587.81 294.75h0.6M610.84 300.27h0.6M598.77 294.08h0.6M609.01 307.81h0.6M598.41 295.52h0.6M610.68 301.94h0.6M571.61 303.45h0.6M609.97 300.97h0.6M610.28 300.13h0.6M570.59 298.51h0.6M600.36 291.24h0.6M594.91 291.51h0.6M609.59 303.98h0.6M573.85 306.24h0.6M603.8 311.19h0.6M607 288.12h0.6M592.42 294.54h0.6M613.4 304.89h0.6M595.08 291.62h0.6M607.32 299.63h0.6M618.35 301.32h0.6M613.84 301.56h0.6M589.92 291.72h0.6M600.46 295.6h0.6M576.3 298.94h0.6M608.37 300.37h0.6M611.3 300.79h0.6M574.38 304.44h0.6M602.36 311.44h0.6M592.55 315.51h0.6M600.92 311.85h0.6M603.06 310.77h0.6M611.23 306.64h0.6M607.4 293.63h0.6M595.26 314.11h0.6M575.97 298.67h0.6M585.15 292.99h0.6M578.19 297.39h0.6M585.12 289.03h0.6M590.59 313.06h0.6M610.57 308.04h0.6M607.32 304.48h0.6M576.23 312.95h0.6M603.57 295.24h0.6M616.11 304.3h0.6M576.31 307.42h0.6M590.36 292.93h0.6M605.39 308.48h0.6M575.73 296.79h0.6M587.63 315.41h0.6M592.33 313.95h0.6M606.95 301.74h0.6M573.51 301.13h0.6M583.39 313.07h0.6M573.21 306.3h0.6M572.91 306.85h0.6M602.87 293.95h0.6M580.96 295.31h0.6M600.21 293.76h0.6M621.84 295.14h0.6M600.52 311.69h0.6M621.63 301.47h0.6M570.91 305.6h0.6M598.19 313.45h0.6M606.95 299.27h0.6M601.94 296.76h0.6M584.92 293.67h0.6M601.77 295.37h0.6M609.13 305.39h0.6M606.39 295.74h0.6M611.99 303.79h0.6M598.81 291.55h0.6M601.55 312.24h0.6M572.72 300.53h0.6M608.59 301.64h0.6M606.05 299.99h0.6M608.92 303.55h0.6M614.74 305.32h0.6M607.49 302.26h0.6M596.22 294.48h0.6M585.88 293.65h0.6M619.97 297.63h0.6M616.04 279.47h0.6M593.16 312.18h0.6M597.83 293.99h0.6M596.12 312.22h0.6M580.5 296.61h0.6M595.27 292.92h0.6M608.12 302.41h0.6M610.23 297.1h0.6M606.58 299.85h0.6M607.82 301.59h0.6M594.39 314.16h0.6M604.66 309.84h0.6M587.17 293.91h0.6M609.63 300.09h0.6M610.79 301.32h0.6M582.11 294.41h0.6M589.28 292.92h0.6M604.12 309.08h0.6M598.74 295.23h0.6M594.04 293.1h0.6M605.76 307.76h0.6M599.15 310.76h0.6M602.51 296.84h0.6M588.34 294.54h0.6M583.42 311.89h0.6M610.09 313.8h0.6M582.15 311.86h0.6M602.69 310.38h0.6M585.91 294.51h0.6M597.99 312.77h0.6M609.2 301.41h0.6M607.1 301.07h0.6M598.84 294.11h0.6M601.66 296.24h0.6M589.85 293.74h0.6M604.9 297.66h0.6M593.96 315.06h0.6M613.45 310.43h0.6M609.12 304.34h0.6M598.63 293.4h0.6M604.14 297.6h0.6M574.46 308.06h0.6M581.83 312.07h0.6M610.69 304.44h0.6M594.66 294.69h0.6M601.8 295.89h0.6M611.63 303.47h0.6M591.35 292.01h0.6M602.98 296.56h0.6M582.87 294.02h0.6M610.88 304.31h0.6M599.35 312.85h0.6M578.46 292.04h0.6M601.62 311.28h0.6M583.97 294.59h0.6M580.8 295.35h0.6M593.3 315.22h0.6M589.57 293.65h0.6M611.48 305.26h0.6M586.7 315.26h0.6M605.02 309.9h0.6M604.2 296.65h0.6M587.85 292.86h0.6M587 294.14h0.6M607.04 298.79h0.6M598.22 295.56h0.6M606.9 301.81h0.6M605.75 310.66h0.6M588.67 286.65h0.6M598.02 295.37h0.6M611.29 298.39h0.6M589.42 293.63h0.6M601.29 311.44h0.6M592.39 291.22h0.6M609.08 299.43h0.6M587.52 294.04h0.6M577.31 310.01h0.6M611.46 299.45h0.6M576 295.9h0.6M589.97 294.58h0.6M584.35 295.32h0.6M574.06 307.5h0.6M573.84 304.45h0.6M568.8 309.06h0.6M577.07 308.69h0.6M609.36 305.1h0.6M606.63 312.55h0.6M601.8 318.05h0.6M586.14 312.15h0.6M573.3 299.79h0.6M609.19 306.29h0.6M608.96 306.14h0.6M597.71 278.04h0.6M576.88 295.26h0.6M588.1 291.37h0.6M573.84 265.55h0.6M601.98 274.09h0.6M593.56 292.4h0.6M592.54 278.15h0.6M582.95 294.54h0.6M588.55 284.53h0.6M584.99 288.31h0.6M581.25 283.31h0.6M589.78 273.7h0.6M589.2 275.63h0.6M584.26 271.66h0.6M588.78 262.74h0.6M587.24 277.66h0.6M575.76 294.03h0.6M584.79 271.65h0.6M591.8 273.93h0.6M575.85 239.94h0.6M581.62 273.41h0.6M582.36 292.02h0.6M581.57 289.95h0.6M582.06 270h0.6M601.65 239.55h0.6M597.23 289.85h0.6M577.22 292.44h0.6M594.16 291.05h0.6M578.93 290.39h0.6M600.74 292.98h0.6M577.48 292.72h0.6M589.42 261.54h0.6M578.91 289.9h0.6M581.66 294.97h0.6M594.18 294.5h0.6M591.93 288.48h0.6M591.45 289.72h0.6M593.55 291.89h0.6M593.86 289.84h0.6M585.43 294.92h0.6M590.05 276.66h0.6M567.23 249.03h0.6M577.56 290.12h0.6M581.49 286.85h0.6M591.96 293.25h0.6M589.72 287.22h0.6M591.41 240.97h0.6M600.96 294.99h0.6M601.2 290.62h0.6M595.42 269.88h0.6M584.28 286.47h0.6M595.17 279.41h0.6M595.92 266.56h0.6M585.34 293.2h0.6M589.44 282.29h0.6M585.45 285.13h0.6M588.01 276.82h0.6M592.44 286.54h0.6M601.21 291.23h0.6M588.01 291.05h0.6M592.02 267.13h0.6M583.01 265.61h0.6M580.74 291.88h0.6M585.02 291.71h0.6M590.68 289.69h0.6M588.68 290.11h0.6M586.22 268.44h0.6M585.36 292.93h0.6M575.25 245.88h0.6M578.85 291.9h0.6M586.07 291.31h0.6M592.73 281.55h0.6M590.54 290.7h0.6M582.51 286.6h0.6M573.74 286.85h0.6M582.26 249.53h0.6M591.95 243.66h0.6M593.15 288.84h0.6M582.93 292.42h0.6M581.95 293.21h0.6M588.53 263.56h0.6M581.04 290.98h0.6M574.93 294.45h0.6M581.95 295.17h0.6M588.36 294.89h0.6M581 247.53h0.6M583.24 294.66h0.6M591.93 291.86h0.6M583.88 281.54h0.6M591.88 294.56h0.6M579.6 284.35h0.6M585.99 257.58h0.6M613.75 248.86h0.6M580.69 290.05h0.6M574.96 258.56h0.6M575.15 292.28h0.6M579.36 294.21h0.6M606.63 289.09h0.6M590.7 288.64h0.6M591.39 294.26h0.6M581.11 289.5h0.6M575.25 288.5h0.6M592.21 249.38h0.6M572.56 268.71h0.6M582.37 283.8h0.6M578.51 262.5h0.6M593.01 260.71h0.6M585.83 293.32h0.6M587.53 256.56h0.6M589.05 294.93h0.6M576.23 292.83h0.6M588.74 278.81h0.6M589.31 272.98h0.6M576.6 290.25h0.6M599.35 286.64h0.6M584.84 294.1h0.6M600.66 294.24h0.6M590.94 286.76h0.6M594 290.86h0.6M581.77 262.55h0.6M583.34 274.66h0.6M590.55 244.05h0.6M576.68 290.24h0.6M580.18 291.58h0.6M570.12 293.79h0.6M568.57 291.84h0.6M580.76 286.61h0.6M584.05 289.47h0.6M578.6 263.04h0.6M576.38 291.93h0.6M583.6 289.99h0.6M585.86 250.66h0.6M580.2 269.08h0.6M598.09 294.59h0.6M596.74 292.11h0.6M587.59 293.95h0.6M597.86 292.66h0.6M580.27 291.21h0.6M587.99 266.77h0.6M594.87 295.62h0.6M582.15 290.03h0.6M581.11 295.25h0.6M596.32 293.05h0.6M611.54 287.4h0.6M582.22 254.59h0.6M593.53 258.49h0.6M578.55 284.35h0.6M596.62 288.13h0.6M592.94 291.82h0.6M584.42 279.71h0.6M589.77 284.43h0.6M598.14 247.34h0.6M583.09 278.39h0.6M590.27 291.76h0.6M581.28 285.59h0.6M593.82 255.73h0.6M584.95 286.89h0.6M594.14 275.91h0.6M585.69 275.83h0.6M601.12 289.67h0.6M585.53 276.96h0.6M593.49 272.99h0.6M583.04 294.42h0.6M601.9 285.92h0.6M567.32 294.01h0.6M598.92 293.32h0.6M594.75 266.22h0.6M565.82 290.71h0.6M587.3 293.55h0.6M592.04 280.13h0.6M580.12 241.73h0.6M574.03 291.06h0.6M586.86 285.2h0.6M588.95 261.3h0.6M592.99 295.26h0.6M605.71 287.63h0.6M582.17 289.92h0.6M582.35 287.45h0.6M585.73 292.5h0.6M590.63 259.08h0.6M577.4 293.88h0.6M588.32 285.72h0.6M584.06 284.08h0.6M590.73 293.57h0.6M574.08 289.47h0.6M585.83 294.77h0.6M591.46 291.55h0.6M587.3 287.39h0.6M581.1 287.65h0.6M588.9 289.67h0.6M583.05 291.81h0.6M582.35 245.71h0.6M595.64 295.38h0.6M583.32 282.8h0.6M583.03 253.56h0.6M584.26 292.15h0.6M593.47 263.53h0.6M574.47 286.23h0.6M585.77 274.2h0.6M588.78 294.31h0.6M589.31 281.63h0.6M582.08 244.44h0.6M601.1 294.76h0.6M574.79 252.28h0.6M594.28 291.07h0.6M582.89 283.84h0.6M590.65 244.49h0.6M588.69 241.55h0.6M595.36 276.65h0.6M584.19 292.89h0.6M589.82 270.06h0.6M578.44 272.73h0.6M576.99 263.05h0.6M593.15 261.09h0.6M603.21 266.35h0.6M585.88 282.92h0.6M593.91 281.28h0.6M579.62 273.15h0.6M597.8 295.05h0.6M588.82 278.82h0.6M589.84 293.94h0.6M586.19 294.87h0.6M590.21 281.62h0.6M584.5 294.06h0.6M590.78 287.58h0.6M577.58 291.48h0.6M585.75 294.61h0.6M588.56 282.5h0.6M589.65 291.05h0.6M580.95 295.29h0.6M577.29 287.13h0.6M586.07 282.69h0.6M585.79 246.74h0.6M585.17 271.06h0.6M592.46 285.43h0.6M587.28 274.17h0.6M576.8 282.48h0.6M583.77 286.77h0.6M584.9 292.9h0.6M581.26 280.11h0.6M584.65 265.91h0.6M588.13 289.31h0.6M588.54 295.61h0.6M589.95 250.31h0.6M582.45 248.9h0.6M600.35 252.35h0.6M586.57 292.71h0.6M581.28 294.69h0.6M592.98 263.91h0.6M600.23 245.07h0.6M586.52 288.46h0.6M592.16 242.44h0.6M592.37 290.63h0.6M585.69 295.57h0.6M592.29 289.68h0.6M592.87 290.18h0.6M587.85 289.66h0.6M578.73 292.37h0.6M575.09 282.35h0.6M571.73 295.55h0.6M588.29 255.93h0.6M593.09 286.23h0.6M581.98 286.87h0.6M586.04 282.16h0.6M581.61 292.14h0.6M598.46 291.6h0.6M576.96 290.08h0.6M577.03 294.68h0.6M581.98 289.88h0.6M579.86 294.74h0.6M584.83 289.82h0.6M576.4 290.98h0.6M587.83 259.59h0.6M578.22 293.84h0.6M587.28 265.35h0.6M569.48 288.83h0.6M591.06 293.23h0.6M580.88 292.15h0.6M584.07 255.48h0.6M577.29 294.57h0.6M586.8 290.91h0.6M590.23 251.94h0.6M580.75 250.69h0.6M586.15 246.23h0.6M589.45 294.36h0.6M602.23 293.43h0.6M590.83 293.62h0.6M601.96 286.4h0.6M599.29 292.1h0.6M596.18 265.68h0.6M590.86 277.21h0.6M592.13 289.69h0.6M588.44 285.7h0.6M583.96 292.18h0.6M585.19 291.72h0.6M593.63 293.12h0.6M588.1 259.7h0.6M592.37 293.43h0.6M590.72 293.72h0.6M570.23 291.06h0.6M589.27 293.15h0.6M593.56 285.74h0.6M576.92 289.06h0.6M597.89 244.87h0.6M591.59 292.07h0.6M586.44 283.92h0.6M580.86 277.31h0.6M604.23 286.14h0.6M582.16 292.95h0.6M581.9 280.72h0.6M608.33 270.61h0.6M597.45 257.97h0.6M582.88 293.44h0.6M580.06 284.27h0.6M585.12 259.45h0.6M602.71 292.43h0.6M566.05 292.36h0.6M585.22 265.19h0.6M595.37 273.83h0.6M568.71 293.12h0.6M603.55 240.1h0.6M601.38 284.99h0.6M605.52 282.12h0.6M586.89 279.19h0.6M592.06 259.96h0.6M595.92 275.97h0.6M590.14 290.08h0.6M584.26 255.8h0.6M576.26 292.32h0.6M582.53 273.35h0.6M565.32 286.43h0.6M584.88 265.1h0.6M585.82 293.63h0.6M587.51 251.98h0.6M589.7 273.85h0.6M572.88 280.99h0.6M586.56 288.58h0.6M591.77 287.77h0.6M583.36 287.68h0.6M595.38 276.44h0.6M595.99 276.59h0.6M583.56 289.06h0.6M589.87 290.8h0.6M592.95 279.25h0.6M578.29 292.2h0.6M588.16 286.4h0.6M587.12 293.77h0.6M596.27 292.91h0.6M583.8 291.55h0.6M598.09 294.82h0.6M580.47 286.84h0.6M581.74 295.48h0.6M598.86 294.85h0.6M598.45 283.75h0.6M570.64 283.09h0.6M584.61 273.01h0.6M595.43 292.41h0.6M608.17 241.34h0.6M587.45 286.65h0.6M575.58 290.97h0.6M596.88 267.67h0.6M586.47 291.07h0.6M591.94 275.55h0.6M599.83 295.54h0.6M578.83 291.37h0.6M586.47 293.67h0.6M596.6 255.48h0.6M593.23 290.95h0.6M579.72 284.6h0.6M583.87 293.75h0.6M604.17 262.6h0.6M572.79 288.04h0.6M600.78 258.74h0.6M592.31 293.8h0.6M601.62 275.39h0.6M586.65 271.03h0.6M595.16 266.88h0.6M586.07 260.43h0.6M596.53 283.34h0.6M578.78 285.88h0.6M589.35 291.92h0.6M592.12 285.43h0.6M595.76 285.56h0.6M595.66 256.39h0.6M593.34 240.25h0.6M589.94 287.62h0.6M586.86 292.29h0.6M599.53 282.63h0.6M577.97 293.24h0.6M583.71 263.38h0.6M575.1 289.48h0.6M601.28 295.63h0.6M594.02 295.13h0.6M595.88 282.15h0.6M587.83 289.43h0.6M578.64 288.27h0.6M590.79 286.85h0.6M593.28 269.2h0.6M593.96 287.11h0.6M590.26 240.41h0.6M570.36 282.87h0.6M589.19 265.39h0.6M584.29 288.51h0.6M589.69 289.3h0.6M568.41 251.47h0.6M602.78 246.06h0.6M581.87 294.77h0.6M585.11 260.17h0.6M583.79 284.17h0.6M584.06 295.62h0.6M582.65 244.58h0.6M575.93 285.92h0.6M595.67 292.75h0.6M595.49 294.66h0.6M600.23 295.47h0.6M596.21 287.12h0.6M585.03 289.45h0.6M581.7 246.14h0.6M585.56 286.74h0.6M578.92 314.13h0.6M598.17 322.14h0.6M583.35 315.24h0.6M597.84 320.02h0.6M584.37 321.42h0.6M590.35 316.47h0.6M594.47 314.7h0.6M581.82 311.93h0.6M598.31 320.77h0.6M578.36 313.43h0.6M593.83 318.28h0.6M572.84 317.19h0.6M598.3 318.03h0.6M601.88 314.27h0.6M601.92 314.91h0.6M600.91 312.65h0.6M575.23 317.81h0.6M609.67 321.95h0.6M583.7 320.8h0.6M597.29 314h0.6M596.71 312.12h0.6M571.32 314.96h0.6" stroke="#111" stroke-width="0.6" fill="none" opacity="0.85"/>
<ellipse cx="590.7" cy="303.3" rx="16.4" ry="8.5" fill="url(#blob)" stroke="#222" stroke-width="0.9" stroke-opacity="0.7"/>
<ellipse cx="590.7" cy="303.3" rx="15.3" ry="7.4" fill="none" stroke="#fff" stroke-width="0.8" opacity="0.9"/>
<ellipse cx="589.98" cy="303.47" rx="13.12" ry="6.8" fill="none" stroke="#555" stroke-width="0.3" opacity="0.55"/>
<ellipse cx="589.55" cy="303.57" rx="11.15" ry="5.78" fill="none" stroke="#fff" stroke-width="0.3" opacity="0.6"/>
<ellipse cx="589.11" cy="303.67" rx="9.18" ry="4.76" fill="none" stroke="#555" stroke-width="0.3" opacity="0.55"/>
<ellipse cx="588.68" cy="303.78" rx="7.22" ry="3.74" fill="none" stroke="#fff" stroke-width="0.3" opacity="0.6"/>
<ellipse cx="588.25" cy="303.88" rx="5.25" ry="2.72" fill="none" stroke="#555" stroke-width="0.3" opacity="0.5"/>
<ellipse cx="587.81" cy="303.98" rx="3.28" ry="1.7" fill="none" stroke="#fff" stroke-width="0.3" opacity="0.7"/>
<ellipse cx="588.4" cy="304.15" rx="2.13" ry="0.55" fill="#fff" opacity="0.95"/>
<rect x="571.8" y="238.4" width="53.4" height="56" fill="none" stroke="#333" stroke-width="0.75"/>
<rect x="588.7" y="255.4" width="19.6" height="18.4" fill="#fff" opacity="0.8"/>
<text x="598.5" y="263.9" font-size="6.8" text-anchor="middle" font-weight="bold" fill="#000" stroke="#000" stroke-width="0.25">Th17</text>
<text x="598.5" y="274.6" font-size="6.8" text-anchor="middle" font-weight="bold" fill="#000" stroke="#000" stroke-width="0.25">2.78</text>
<line x1="538.2" y1="262.3" x2="541" y2="262.3" stroke="#222" stroke-width="0.7"/>
<line x1="538.2" y1="306" x2="541" y2="306" stroke="#222" stroke-width="0.7"/>
<path d="M539.6 244h1.4M539.6 248.5h1.4M539.6 252h1.4M539.6 255h1.4M539.6 258h1.4M539.6 272h1.4M539.6 279h1.4M539.6 285h1.4M539.6 290h1.4M539.6 294h1.4M539.6 297h1.4M539.6 299.5h1.4M539.6 311.5h1.4M539.6 314h1.4M539.6 317h1.4M539.6 321h1.4M539.6 327h1.4M539.6 333h1.4" stroke="#555" stroke-width="0.45" fill="none"/>
<rect x="539.2" y="303.0" width="1.8" height="5.6" fill="#222"/>
<line x1="565.7" y1="339.6" x2="565.7" y2="342.4" stroke="#222" stroke-width="0.7"/>
<line x1="609.8" y1="339.6" x2="609.8" y2="342.4" stroke="#222" stroke-width="0.7"/>
<path d="M545 341v-1.4M550 341v-1.4M554 341v-1.4M557 341v-1.4M574 341v-1.4M577 341v-1.4M581 341v-1.4M586 341v-1.4M592 341v-1.4M598 341v-1.4M603 341v-1.4M606.5 341v-1.4M618 341v-1.4M625 341v-1.4M630 341v-1.4M634 341v-1.4M637.5 341v-1.4M640.5 341v-1.4" stroke="#555" stroke-width="0.45" fill="none"/>
<rect x="559.6" y="339.6" width="11.5" height="1.6" fill="#222"/>
<text x="565.7" y="352.8" font-size="5" text-anchor="middle" font-weight="bold" fill="#111">0</text>
<text x="610.2" y="353.0" font-size="5" font-weight="bold" text-anchor="middle" fill="#111">10<tspan dy="-3.0" font-size="4.6">3</tspan></text>
<text x="531.6" y="307.8" font-size="5" text-anchor="middle" font-weight="bold" fill="#111">0</text>
<text x="532.4" y="264.8" font-size="5" font-weight="bold" text-anchor="middle" fill="#111">10<tspan dy="-3.0" font-size="4.6">3</tspan></text>
</g>
<text x="7.5" y="390.2" font-size="33" font-weight="bold" class="sf" fill="#000">e</text>
<path d="M54.5 389V507.9H220" fill="none" stroke="#111" stroke-width="1.3" stroke-linecap="square"/>
<line x1="50.3" y1="389" x2="54.5" y2="389" stroke="#111" stroke-width="1.2"/>
<text x="49.1" y="392.73" font-size="9.8" text-anchor="end" fill="#1a1a1a">1.5</text>
<line x1="50.3" y1="428.6" x2="54.5" y2="428.6" stroke="#111" stroke-width="1.2"/>
<text x="49.1" y="432.33" font-size="9.8" text-anchor="end" fill="#1a1a1a">1.0</text>
<line x1="50.3" y1="468.3" x2="54.5" y2="468.3" stroke="#111" stroke-width="1.2"/>
<text x="49.1" y="472.03" font-size="9.8" text-anchor="end" fill="#1a1a1a">0.5</text>
<line x1="50.3" y1="507.9" x2="54.5" y2="507.9" stroke="#111" stroke-width="1.2"/>
<text x="49.1" y="511.63" font-size="9.8" text-anchor="end" fill="#1a1a1a">0.0</text>
<line x1="75.2" y1="507.9" x2="75.2" y2="511.3" stroke="#111" stroke-width="1.2"/>
<text x="75.2" y="522.6" font-size="10.5" text-anchor="middle" fill="#1a1a1a">Con</text>
<line x1="106.1" y1="507.9" x2="106.1" y2="511.3" stroke="#111" stroke-width="1.2"/>
<text x="106.1" y="522.6" font-size="10.5" text-anchor="middle" fill="#1a1a1a">0</text>
<line x1="137.2" y1="507.9" x2="137.2" y2="511.3" stroke="#111" stroke-width="1.2"/>
<text x="137.2" y="522.6" font-size="10.5" text-anchor="middle" fill="#1a1a1a">0.1</text>
<line x1="168" y1="507.9" x2="168" y2="511.3" stroke="#111" stroke-width="1.2"/>
<text x="168" y="522.6" font-size="10.5" text-anchor="middle" fill="#1a1a1a">0.5</text>
<line x1="199" y1="507.9" x2="199" y2="511.3" stroke="#111" stroke-width="1.2"/>
<text x="199" y="522.6" font-size="10.5" text-anchor="middle" fill="#1a1a1a">1</text>
<text x="30.8" y="447.5" font-size="10.6" text-anchor="middle" fill="#1a1a1a" transform="rotate(-90 30.8 447.5)">IL-17A mRNA</text>
<line x1="106.1" y1="425" x2="106.1" y2="428.5" stroke="#1a1a1a" stroke-width="1.3"/>
<line x1="101" y1="425" x2="111.2" y2="425" stroke="#1a1a1a" stroke-width="1.6"/>
<rect x="95.8" y="428.5" width="20.6" height="79.4" fill="#D9AFAE" stroke="#4a4a4a" stroke-width="0.9"/>
<line x1="137.15" y1="420.2" x2="137.15" y2="421.5" stroke="#1a1a1a" stroke-width="1.3"/>
<line x1="132.05" y1="420.2" x2="142.25" y2="420.2" stroke="#1a1a1a" stroke-width="1.6"/>
<rect x="126.7" y="421.5" width="20.9" height="86.4" fill="#D7D79B" stroke="#4a4a4a" stroke-width="0.9"/>
<line x1="168.05" y1="449.3" x2="168.05" y2="450" stroke="#1a1a1a" stroke-width="1.3"/>
<line x1="162.95" y1="449.3" x2="173.15" y2="449.3" stroke="#1a1a1a" stroke-width="1.6"/>
<rect x="157.6" y="450" width="20.9" height="57.9" fill="#ABDFAB" stroke="#4a4a4a" stroke-width="0.9"/>
<line x1="199" y1="469" x2="199" y2="473.4" stroke="#1a1a1a" stroke-width="1.3"/>
<line x1="193.9" y1="469" x2="204.1" y2="469" stroke="#1a1a1a" stroke-width="1.6"/>
<rect x="188.6" y="473.4" width="20.8" height="34.5" fill="#8BABD4" stroke="#4a4a4a" stroke-width="0.9"/>
<path d="M75.8 420.5V416H104.5 V420.5" fill="none" stroke="#333" stroke-width="1"/>
<text x="90.02" y="412.6" font-size="11.7" text-anchor="middle" fill="#111" letter-spacing="-1.55" stroke="#111" stroke-width="0.25">####</text>
<path d="M108.2 420V415H168.2 V420" fill="none" stroke="#333" stroke-width="1"/>
<text x="136.2" y="415.93" font-size="10" text-anchor="middle" font-weight="bold" fill="#111" letter-spacing="0.2">****</text>
<path d="M108.2 409.6V405.1H199 V409.6" fill="none" stroke="#333" stroke-width="1"/>
<text x="149.3" y="405.32" font-size="10" text-anchor="middle" font-weight="bold" fill="#111" letter-spacing="0.2">****</text>
<text x="94.5" y="535.6" font-size="10" text-anchor="end" fill="#1a1a1a">SF (mg/mL)</text>
<line x1="95.7" y1="532.4" x2="211.7" y2="532.4" stroke="#111" stroke-width="1.3"/>
<text x="153" y="545" font-size="9.7" text-anchor="middle" fill="#1a1a1a">Th17 Polarization</text>
<path d="M267.8 386V507.2H435.2" fill="none" stroke="#111" stroke-width="1.3" stroke-linecap="square"/>
<line x1="263.6" y1="386" x2="267.8" y2="386" stroke="#111" stroke-width="1.2"/>
<text x="262.4" y="389.73" font-size="9.8" text-anchor="end" fill="#1a1a1a">1.5</text>
<line x1="263.6" y1="426.4" x2="267.8" y2="426.4" stroke="#111" stroke-width="1.2"/>
<text x="262.4" y="430.13" font-size="9.8" text-anchor="end" fill="#1a1a1a">1.0</text>
<line x1="263.6" y1="466.8" x2="267.8" y2="466.8" stroke="#111" stroke-width="1.2"/>
<text x="262.4" y="470.53" font-size="9.8" text-anchor="end" fill="#1a1a1a">0.5</text>
<line x1="263.6" y1="507.2" x2="267.8" y2="507.2" stroke="#111" stroke-width="1.2"/>
<text x="262.4" y="510.93" font-size="9.8" text-anchor="end" fill="#1a1a1a">0.0</text>
<line x1="288.3" y1="507.2" x2="288.3" y2="510.6" stroke="#111" stroke-width="1.2"/>
<text x="288.3" y="522.8" font-size="10.9" text-anchor="middle" fill="#1a1a1a">Con</text>
<line x1="320.2" y1="507.2" x2="320.2" y2="510.6" stroke="#111" stroke-width="1.2"/>
<text x="320.2" y="522.8" font-size="10.9" text-anchor="middle" fill="#1a1a1a">0</text>
<line x1="351.4" y1="507.2" x2="351.4" y2="510.6" stroke="#111" stroke-width="1.2"/>
<text x="351.4" y="522.8" font-size="10.9" text-anchor="middle" fill="#1a1a1a">0.1</text>
<line x1="382.8" y1="507.2" x2="382.8" y2="510.6" stroke="#111" stroke-width="1.2"/>
<text x="382.8" y="522.8" font-size="10.9" text-anchor="middle" fill="#1a1a1a">0.5</text>
<line x1="414" y1="507.2" x2="414" y2="510.6" stroke="#111" stroke-width="1.2"/>
<text x="414" y="522.8" font-size="10.9" text-anchor="middle" fill="#1a1a1a">1</text>
<text x="244.2" y="446.8" font-size="10.6" text-anchor="middle" fill="#1a1a1a" transform="rotate(-90 244.2 446.8)">RORγt  mRNA</text>
<line x1="288.05" y1="502.8" x2="288.05" y2="504" stroke="#1a1a1a" stroke-width="1.3"/>
<line x1="282.95" y1="502.8" x2="293.15" y2="502.8" stroke="#1a1a1a" stroke-width="1.6"/>
<rect x="277.6" y="504" width="20.9" height="3.2" fill="#FFFFFF" stroke="#4a4a4a" stroke-width="0.9"/>
<line x1="320.15" y1="418.9" x2="320.15" y2="426.3" stroke="#1a1a1a" stroke-width="1.3"/>
<line x1="315.05" y1="418.9" x2="325.25" y2="418.9" stroke="#1a1a1a" stroke-width="1.6"/>
<rect x="309.5" y="426.3" width="21.3" height="80.9" fill="#D9AFAE" stroke="#4a4a4a" stroke-width="0.9"/>
<line x1="351.35" y1="455.5" x2="351.35" y2="458.3" stroke="#1a1a1a" stroke-width="1.3"/>
<line x1="346.25" y1="455.5" x2="356.45" y2="455.5" stroke="#1a1a1a" stroke-width="1.6"/>
<rect x="340.7" y="458.3" width="21.3" height="48.9" fill="#D7D79B" stroke="#4a4a4a" stroke-width="0.9"/>
<line x1="382.85" y1="463.8" x2="382.85" y2="470" stroke="#1a1a1a" stroke-width="1.3"/>
<line x1="377.75" y1="463.8" x2="387.95" y2="463.8" stroke="#1a1a1a" stroke-width="1.6"/>
<rect x="372.2" y="470" width="21.3" height="37.2" fill="#ABDFAB" stroke="#4a4a4a" stroke-width="0.9"/>
<line x1="413.95" y1="481.9" x2="413.95" y2="488.2" stroke="#1a1a1a" stroke-width="1.3"/>
<line x1="408.85" y1="481.9" x2="419.05" y2="481.9" stroke="#1a1a1a" stroke-width="1.6"/>
<rect x="403.3" y="488.2" width="21.3" height="19" fill="#8BABD4" stroke="#4a4a4a" stroke-width="0.9"/>
<path d="M288.3 415.5V410.7H318.6 V415.5" fill="none" stroke="#444" stroke-width="1"/>
<text x="302.62" y="408.4" font-size="11.7" text-anchor="middle" fill="#111" letter-spacing="-1.55" stroke="#111" stroke-width="0.25">####</text>
<path d="M322.2 415.5V410.7H351.5 V415.5" fill="none" stroke="#444" stroke-width="1"/>
<text x="336.8" y="410.43" font-size="10" text-anchor="middle" font-weight="bold" fill="#111" letter-spacing="0.2">***</text>
<path d="M322.2 405.6V400.7H383.3 V405.6" fill="none" stroke="#444" stroke-width="1"/>
<text x="351.6" y="401.02" font-size="10" text-anchor="middle" font-weight="bold" fill="#111" letter-spacing="0.2">****</text>
<path d="M322.2 395V390.1H413.2 V395" fill="none" stroke="#444" stroke-width="1"/>
<text x="366.6" y="390.62" font-size="10" text-anchor="middle" font-weight="bold" fill="#111" letter-spacing="0.2">****</text>
<text x="308.7" y="534.8" font-size="10" text-anchor="end" fill="#1a1a1a">SF (mg/mL)</text>
<line x1="309.9" y1="531.5" x2="425.4" y2="531.5" stroke="#111" stroke-width="1.3"/>
<text x="367.8" y="545.4" font-size="10" text-anchor="middle" fill="#1a1a1a">Th17 Polarization</text>
<path d="M481.1 390V508.2H647.3" fill="none" stroke="#111" stroke-width="1.3" stroke-linecap="square"/>
<line x1="476.9" y1="390" x2="481.1" y2="390" stroke="#111" stroke-width="1.2"/>
<text x="475.7" y="393.51" font-size="9.2" text-anchor="end" fill="#1a1a1a">1.5</text>
<line x1="476.9" y1="429.4" x2="481.1" y2="429.4" stroke="#111" stroke-width="1.2"/>
<text x="475.7" y="432.91" font-size="9.2" text-anchor="end" fill="#1a1a1a">1.0</text>
<line x1="476.9" y1="468.8" x2="481.1" y2="468.8" stroke="#111" stroke-width="1.2"/>
<text x="475.7" y="472.31" font-size="9.2" text-anchor="end" fill="#1a1a1a">0.5</text>
<line x1="476.9" y1="508.2" x2="481.1" y2="508.2" stroke="#111" stroke-width="1.2"/>
<text x="475.7" y="511.71" font-size="9.2" text-anchor="end" fill="#1a1a1a">0.0</text>
<line x1="501.8" y1="508.2" x2="501.8" y2="511.6" stroke="#111" stroke-width="1.2"/>
<text x="501.8" y="523.1" font-size="9.65" text-anchor="middle" fill="#1a1a1a">Con</text>
<line x1="533.2" y1="508.2" x2="533.2" y2="511.6" stroke="#111" stroke-width="1.2"/>
<text x="533.2" y="523.1" font-size="9.65" text-anchor="middle" fill="#1a1a1a">0</text>
<line x1="564.2" y1="508.2" x2="564.2" y2="511.6" stroke="#111" stroke-width="1.2"/>
<text x="564.2" y="523.1" font-size="9.65" text-anchor="middle" fill="#1a1a1a">0.1</text>
<line x1="595.2" y1="508.2" x2="595.2" y2="511.6" stroke="#111" stroke-width="1.2"/>
<text x="595.2" y="523.1" font-size="9.65" text-anchor="middle" fill="#1a1a1a">0.5</text>
<line x1="626.5" y1="508.2" x2="626.5" y2="511.6" stroke="#111" stroke-width="1.2"/>
<text x="626.5" y="523.1" font-size="9.65" text-anchor="middle" fill="#1a1a1a">1</text>
<text x="458.4" y="448.4" font-size="10.4" text-anchor="middle" fill="#1a1a1a" transform="rotate(-90 458.4 448.4)">IRF-4  mRNA</text>
<line x1="502" y1="435.1" x2="502" y2="446" stroke="#1a1a1a" stroke-width="1.3"/>
<line x1="496.9" y1="435.1" x2="507.1" y2="435.1" stroke="#1a1a1a" stroke-width="1.6"/>
<rect x="491.6" y="446" width="20.8" height="62.2" fill="#FFFFFF" stroke="#4a4a4a" stroke-width="0.9"/>
<line x1="533.25" y1="427.5" x2="533.25" y2="429.3" stroke="#1a1a1a" stroke-width="1.3"/>
<line x1="528.15" y1="427.5" x2="538.35" y2="427.5" stroke="#1a1a1a" stroke-width="1.6"/>
<rect x="522.9" y="429.3" width="20.7" height="78.9" fill="#D9AFAE" stroke="#4a4a4a" stroke-width="0.9"/>
<line x1="564.15" y1="432.9" x2="564.15" y2="439.5" stroke="#1a1a1a" stroke-width="1.3"/>
<line x1="559.05" y1="432.9" x2="569.25" y2="432.9" stroke="#1a1a1a" stroke-width="1.6"/>
<rect x="553.8" y="439.5" width="20.7" height="68.7" fill="#D7D79B" stroke="#4a4a4a" stroke-width="0.9"/>
<line x1="595.25" y1="437.6" x2="595.25" y2="440.5" stroke="#1a1a1a" stroke-width="1.3"/>
<line x1="590.15" y1="437.6" x2="600.35" y2="437.6" stroke="#1a1a1a" stroke-width="1.6"/>
<rect x="584.7" y="440.5" width="21.1" height="67.7" fill="#ABDFAB" stroke="#4a4a4a" stroke-width="0.9"/>
<line x1="626.55" y1="500.2" x2="626.55" y2="501.3" stroke="#1a1a1a" stroke-width="1.3"/>
<line x1="621.45" y1="500.2" x2="631.65" y2="500.2" stroke="#1a1a1a" stroke-width="1.6"/>
<rect x="616" y="501.3" width="21.1" height="6.9" fill="#8BABD4" stroke="#4a4a4a" stroke-width="0.9"/>
<path d="M501.7 422.6V417.9H531.4 V422.6" fill="none" stroke="#444" stroke-width="1"/>
<text x="517" y="415.6" font-size="11.7" text-anchor="middle" fill="#111" letter-spacing="0" stroke="#111" stroke-width="0.25">#</text>
<path d="M533.5 422.6V417.9H625.6 V422.6" fill="none" stroke="#444" stroke-width="1"/>
<text x="579.6" y="417.52" font-size="10" text-anchor="middle" font-weight="bold" fill="#111" letter-spacing="0.2">****</text>
<text x="521.8" y="534.9" font-size="9.85" text-anchor="end" fill="#1a1a1a">SF (mg/mL)</text>
<line x1="523" y1="531.9" x2="637.1" y2="531.9" stroke="#111" stroke-width="1.3"/>
<text x="580" y="545.1" font-size="9.7" text-anchor="middle" fill="#1a1a1a">Th17 Polarization</text>
<text x="8.5" y="571.2" font-size="33" font-weight="bold" class="sf" fill="#000">f</text>
<text x="235.7" y="590.6" font-size="10.7" text-anchor="middle" fill="#1a1a1a">Th17 polarization</text>
<line x1="161.8" y1="597.4" x2="312.2" y2="597.4" stroke="#111" stroke-width="1.2"/>
<text x="74.3" y="612" font-size="10.7" text-anchor="middle" fill="#1a1a1a">SF (mg/mL)</text>
<text x="138" y="612.2" font-size="10.7" text-anchor="middle" fill="#1a1a1a">0</text>
<text x="177.6" y="612.2" font-size="10.7" text-anchor="middle" fill="#1a1a1a">0</text>
<text x="217.4" y="612.2" font-size="10.7" text-anchor="middle" fill="#1a1a1a">0.1</text>
<text x="256.2" y="612.2" font-size="10.7" text-anchor="middle" fill="#1a1a1a">0.5</text>
<text x="299.3" y="612.2" font-size="10.7" text-anchor="middle" fill="#1a1a1a">1</text>
<text x="73.2" y="631" font-size="11" text-anchor="middle" fill="#1a1a1a">pSTAT3 (Tyr705)</text>
<text x="74.6" y="656.2" font-size="11" text-anchor="middle" fill="#1a1a1a">STAT3</text>
<text x="74.6" y="677" font-size="11" text-anchor="middle" fill="#1a1a1a">GAPDH</text>
<clipPath id="cp0"><rect x="118" y="618.3" width="202.6" height="19.6"/></clipPath>
<rect x="118" y="618.3" width="202.6" height="19.6" fill="url(#bg0)"/>
<clipPath id="cp1"><rect x="118" y="642.5" width="202.6" height="18.7"/></clipPath>
<rect x="118" y="642.5" width="202.6" height="18.7" fill="url(#bg1)"/>
<clipPath id="cp2"><rect x="118" y="664.6" width="202.6" height="18.2"/></clipPath>
<rect x="118" y="664.6" width="202.6" height="18.2" fill="url(#bg2)"/>
<g clip-path="url(#cp0)">
<rect x="122.2" y="624.2" width="27.3" height="2.6" rx="1.3" fill="#444" opacity="0.55" filter="url(#b1)"/>
<rect x="123.7" y="632.1" width="24.3" height="2.4" rx="1.2" fill="#666" opacity="0.28" filter="url(#b1)"/>
<rect x="162.2" y="622.3" width="29.3" height="4.4" rx="2.2" fill="#000" opacity="1" filter="url(#b1)"/>
<rect x="164.7" y="623.18" width="24.3" height="2.64" rx="1.32" fill="#000" opacity="0.8" filter="url(#b1)"/>
<rect x="163.7" y="631.1" width="26.3" height="3" rx="1.5" fill="#222" opacity="0.7" filter="url(#b1)"/>
<rect x="202.2" y="622.4" width="29.3" height="3.6" rx="1.8" fill="#000" opacity="1" filter="url(#b1)"/>
<rect x="204.7" y="623.12" width="24.3" height="2.16" rx="1.08" fill="#000" opacity="0.8" filter="url(#b1)"/>
<rect x="203.7" y="630.5" width="26.3" height="3" rx="1.5" fill="#222" opacity="0.62" filter="url(#b1)"/>
<rect x="243.1" y="622.2" width="29.2" height="3" rx="1.5" fill="#000" opacity="0.9" filter="url(#b1)"/>
<rect x="245.6" y="622.8" width="24.2" height="1.8" rx="0.9" fill="#000" opacity="0.8" filter="url(#b1)"/>
<rect x="244.6" y="630.9" width="26.2" height="2.6" rx="1.3" fill="#444" opacity="0.5" filter="url(#b1)"/>
<rect x="284" y="623" width="31" height="2.4" rx="1.2" fill="#444" opacity="0.5" filter="url(#b1)"/>
<rect x="285.5" y="631" width="28" height="2.4" rx="1.2" fill="#666" opacity="0.35" filter="url(#b1)"/>
<rect x="203.5" y="626.8" width="8.5" height="3.2" rx="1.6" fill="#222" opacity="0.55" filter="url(#b1)"/>
</g>
<g clip-path="url(#cp1)">
<rect x="121.9" y="646.8" width="31.3" height="4.4" rx="2.2" fill="#0c0c0c" opacity="0.9" filter="url(#b1)"/>
<rect x="125.4" y="647.8" width="24.3" height="2" rx="1" fill="#000" opacity="0.25" filter="url(#b1)"/>
<rect x="124.4" y="655.1" width="26.3" height="2.6" rx="1.3" fill="#555" opacity="0.42" filter="url(#b1)"/>
<rect x="163.1" y="647" width="31" height="4.4" rx="2.2" fill="#0c0c0c" opacity="0.9" filter="url(#b1)"/>
<rect x="166.6" y="648" width="24" height="2" rx="1" fill="#000" opacity="0.25" filter="url(#b1)"/>
<rect x="165.6" y="655.3" width="26" height="2.6" rx="1.3" fill="#555" opacity="0.42" filter="url(#b1)"/>
<rect x="204" y="646.8" width="31" height="4.4" rx="2.2" fill="#0c0c0c" opacity="0.9" filter="url(#b1)"/>
<rect x="207.5" y="647.8" width="24" height="2" rx="1" fill="#000" opacity="0.25" filter="url(#b1)"/>
<rect x="206.5" y="655.1" width="26" height="2.6" rx="1.3" fill="#555" opacity="0.42" filter="url(#b1)"/>
<rect x="245.9" y="646" width="31" height="4.4" rx="2.2" fill="#0c0c0c" opacity="0.9" filter="url(#b1)"/>
<rect x="249.4" y="647" width="24" height="2" rx="1" fill="#000" opacity="0.25" filter="url(#b1)"/>
<rect x="248.4" y="654.3" width="26" height="2.6" rx="1.3" fill="#555" opacity="0.42" filter="url(#b1)"/>
<rect x="286.8" y="645.6" width="29.2" height="4.4" rx="2.2" fill="#0c0c0c" opacity="0.9" filter="url(#b1)"/>
<rect x="290.3" y="646.6" width="22.2" height="2" rx="1" fill="#000" opacity="0.25" filter="url(#b1)"/>
<rect x="289.3" y="653.9" width="24.2" height="2.6" rx="1.3" fill="#555" opacity="0.42" filter="url(#b1)"/>
</g>
<g clip-path="url(#cp2)">
<ellipse cx="140.6" cy="674.9" rx="18.8" ry="3.3" fill="#000" filter="url(#b2)"/>
<ellipse cx="140.6" cy="674.9" rx="16" ry="2.9" fill="#000" filter="url(#b1)"/>
<ellipse cx="183.4" cy="674.9" rx="17.4" ry="3.3" fill="#000" filter="url(#b2)"/>
<ellipse cx="183.4" cy="674.9" rx="14.6" ry="2.9" fill="#000" filter="url(#b1)"/>
<ellipse cx="224" cy="674.9" rx="17.8" ry="3.3" fill="#000" filter="url(#b2)"/>
<ellipse cx="224" cy="674.9" rx="15" ry="2.9" fill="#000" filter="url(#b1)"/>
<ellipse cx="262.75" cy="674.9" rx="17.25" ry="3.3" fill="#000" filter="url(#b2)"/>
<ellipse cx="262.75" cy="674.9" rx="14.45" ry="2.9" fill="#000" filter="url(#b1)"/>
<ellipse cx="300.95" cy="674.9" rx="17.25" ry="3.3" fill="#000" filter="url(#b2)"/>
<ellipse cx="300.95" cy="674.9" rx="14.45" ry="2.9" fill="#000" filter="url(#b1)"/>
</g>
<rect x="118" y="618.3" width="202.6" height="19.6" fill="none" stroke="#333" stroke-width="1.1"/>
<rect x="118" y="642.5" width="202.6" height="18.7" fill="none" stroke="#333" stroke-width="1.1"/>
<rect x="118" y="664.6" width="202.6" height="18.2" fill="none" stroke="#333" stroke-width="1.1"/>
<path d="M386 573.6V695.4H554.2" fill="none" stroke="#111" stroke-width="1.3" stroke-linecap="square"/>
<line x1="381.8" y1="573.6" x2="386" y2="573.6" stroke="#111" stroke-width="1.2"/>
<text x="380.6" y="577.11" font-size="9.2" text-anchor="end" fill="#1a1a1a">1.0</text>
<line x1="381.8" y1="597.9" x2="386" y2="597.9" stroke="#111" stroke-width="1.2"/>
<text x="380.6" y="601.41" font-size="9.2" text-anchor="end" fill="#1a1a1a">0.8</text>
<line x1="381.8" y1="622.3" x2="386" y2="622.3" stroke="#111" stroke-width="1.2"/>
<text x="380.6" y="625.81" font-size="9.2" text-anchor="end" fill="#1a1a1a">0.6</text>
<line x1="381.8" y1="646.6" x2="386" y2="646.6" stroke="#111" stroke-width="1.2"/>
<text x="380.6" y="650.11" font-size="9.2" text-anchor="end" fill="#1a1a1a">0.4</text>
<line x1="381.8" y1="671" x2="386" y2="671" stroke="#111" stroke-width="1.2"/>
<text x="380.6" y="674.51" font-size="9.2" text-anchor="end" fill="#1a1a1a">0.2</text>
<line x1="381.8" y1="695.4" x2="386" y2="695.4" stroke="#111" stroke-width="1.2"/>
<text x="380.6" y="698.91" font-size="9.2" text-anchor="end" fill="#1a1a1a">0.0</text>
<line x1="407.4" y1="695.4" x2="407.4" y2="698.8" stroke="#111" stroke-width="1.2"/>
<text x="407.4" y="710.7" font-size="9.5" text-anchor="middle" fill="#1a1a1a">0</text>
<line x1="438.2" y1="695.4" x2="438.2" y2="698.8" stroke="#111" stroke-width="1.2"/>
<text x="438.2" y="710.7" font-size="9.5" text-anchor="middle" fill="#1a1a1a">0</text>
<line x1="469.2" y1="695.4" x2="469.2" y2="698.8" stroke="#111" stroke-width="1.2"/>
<text x="469.2" y="710.7" font-size="9.5" text-anchor="middle" fill="#1a1a1a">0.1</text>
<line x1="500.6" y1="695.4" x2="500.6" y2="698.8" stroke="#111" stroke-width="1.2"/>
<text x="500.6" y="710.7" font-size="9.5" text-anchor="middle" fill="#1a1a1a">0.5</text>
<line x1="531.6" y1="695.4" x2="531.6" y2="698.8" stroke="#111" stroke-width="1.2"/>
<text x="531.6" y="710.7" font-size="9.5" text-anchor="middle" fill="#1a1a1a">1</text>
<text x="363.2" y="634.6" font-size="11" text-anchor="middle" fill="#1a1a1a" transform="rotate(-90 363.2 634.6)">pSTAT3/STAT3</text>
<line x1="407.3" y1="642" x2="407.3" y2="645.5" stroke="#1a1a1a" stroke-width="1.4"/>
<line x1="402.1" y1="642" x2="412.5" y2="642" stroke="#1a1a1a" stroke-width="1.7"/>
<rect x="396.6" y="645.5" width="21.4" height="49.9" fill="#FFFFFF" stroke="#111" stroke-width="1.3"/>
<line x1="438.25" y1="588" x2="438.25" y2="593" stroke="#1a1a1a" stroke-width="1.4"/>
<line x1="433.05" y1="588" x2="443.45" y2="588" stroke="#1a1a1a" stroke-width="1.7"/>
<rect x="427.5" y="593" width="21.5" height="102.4" fill="#D9AFAE" stroke="#111" stroke-width="1.3"/>
<line x1="469.25" y1="599" x2="469.25" y2="609" stroke="#1a1a1a" stroke-width="1.4"/>
<line x1="464.05" y1="599" x2="474.45" y2="599" stroke="#1a1a1a" stroke-width="1.7"/>
<rect x="458.5" y="609" width="21.5" height="86.4" fill="#D7D79B" stroke="#111" stroke-width="1.3"/>
<line x1="500.75" y1="615" x2="500.75" y2="619.5" stroke="#1a1a1a" stroke-width="1.4"/>
<line x1="495.55" y1="615" x2="505.95" y2="615" stroke="#1a1a1a" stroke-width="1.7"/>
<rect x="490" y="619.5" width="21.5" height="75.9" fill="#ABDFAB" stroke="#111" stroke-width="1.3"/>
<line x1="531.75" y1="630" x2="531.75" y2="641" stroke="#1a1a1a" stroke-width="1.4"/>
<line x1="526.55" y1="630" x2="536.95" y2="630" stroke="#1a1a1a" stroke-width="1.7"/>
<rect x="521" y="641" width="21.5" height="54.4" fill="#8BABD4" stroke="#111" stroke-width="1.3"/>
<path d="M407.1 586.4V581.4H437.3 V586.4" fill="none" stroke="#333" stroke-width="1"/>
<text x="422.12" y="579" font-size="11.7" text-anchor="middle" fill="#111" letter-spacing="-1.55" stroke="#111" stroke-width="0.25">####</text>
<path d="M439.6 586.1V580.9H501.1 V586.1" fill="none" stroke="#333" stroke-width="1"/>
<text x="469.98" y="581.35" font-size="12" text-anchor="middle" font-weight="bold" fill="#111" letter-spacing="0.75">**</text>
<path d="M439.6 575.6V570.3H531.2 V575.6" fill="none" stroke="#333" stroke-width="1"/>
<text x="486.18" y="571.15" font-size="12" text-anchor="middle" font-weight="bold" fill="#111" letter-spacing="0.75">****</text>
<text x="429" y="722.3" font-size="9.7" text-anchor="end" fill="#1a1a1a">SF (mg/mL)</text>
<line x1="430.2" y1="719.6" x2="542.3" y2="719.6" stroke="#111" stroke-width="1.3"/>
<text x="490.5" y="732.9" font-size="9.8" text-anchor="middle" fill="#1a1a1a">Th17 Polarization</text>
</svg>
</body></html>
